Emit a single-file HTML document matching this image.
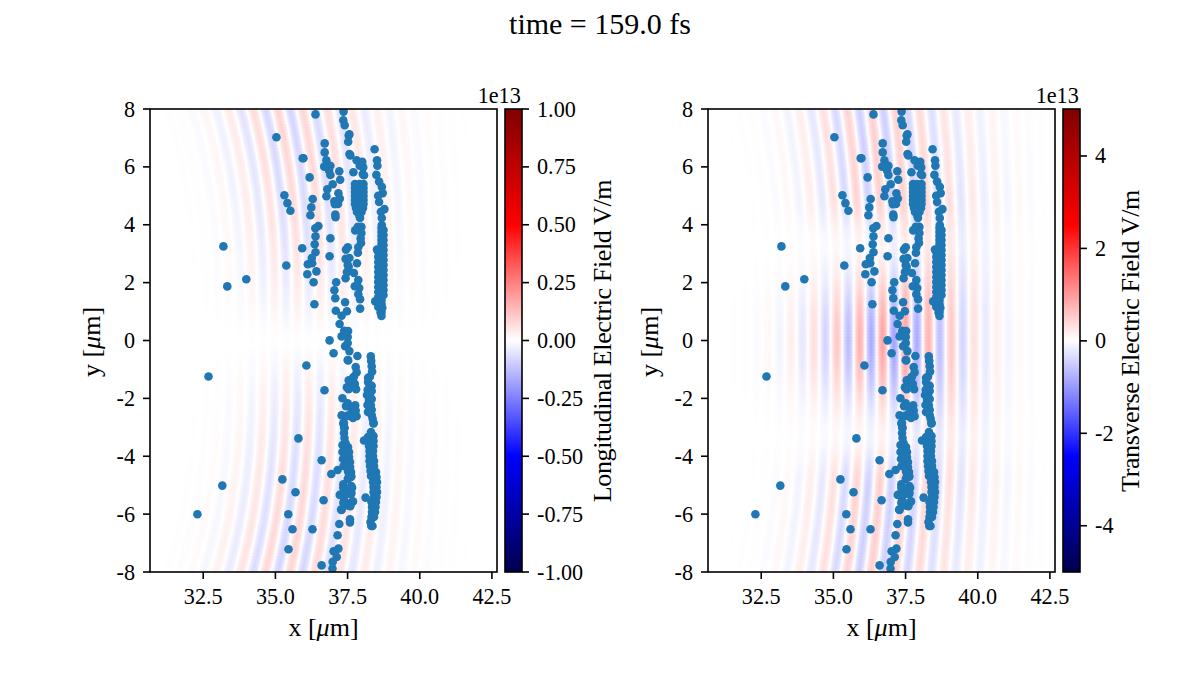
<!DOCTYPE html><html><head><meta charset="utf-8"><style>html,body{margin:0;padding:0;background:#fff;}svg{display:block;}.w stop{stop-color:#fff}</style></head><body>
<svg width="1200" height="675" viewBox="0 0 1200 675" font-family="'Liberation Serif', 'Times New Roman', serif">
<defs><linearGradient id="seis" x1="0" y1="1" x2="0" y2="0"><stop offset="0" stop-color="#00004d"/><stop offset="0.25" stop-color="#0000ff"/><stop offset="0.5" stop-color="#ffffff"/><stop offset="0.75" stop-color="#ff0000"/><stop offset="1" stop-color="#800000"/></linearGradient><filter id="fbm" x="-5%" y="-5%" width="110%" height="110%"><feGaussianBlur stdDeviation="0 3"/></filter></defs>
<text x="600" y="34" font-size="30" text-anchor="middle">time = 159.0 fs</text>
<clipPath id="clip0"><rect x="150.0" y="109.0" width="347.0" height="463.0"/></clipPath>
<defs><linearGradient id="p0" gradientUnits="userSpaceOnUse" x1="90.0" y1="0" x2="557.0" y2="0"><stop offset="0.00133" stop-color="#f00" stop-opacity="1.000"/><stop offset="0.00748" stop-color="#f00" stop-opacity="0.707"/><stop offset="0.01363" stop-color="#f00" stop-opacity="0"/><stop offset="0.01363" stop-color="#00f" stop-opacity="0"/><stop offset="0.01978" stop-color="#00f" stop-opacity="0.707"/><stop offset="0.02593" stop-color="#00f" stop-opacity="1.000"/><stop offset="0.03208" stop-color="#00f" stop-opacity="0.707"/><stop offset="0.03823" stop-color="#00f" stop-opacity="0"/><stop offset="0.03823" stop-color="#f00" stop-opacity="0"/><stop offset="0.04438" stop-color="#f00" stop-opacity="0.707"/><stop offset="0.05054" stop-color="#f00" stop-opacity="1.000"/><stop offset="0.05669" stop-color="#f00" stop-opacity="0.707"/><stop offset="0.06284" stop-color="#f00" stop-opacity="0"/><stop offset="0.06284" stop-color="#00f" stop-opacity="0"/><stop offset="0.06899" stop-color="#00f" stop-opacity="0.707"/><stop offset="0.07514" stop-color="#00f" stop-opacity="1.000"/><stop offset="0.08129" stop-color="#00f" stop-opacity="0.707"/><stop offset="0.08744" stop-color="#00f" stop-opacity="0"/><stop offset="0.08744" stop-color="#f00" stop-opacity="0"/><stop offset="0.09359" stop-color="#f00" stop-opacity="0.707"/><stop offset="0.09974" stop-color="#f00" stop-opacity="1.000"/><stop offset="0.10589" stop-color="#f00" stop-opacity="0.707"/><stop offset="0.11204" stop-color="#f00" stop-opacity="0"/><stop offset="0.11204" stop-color="#00f" stop-opacity="0"/><stop offset="0.11820" stop-color="#00f" stop-opacity="0.707"/><stop offset="0.12435" stop-color="#00f" stop-opacity="1.000"/><stop offset="0.13050" stop-color="#00f" stop-opacity="0.707"/><stop offset="0.13665" stop-color="#00f" stop-opacity="0"/><stop offset="0.13665" stop-color="#f00" stop-opacity="0"/><stop offset="0.14280" stop-color="#f00" stop-opacity="0.707"/><stop offset="0.14895" stop-color="#f00" stop-opacity="1.000"/><stop offset="0.15510" stop-color="#f00" stop-opacity="0.707"/><stop offset="0.16125" stop-color="#f00" stop-opacity="0"/><stop offset="0.16125" stop-color="#00f" stop-opacity="0"/><stop offset="0.16740" stop-color="#00f" stop-opacity="0.707"/><stop offset="0.17355" stop-color="#00f" stop-opacity="1.000"/><stop offset="0.17971" stop-color="#00f" stop-opacity="0.707"/><stop offset="0.18586" stop-color="#00f" stop-opacity="0"/><stop offset="0.18586" stop-color="#f00" stop-opacity="0"/><stop offset="0.19201" stop-color="#f00" stop-opacity="0.707"/><stop offset="0.19816" stop-color="#f00" stop-opacity="1.000"/><stop offset="0.20431" stop-color="#f00" stop-opacity="0.707"/><stop offset="0.21046" stop-color="#f00" stop-opacity="0"/><stop offset="0.21046" stop-color="#00f" stop-opacity="0"/><stop offset="0.21661" stop-color="#00f" stop-opacity="0.707"/><stop offset="0.22276" stop-color="#00f" stop-opacity="1.000"/><stop offset="0.22891" stop-color="#00f" stop-opacity="0.707"/><stop offset="0.23506" stop-color="#00f" stop-opacity="0"/><stop offset="0.23506" stop-color="#f00" stop-opacity="0"/><stop offset="0.24122" stop-color="#f00" stop-opacity="0.707"/><stop offset="0.24737" stop-color="#f00" stop-opacity="1.000"/><stop offset="0.25352" stop-color="#f00" stop-opacity="0.707"/><stop offset="0.25967" stop-color="#f00" stop-opacity="0"/><stop offset="0.25967" stop-color="#00f" stop-opacity="0"/><stop offset="0.26582" stop-color="#00f" stop-opacity="0.707"/><stop offset="0.27197" stop-color="#00f" stop-opacity="1.000"/><stop offset="0.27812" stop-color="#00f" stop-opacity="0.707"/><stop offset="0.28427" stop-color="#00f" stop-opacity="0"/><stop offset="0.28427" stop-color="#f00" stop-opacity="0"/><stop offset="0.29042" stop-color="#f00" stop-opacity="0.707"/><stop offset="0.29657" stop-color="#f00" stop-opacity="1.000"/><stop offset="0.30272" stop-color="#f00" stop-opacity="0.707"/><stop offset="0.30888" stop-color="#f00" stop-opacity="0"/><stop offset="0.30888" stop-color="#00f" stop-opacity="0"/><stop offset="0.31503" stop-color="#00f" stop-opacity="0.707"/><stop offset="0.32118" stop-color="#00f" stop-opacity="1.000"/><stop offset="0.32733" stop-color="#00f" stop-opacity="0.707"/><stop offset="0.33348" stop-color="#00f" stop-opacity="0"/><stop offset="0.33348" stop-color="#f00" stop-opacity="0"/><stop offset="0.33963" stop-color="#f00" stop-opacity="0.707"/><stop offset="0.34578" stop-color="#f00" stop-opacity="1.000"/><stop offset="0.35193" stop-color="#f00" stop-opacity="0.707"/><stop offset="0.35808" stop-color="#f00" stop-opacity="0"/><stop offset="0.35808" stop-color="#00f" stop-opacity="0"/><stop offset="0.36423" stop-color="#00f" stop-opacity="0.707"/><stop offset="0.37039" stop-color="#00f" stop-opacity="1.000"/><stop offset="0.37654" stop-color="#00f" stop-opacity="0.707"/><stop offset="0.38269" stop-color="#00f" stop-opacity="0"/><stop offset="0.38269" stop-color="#f00" stop-opacity="0"/><stop offset="0.38884" stop-color="#f00" stop-opacity="0.707"/><stop offset="0.39499" stop-color="#f00" stop-opacity="1.000"/><stop offset="0.40114" stop-color="#f00" stop-opacity="0.707"/><stop offset="0.40729" stop-color="#f00" stop-opacity="0"/><stop offset="0.40729" stop-color="#00f" stop-opacity="0"/><stop offset="0.41344" stop-color="#00f" stop-opacity="0.707"/><stop offset="0.41959" stop-color="#00f" stop-opacity="1.000"/><stop offset="0.42574" stop-color="#00f" stop-opacity="0.707"/><stop offset="0.43190" stop-color="#00f" stop-opacity="0"/><stop offset="0.43190" stop-color="#f00" stop-opacity="0"/><stop offset="0.43805" stop-color="#f00" stop-opacity="0.707"/><stop offset="0.44420" stop-color="#f00" stop-opacity="1.000"/><stop offset="0.45035" stop-color="#f00" stop-opacity="0.707"/><stop offset="0.45650" stop-color="#f00" stop-opacity="0"/><stop offset="0.45650" stop-color="#00f" stop-opacity="0"/><stop offset="0.46265" stop-color="#00f" stop-opacity="0.707"/><stop offset="0.46880" stop-color="#00f" stop-opacity="1.000"/><stop offset="0.47495" stop-color="#00f" stop-opacity="0.707"/><stop offset="0.48110" stop-color="#00f" stop-opacity="0"/><stop offset="0.48110" stop-color="#f00" stop-opacity="0"/><stop offset="0.48725" stop-color="#f00" stop-opacity="0.707"/><stop offset="0.49340" stop-color="#f00" stop-opacity="1.000"/><stop offset="0.49956" stop-color="#f00" stop-opacity="0.707"/><stop offset="0.50571" stop-color="#f00" stop-opacity="0"/><stop offset="0.50571" stop-color="#00f" stop-opacity="0"/><stop offset="0.51186" stop-color="#00f" stop-opacity="0.707"/><stop offset="0.51801" stop-color="#00f" stop-opacity="1.000"/><stop offset="0.52416" stop-color="#00f" stop-opacity="0.707"/><stop offset="0.53031" stop-color="#00f" stop-opacity="0"/><stop offset="0.53031" stop-color="#f00" stop-opacity="0"/><stop offset="0.53646" stop-color="#f00" stop-opacity="0.707"/><stop offset="0.54261" stop-color="#f00" stop-opacity="1.000"/><stop offset="0.54876" stop-color="#f00" stop-opacity="0.707"/><stop offset="0.55491" stop-color="#f00" stop-opacity="0"/><stop offset="0.55491" stop-color="#00f" stop-opacity="0"/><stop offset="0.56107" stop-color="#00f" stop-opacity="0.707"/><stop offset="0.56722" stop-color="#00f" stop-opacity="1.000"/><stop offset="0.57337" stop-color="#00f" stop-opacity="0.707"/><stop offset="0.57952" stop-color="#00f" stop-opacity="0"/><stop offset="0.57952" stop-color="#f00" stop-opacity="0"/><stop offset="0.58567" stop-color="#f00" stop-opacity="0.707"/><stop offset="0.59182" stop-color="#f00" stop-opacity="1.000"/><stop offset="0.59797" stop-color="#f00" stop-opacity="0.707"/><stop offset="0.60412" stop-color="#f00" stop-opacity="0"/><stop offset="0.60412" stop-color="#00f" stop-opacity="0"/><stop offset="0.61027" stop-color="#00f" stop-opacity="0.707"/><stop offset="0.61642" stop-color="#00f" stop-opacity="1.000"/><stop offset="0.62257" stop-color="#00f" stop-opacity="0.707"/><stop offset="0.62873" stop-color="#00f" stop-opacity="0"/><stop offset="0.62873" stop-color="#f00" stop-opacity="0"/><stop offset="0.63488" stop-color="#f00" stop-opacity="0.707"/><stop offset="0.64103" stop-color="#f00" stop-opacity="1.000"/><stop offset="0.64718" stop-color="#f00" stop-opacity="0.707"/><stop offset="0.65333" stop-color="#f00" stop-opacity="0"/><stop offset="0.65333" stop-color="#00f" stop-opacity="0"/><stop offset="0.65948" stop-color="#00f" stop-opacity="0.707"/><stop offset="0.66563" stop-color="#00f" stop-opacity="1.000"/><stop offset="0.67178" stop-color="#00f" stop-opacity="0.707"/><stop offset="0.67793" stop-color="#00f" stop-opacity="0"/><stop offset="0.67793" stop-color="#f00" stop-opacity="0"/><stop offset="0.68408" stop-color="#f00" stop-opacity="0.707"/><stop offset="0.69024" stop-color="#f00" stop-opacity="1.000"/><stop offset="0.69639" stop-color="#f00" stop-opacity="0.707"/><stop offset="0.70254" stop-color="#f00" stop-opacity="0"/><stop offset="0.70254" stop-color="#00f" stop-opacity="0"/><stop offset="0.70869" stop-color="#00f" stop-opacity="0.707"/><stop offset="0.71484" stop-color="#00f" stop-opacity="1.000"/><stop offset="0.72099" stop-color="#00f" stop-opacity="0.707"/><stop offset="0.72714" stop-color="#00f" stop-opacity="0"/><stop offset="0.72714" stop-color="#f00" stop-opacity="0"/><stop offset="0.73329" stop-color="#f00" stop-opacity="0.707"/><stop offset="0.73944" stop-color="#f00" stop-opacity="1.000"/><stop offset="0.74559" stop-color="#f00" stop-opacity="0.707"/><stop offset="0.75175" stop-color="#f00" stop-opacity="0"/><stop offset="0.75175" stop-color="#00f" stop-opacity="0"/><stop offset="0.75790" stop-color="#00f" stop-opacity="0.707"/><stop offset="0.76405" stop-color="#00f" stop-opacity="1.000"/><stop offset="0.77020" stop-color="#00f" stop-opacity="0.707"/><stop offset="0.77635" stop-color="#00f" stop-opacity="0"/><stop offset="0.77635" stop-color="#f00" stop-opacity="0"/><stop offset="0.78250" stop-color="#f00" stop-opacity="0.707"/><stop offset="0.78865" stop-color="#f00" stop-opacity="1.000"/><stop offset="0.79480" stop-color="#f00" stop-opacity="0.707"/><stop offset="0.80095" stop-color="#f00" stop-opacity="0"/><stop offset="0.80095" stop-color="#00f" stop-opacity="0"/><stop offset="0.80710" stop-color="#00f" stop-opacity="0.707"/><stop offset="0.81325" stop-color="#00f" stop-opacity="1.000"/><stop offset="0.81941" stop-color="#00f" stop-opacity="0.707"/><stop offset="0.82556" stop-color="#00f" stop-opacity="0"/><stop offset="0.82556" stop-color="#f00" stop-opacity="0"/><stop offset="0.83171" stop-color="#f00" stop-opacity="0.707"/><stop offset="0.83786" stop-color="#f00" stop-opacity="1.000"/><stop offset="0.84401" stop-color="#f00" stop-opacity="0.707"/><stop offset="0.85016" stop-color="#f00" stop-opacity="0"/><stop offset="0.85016" stop-color="#00f" stop-opacity="0"/><stop offset="0.85631" stop-color="#00f" stop-opacity="0.707"/><stop offset="0.86246" stop-color="#00f" stop-opacity="1.000"/><stop offset="0.86861" stop-color="#00f" stop-opacity="0.707"/><stop offset="0.87476" stop-color="#00f" stop-opacity="0"/><stop offset="0.87476" stop-color="#f00" stop-opacity="0"/><stop offset="0.88092" stop-color="#f00" stop-opacity="0.707"/><stop offset="0.88707" stop-color="#f00" stop-opacity="1.000"/><stop offset="0.89322" stop-color="#f00" stop-opacity="0.707"/><stop offset="0.89937" stop-color="#f00" stop-opacity="0"/><stop offset="0.89937" stop-color="#00f" stop-opacity="0"/><stop offset="0.90552" stop-color="#00f" stop-opacity="0.707"/><stop offset="0.91167" stop-color="#00f" stop-opacity="1.000"/><stop offset="0.91782" stop-color="#00f" stop-opacity="0.707"/><stop offset="0.92397" stop-color="#00f" stop-opacity="0"/><stop offset="0.92397" stop-color="#f00" stop-opacity="0"/><stop offset="0.93012" stop-color="#f00" stop-opacity="0.707"/><stop offset="0.93627" stop-color="#f00" stop-opacity="1.000"/><stop offset="0.94243" stop-color="#f00" stop-opacity="0.707"/><stop offset="0.94858" stop-color="#f00" stop-opacity="0"/><stop offset="0.94858" stop-color="#00f" stop-opacity="0"/><stop offset="0.95473" stop-color="#00f" stop-opacity="0.707"/><stop offset="0.96088" stop-color="#00f" stop-opacity="1.000"/><stop offset="0.96703" stop-color="#00f" stop-opacity="0.707"/><stop offset="0.97318" stop-color="#00f" stop-opacity="0"/><stop offset="0.97318" stop-color="#f00" stop-opacity="0"/><stop offset="0.97933" stop-color="#f00" stop-opacity="0.707"/><stop offset="0.98548" stop-color="#f00" stop-opacity="1.000"/><stop offset="0.99163" stop-color="#f00" stop-opacity="0.707"/><stop offset="0.99778" stop-color="#f00" stop-opacity="0"/><stop offset="0.99778" stop-color="#00f" stop-opacity="0"/></linearGradient><linearGradient class="w" id="m0_0" gradientUnits="userSpaceOnUse" x1="128.3" x2="518.7"><stop offset="0.000" stop-opacity="0.00"/><stop offset="0.056" stop-opacity="0.01"/><stop offset="0.111" stop-opacity="0.04"/><stop offset="0.167" stop-opacity="0.12"/><stop offset="0.222" stop-opacity="0.28"/><stop offset="0.278" stop-opacity="0.53"/><stop offset="0.333" stop-opacity="0.76"/><stop offset="0.389" stop-opacity="0.85"/><stop offset="0.444" stop-opacity="0.81"/><stop offset="0.500" stop-opacity="0.69"/><stop offset="0.556" stop-opacity="0.53"/><stop offset="0.611" stop-opacity="0.37"/><stop offset="0.667" stop-opacity="0.23"/><stop offset="0.722" stop-opacity="0.13"/><stop offset="0.778" stop-opacity="0.07"/><stop offset="0.833" stop-opacity="0.03"/><stop offset="0.889" stop-opacity="0.01"/><stop offset="0.944" stop-opacity="0.00"/></linearGradient><linearGradient class="w" id="m0_1" gradientUnits="userSpaceOnUse" x1="128.3" x2="518.7"><stop offset="0.000" stop-opacity="0.00"/><stop offset="0.056" stop-opacity="0.01"/><stop offset="0.111" stop-opacity="0.03"/><stop offset="0.167" stop-opacity="0.11"/><stop offset="0.222" stop-opacity="0.26"/><stop offset="0.278" stop-opacity="0.50"/><stop offset="0.333" stop-opacity="0.74"/><stop offset="0.389" stop-opacity="0.85"/><stop offset="0.444" stop-opacity="0.81"/><stop offset="0.500" stop-opacity="0.69"/><stop offset="0.556" stop-opacity="0.54"/><stop offset="0.611" stop-opacity="0.37"/><stop offset="0.667" stop-opacity="0.23"/><stop offset="0.722" stop-opacity="0.13"/><stop offset="0.778" stop-opacity="0.07"/><stop offset="0.833" stop-opacity="0.03"/><stop offset="0.889" stop-opacity="0.01"/><stop offset="0.944" stop-opacity="0.00"/></linearGradient><linearGradient class="w" id="m0_2" gradientUnits="userSpaceOnUse" x1="128.3" x2="518.7"><stop offset="0.000" stop-opacity="0.00"/><stop offset="0.056" stop-opacity="0.01"/><stop offset="0.111" stop-opacity="0.03"/><stop offset="0.167" stop-opacity="0.09"/><stop offset="0.222" stop-opacity="0.24"/><stop offset="0.278" stop-opacity="0.47"/><stop offset="0.333" stop-opacity="0.71"/><stop offset="0.389" stop-opacity="0.84"/><stop offset="0.444" stop-opacity="0.81"/><stop offset="0.500" stop-opacity="0.70"/><stop offset="0.556" stop-opacity="0.54"/><stop offset="0.611" stop-opacity="0.38"/><stop offset="0.667" stop-opacity="0.24"/><stop offset="0.722" stop-opacity="0.13"/><stop offset="0.778" stop-opacity="0.07"/><stop offset="0.833" stop-opacity="0.03"/><stop offset="0.889" stop-opacity="0.01"/><stop offset="0.944" stop-opacity="0.00"/></linearGradient><linearGradient class="w" id="m0_3" gradientUnits="userSpaceOnUse" x1="128.3" x2="518.7"><stop offset="0.056" stop-opacity="0.01"/><stop offset="0.111" stop-opacity="0.02"/><stop offset="0.167" stop-opacity="0.08"/><stop offset="0.222" stop-opacity="0.22"/><stop offset="0.278" stop-opacity="0.44"/><stop offset="0.333" stop-opacity="0.69"/><stop offset="0.389" stop-opacity="0.83"/><stop offset="0.444" stop-opacity="0.81"/><stop offset="0.500" stop-opacity="0.70"/><stop offset="0.556" stop-opacity="0.55"/><stop offset="0.611" stop-opacity="0.38"/><stop offset="0.667" stop-opacity="0.24"/><stop offset="0.722" stop-opacity="0.14"/><stop offset="0.778" stop-opacity="0.07"/><stop offset="0.833" stop-opacity="0.03"/><stop offset="0.889" stop-opacity="0.01"/><stop offset="0.944" stop-opacity="0.00"/></linearGradient><linearGradient class="w" id="m0_4" gradientUnits="userSpaceOnUse" x1="128.3" x2="518.7"><stop offset="0.056" stop-opacity="0.00"/><stop offset="0.111" stop-opacity="0.02"/><stop offset="0.167" stop-opacity="0.07"/><stop offset="0.222" stop-opacity="0.20"/><stop offset="0.278" stop-opacity="0.42"/><stop offset="0.333" stop-opacity="0.66"/><stop offset="0.389" stop-opacity="0.82"/><stop offset="0.444" stop-opacity="0.80"/><stop offset="0.500" stop-opacity="0.70"/><stop offset="0.556" stop-opacity="0.55"/><stop offset="0.611" stop-opacity="0.39"/><stop offset="0.667" stop-opacity="0.24"/><stop offset="0.722" stop-opacity="0.14"/><stop offset="0.778" stop-opacity="0.07"/><stop offset="0.833" stop-opacity="0.03"/><stop offset="0.889" stop-opacity="0.01"/><stop offset="0.944" stop-opacity="0.00"/></linearGradient><linearGradient class="w" id="m0_5" gradientUnits="userSpaceOnUse" x1="128.3" x2="518.7"><stop offset="0.056" stop-opacity="0.00"/><stop offset="0.111" stop-opacity="0.02"/><stop offset="0.167" stop-opacity="0.07"/><stop offset="0.222" stop-opacity="0.18"/><stop offset="0.278" stop-opacity="0.39"/><stop offset="0.333" stop-opacity="0.64"/><stop offset="0.389" stop-opacity="0.80"/><stop offset="0.444" stop-opacity="0.80"/><stop offset="0.500" stop-opacity="0.70"/><stop offset="0.556" stop-opacity="0.55"/><stop offset="0.611" stop-opacity="0.39"/><stop offset="0.667" stop-opacity="0.25"/><stop offset="0.722" stop-opacity="0.14"/><stop offset="0.778" stop-opacity="0.07"/><stop offset="0.833" stop-opacity="0.03"/><stop offset="0.889" stop-opacity="0.01"/><stop offset="0.944" stop-opacity="0.00"/></linearGradient><linearGradient class="w" id="m0_6" gradientUnits="userSpaceOnUse" x1="128.3" x2="518.7"><stop offset="0.056" stop-opacity="0.00"/><stop offset="0.111" stop-opacity="0.02"/><stop offset="0.167" stop-opacity="0.06"/><stop offset="0.222" stop-opacity="0.17"/><stop offset="0.278" stop-opacity="0.37"/><stop offset="0.333" stop-opacity="0.62"/><stop offset="0.389" stop-opacity="0.79"/><stop offset="0.444" stop-opacity="0.79"/><stop offset="0.500" stop-opacity="0.70"/><stop offset="0.556" stop-opacity="0.55"/><stop offset="0.611" stop-opacity="0.39"/><stop offset="0.667" stop-opacity="0.25"/><stop offset="0.722" stop-opacity="0.14"/><stop offset="0.778" stop-opacity="0.07"/><stop offset="0.833" stop-opacity="0.03"/><stop offset="0.889" stop-opacity="0.01"/><stop offset="0.944" stop-opacity="0.00"/></linearGradient><linearGradient class="w" id="m0_7" gradientUnits="userSpaceOnUse" x1="128.3" x2="518.7"><stop offset="0.056" stop-opacity="0.00"/><stop offset="0.111" stop-opacity="0.01"/><stop offset="0.167" stop-opacity="0.05"/><stop offset="0.222" stop-opacity="0.15"/><stop offset="0.278" stop-opacity="0.35"/><stop offset="0.333" stop-opacity="0.59"/><stop offset="0.389" stop-opacity="0.77"/><stop offset="0.444" stop-opacity="0.78"/><stop offset="0.500" stop-opacity="0.70"/><stop offset="0.556" stop-opacity="0.55"/><stop offset="0.611" stop-opacity="0.39"/><stop offset="0.667" stop-opacity="0.25"/><stop offset="0.722" stop-opacity="0.14"/><stop offset="0.778" stop-opacity="0.07"/><stop offset="0.833" stop-opacity="0.03"/><stop offset="0.889" stop-opacity="0.01"/><stop offset="0.944" stop-opacity="0.00"/></linearGradient><linearGradient class="w" id="m0_8" gradientUnits="userSpaceOnUse" x1="128.3" x2="518.7"><stop offset="0.056" stop-opacity="0.00"/><stop offset="0.111" stop-opacity="0.01"/><stop offset="0.167" stop-opacity="0.05"/><stop offset="0.222" stop-opacity="0.14"/><stop offset="0.278" stop-opacity="0.33"/><stop offset="0.333" stop-opacity="0.57"/><stop offset="0.389" stop-opacity="0.75"/><stop offset="0.444" stop-opacity="0.77"/><stop offset="0.500" stop-opacity="0.69"/><stop offset="0.556" stop-opacity="0.55"/><stop offset="0.611" stop-opacity="0.39"/><stop offset="0.667" stop-opacity="0.25"/><stop offset="0.722" stop-opacity="0.14"/><stop offset="0.778" stop-opacity="0.07"/><stop offset="0.833" stop-opacity="0.03"/><stop offset="0.889" stop-opacity="0.01"/><stop offset="0.944" stop-opacity="0.00"/></linearGradient><linearGradient class="w" id="m0_9" gradientUnits="userSpaceOnUse" x1="128.3" x2="518.7"><stop offset="0.056" stop-opacity="0.00"/><stop offset="0.111" stop-opacity="0.01"/><stop offset="0.167" stop-opacity="0.04"/><stop offset="0.222" stop-opacity="0.13"/><stop offset="0.278" stop-opacity="0.31"/><stop offset="0.333" stop-opacity="0.55"/><stop offset="0.389" stop-opacity="0.74"/><stop offset="0.444" stop-opacity="0.76"/><stop offset="0.500" stop-opacity="0.69"/><stop offset="0.556" stop-opacity="0.55"/><stop offset="0.611" stop-opacity="0.39"/><stop offset="0.667" stop-opacity="0.25"/><stop offset="0.722" stop-opacity="0.14"/><stop offset="0.778" stop-opacity="0.07"/><stop offset="0.833" stop-opacity="0.03"/><stop offset="0.889" stop-opacity="0.01"/><stop offset="0.944" stop-opacity="0.00"/></linearGradient><linearGradient class="w" id="m0_10" gradientUnits="userSpaceOnUse" x1="128.3" x2="518.7"><stop offset="0.056" stop-opacity="0.00"/><stop offset="0.111" stop-opacity="0.01"/><stop offset="0.167" stop-opacity="0.04"/><stop offset="0.222" stop-opacity="0.12"/><stop offset="0.278" stop-opacity="0.29"/><stop offset="0.333" stop-opacity="0.52"/><stop offset="0.389" stop-opacity="0.72"/><stop offset="0.444" stop-opacity="0.75"/><stop offset="0.500" stop-opacity="0.68"/><stop offset="0.556" stop-opacity="0.55"/><stop offset="0.611" stop-opacity="0.39"/><stop offset="0.667" stop-opacity="0.25"/><stop offset="0.722" stop-opacity="0.14"/><stop offset="0.778" stop-opacity="0.07"/><stop offset="0.833" stop-opacity="0.03"/><stop offset="0.889" stop-opacity="0.01"/><stop offset="0.944" stop-opacity="0.00"/></linearGradient><linearGradient class="w" id="m0_11" gradientUnits="userSpaceOnUse" x1="128.3" x2="518.7"><stop offset="0.056" stop-opacity="0.00"/><stop offset="0.111" stop-opacity="0.01"/><stop offset="0.167" stop-opacity="0.03"/><stop offset="0.222" stop-opacity="0.11"/><stop offset="0.278" stop-opacity="0.27"/><stop offset="0.333" stop-opacity="0.50"/><stop offset="0.389" stop-opacity="0.70"/><stop offset="0.444" stop-opacity="0.74"/><stop offset="0.500" stop-opacity="0.67"/><stop offset="0.556" stop-opacity="0.54"/><stop offset="0.611" stop-opacity="0.39"/><stop offset="0.667" stop-opacity="0.25"/><stop offset="0.722" stop-opacity="0.14"/><stop offset="0.778" stop-opacity="0.07"/><stop offset="0.833" stop-opacity="0.03"/><stop offset="0.889" stop-opacity="0.01"/><stop offset="0.944" stop-opacity="0.00"/></linearGradient><linearGradient class="w" id="m0_12" gradientUnits="userSpaceOnUse" x1="128.3" x2="518.7"><stop offset="0.056" stop-opacity="0.00"/><stop offset="0.111" stop-opacity="0.01"/><stop offset="0.167" stop-opacity="0.03"/><stop offset="0.222" stop-opacity="0.10"/><stop offset="0.278" stop-opacity="0.26"/><stop offset="0.333" stop-opacity="0.48"/><stop offset="0.389" stop-opacity="0.68"/><stop offset="0.444" stop-opacity="0.72"/><stop offset="0.500" stop-opacity="0.66"/><stop offset="0.556" stop-opacity="0.53"/><stop offset="0.611" stop-opacity="0.38"/><stop offset="0.667" stop-opacity="0.24"/><stop offset="0.722" stop-opacity="0.14"/><stop offset="0.778" stop-opacity="0.07"/><stop offset="0.833" stop-opacity="0.03"/><stop offset="0.889" stop-opacity="0.01"/><stop offset="0.944" stop-opacity="0.00"/></linearGradient><linearGradient class="w" id="m0_13" gradientUnits="userSpaceOnUse" x1="128.3" x2="518.7"><stop offset="0.056" stop-opacity="0.00"/><stop offset="0.111" stop-opacity="0.01"/><stop offset="0.167" stop-opacity="0.03"/><stop offset="0.222" stop-opacity="0.10"/><stop offset="0.278" stop-opacity="0.24"/><stop offset="0.333" stop-opacity="0.46"/><stop offset="0.389" stop-opacity="0.65"/><stop offset="0.444" stop-opacity="0.70"/><stop offset="0.500" stop-opacity="0.64"/><stop offset="0.556" stop-opacity="0.52"/><stop offset="0.611" stop-opacity="0.38"/><stop offset="0.667" stop-opacity="0.24"/><stop offset="0.722" stop-opacity="0.14"/><stop offset="0.778" stop-opacity="0.07"/><stop offset="0.833" stop-opacity="0.03"/><stop offset="0.889" stop-opacity="0.01"/><stop offset="0.944" stop-opacity="0.00"/></linearGradient><linearGradient class="w" id="m0_14" gradientUnits="userSpaceOnUse" x1="128.3" x2="518.7"><stop offset="0.111" stop-opacity="0.01"/><stop offset="0.167" stop-opacity="0.03"/><stop offset="0.222" stop-opacity="0.09"/><stop offset="0.278" stop-opacity="0.23"/><stop offset="0.333" stop-opacity="0.44"/><stop offset="0.389" stop-opacity="0.63"/><stop offset="0.444" stop-opacity="0.69"/><stop offset="0.500" stop-opacity="0.63"/><stop offset="0.556" stop-opacity="0.51"/><stop offset="0.611" stop-opacity="0.37"/><stop offset="0.667" stop-opacity="0.24"/><stop offset="0.722" stop-opacity="0.13"/><stop offset="0.778" stop-opacity="0.07"/><stop offset="0.833" stop-opacity="0.03"/><stop offset="0.889" stop-opacity="0.01"/><stop offset="0.944" stop-opacity="0.00"/></linearGradient><linearGradient class="w" id="m0_15" gradientUnits="userSpaceOnUse" x1="128.3" x2="518.7"><stop offset="0.111" stop-opacity="0.01"/><stop offset="0.167" stop-opacity="0.02"/><stop offset="0.222" stop-opacity="0.08"/><stop offset="0.278" stop-opacity="0.21"/><stop offset="0.333" stop-opacity="0.42"/><stop offset="0.389" stop-opacity="0.61"/><stop offset="0.444" stop-opacity="0.66"/><stop offset="0.500" stop-opacity="0.61"/><stop offset="0.556" stop-opacity="0.50"/><stop offset="0.611" stop-opacity="0.36"/><stop offset="0.667" stop-opacity="0.23"/><stop offset="0.722" stop-opacity="0.13"/><stop offset="0.778" stop-opacity="0.07"/><stop offset="0.833" stop-opacity="0.03"/><stop offset="0.889" stop-opacity="0.01"/><stop offset="0.944" stop-opacity="0.00"/></linearGradient><linearGradient class="w" id="m0_16" gradientUnits="userSpaceOnUse" x1="128.3" x2="518.7"><stop offset="0.111" stop-opacity="0.00"/><stop offset="0.167" stop-opacity="0.02"/><stop offset="0.222" stop-opacity="0.08"/><stop offset="0.278" stop-opacity="0.20"/><stop offset="0.333" stop-opacity="0.39"/><stop offset="0.389" stop-opacity="0.58"/><stop offset="0.444" stop-opacity="0.64"/><stop offset="0.500" stop-opacity="0.59"/><stop offset="0.556" stop-opacity="0.48"/><stop offset="0.611" stop-opacity="0.35"/><stop offset="0.667" stop-opacity="0.23"/><stop offset="0.722" stop-opacity="0.13"/><stop offset="0.778" stop-opacity="0.06"/><stop offset="0.833" stop-opacity="0.03"/><stop offset="0.889" stop-opacity="0.01"/><stop offset="0.944" stop-opacity="0.00"/></linearGradient><linearGradient class="w" id="m0_17" gradientUnits="userSpaceOnUse" x1="128.3" x2="518.7"><stop offset="0.111" stop-opacity="0.00"/><stop offset="0.167" stop-opacity="0.02"/><stop offset="0.222" stop-opacity="0.07"/><stop offset="0.278" stop-opacity="0.19"/><stop offset="0.333" stop-opacity="0.37"/><stop offset="0.389" stop-opacity="0.55"/><stop offset="0.444" stop-opacity="0.62"/><stop offset="0.500" stop-opacity="0.57"/><stop offset="0.556" stop-opacity="0.47"/><stop offset="0.611" stop-opacity="0.34"/><stop offset="0.667" stop-opacity="0.22"/><stop offset="0.722" stop-opacity="0.12"/><stop offset="0.778" stop-opacity="0.06"/><stop offset="0.833" stop-opacity="0.03"/><stop offset="0.889" stop-opacity="0.01"/><stop offset="0.944" stop-opacity="0.00"/></linearGradient><linearGradient class="w" id="m0_18" gradientUnits="userSpaceOnUse" x1="128.3" x2="518.7"><stop offset="0.111" stop-opacity="0.00"/><stop offset="0.167" stop-opacity="0.02"/><stop offset="0.222" stop-opacity="0.07"/><stop offset="0.278" stop-opacity="0.18"/><stop offset="0.333" stop-opacity="0.35"/><stop offset="0.389" stop-opacity="0.53"/><stop offset="0.444" stop-opacity="0.59"/><stop offset="0.500" stop-opacity="0.54"/><stop offset="0.556" stop-opacity="0.45"/><stop offset="0.611" stop-opacity="0.32"/><stop offset="0.667" stop-opacity="0.21"/><stop offset="0.722" stop-opacity="0.12"/><stop offset="0.778" stop-opacity="0.06"/><stop offset="0.833" stop-opacity="0.03"/><stop offset="0.889" stop-opacity="0.01"/><stop offset="0.944" stop-opacity="0.00"/></linearGradient><linearGradient class="w" id="m0_19" gradientUnits="userSpaceOnUse" x1="128.3" x2="518.7"><stop offset="0.111" stop-opacity="0.00"/><stop offset="0.167" stop-opacity="0.02"/><stop offset="0.222" stop-opacity="0.06"/><stop offset="0.278" stop-opacity="0.16"/><stop offset="0.333" stop-opacity="0.33"/><stop offset="0.389" stop-opacity="0.50"/><stop offset="0.444" stop-opacity="0.56"/><stop offset="0.500" stop-opacity="0.52"/><stop offset="0.556" stop-opacity="0.42"/><stop offset="0.611" stop-opacity="0.31"/><stop offset="0.667" stop-opacity="0.20"/><stop offset="0.722" stop-opacity="0.11"/><stop offset="0.778" stop-opacity="0.06"/><stop offset="0.833" stop-opacity="0.03"/><stop offset="0.889" stop-opacity="0.01"/><stop offset="0.944" stop-opacity="0.00"/></linearGradient><linearGradient class="w" id="m0_20" gradientUnits="userSpaceOnUse" x1="128.3" x2="518.7"><stop offset="0.111" stop-opacity="0.00"/><stop offset="0.167" stop-opacity="0.02"/><stop offset="0.222" stop-opacity="0.06"/><stop offset="0.278" stop-opacity="0.15"/><stop offset="0.333" stop-opacity="0.31"/><stop offset="0.389" stop-opacity="0.46"/><stop offset="0.444" stop-opacity="0.52"/><stop offset="0.500" stop-opacity="0.49"/><stop offset="0.556" stop-opacity="0.40"/><stop offset="0.611" stop-opacity="0.29"/><stop offset="0.667" stop-opacity="0.19"/><stop offset="0.722" stop-opacity="0.11"/><stop offset="0.778" stop-opacity="0.05"/><stop offset="0.833" stop-opacity="0.02"/><stop offset="0.889" stop-opacity="0.01"/><stop offset="0.944" stop-opacity="0.00"/></linearGradient><linearGradient class="w" id="m0_21" gradientUnits="userSpaceOnUse" x1="128.3" x2="518.7"><stop offset="0.111" stop-opacity="0.00"/><stop offset="0.167" stop-opacity="0.01"/><stop offset="0.222" stop-opacity="0.05"/><stop offset="0.278" stop-opacity="0.14"/><stop offset="0.333" stop-opacity="0.28"/><stop offset="0.389" stop-opacity="0.43"/><stop offset="0.444" stop-opacity="0.49"/><stop offset="0.500" stop-opacity="0.45"/><stop offset="0.556" stop-opacity="0.37"/><stop offset="0.611" stop-opacity="0.27"/><stop offset="0.667" stop-opacity="0.17"/><stop offset="0.722" stop-opacity="0.10"/><stop offset="0.778" stop-opacity="0.05"/><stop offset="0.833" stop-opacity="0.02"/><stop offset="0.889" stop-opacity="0.01"/><stop offset="0.944" stop-opacity="0.00"/></linearGradient><linearGradient class="w" id="m0_22" gradientUnits="userSpaceOnUse" x1="128.3" x2="518.7"><stop offset="0.111" stop-opacity="0.00"/><stop offset="0.167" stop-opacity="0.01"/><stop offset="0.222" stop-opacity="0.05"/><stop offset="0.278" stop-opacity="0.13"/><stop offset="0.333" stop-opacity="0.26"/><stop offset="0.389" stop-opacity="0.39"/><stop offset="0.444" stop-opacity="0.45"/><stop offset="0.500" stop-opacity="0.41"/><stop offset="0.556" stop-opacity="0.34"/><stop offset="0.611" stop-opacity="0.25"/><stop offset="0.667" stop-opacity="0.16"/><stop offset="0.722" stop-opacity="0.09"/><stop offset="0.778" stop-opacity="0.05"/><stop offset="0.833" stop-opacity="0.02"/><stop offset="0.889" stop-opacity="0.01"/><stop offset="0.944" stop-opacity="0.00"/></linearGradient><linearGradient class="w" id="m0_23" gradientUnits="userSpaceOnUse" x1="128.3" x2="518.7"><stop offset="0.111" stop-opacity="0.00"/><stop offset="0.167" stop-opacity="0.01"/><stop offset="0.222" stop-opacity="0.04"/><stop offset="0.278" stop-opacity="0.11"/><stop offset="0.333" stop-opacity="0.23"/><stop offset="0.389" stop-opacity="0.35"/><stop offset="0.444" stop-opacity="0.40"/><stop offset="0.500" stop-opacity="0.37"/><stop offset="0.556" stop-opacity="0.31"/><stop offset="0.611" stop-opacity="0.22"/><stop offset="0.667" stop-opacity="0.14"/><stop offset="0.722" stop-opacity="0.08"/><stop offset="0.778" stop-opacity="0.04"/><stop offset="0.833" stop-opacity="0.02"/><stop offset="0.889" stop-opacity="0.01"/><stop offset="0.944" stop-opacity="0.00"/></linearGradient><linearGradient class="w" id="m0_24" gradientUnits="userSpaceOnUse" x1="128.3" x2="518.7"><stop offset="0.111" stop-opacity="0.00"/><stop offset="0.167" stop-opacity="0.01"/><stop offset="0.222" stop-opacity="0.04"/><stop offset="0.278" stop-opacity="0.10"/><stop offset="0.333" stop-opacity="0.21"/><stop offset="0.389" stop-opacity="0.31"/><stop offset="0.444" stop-opacity="0.35"/><stop offset="0.500" stop-opacity="0.33"/><stop offset="0.556" stop-opacity="0.27"/><stop offset="0.611" stop-opacity="0.20"/><stop offset="0.667" stop-opacity="0.13"/><stop offset="0.722" stop-opacity="0.07"/><stop offset="0.778" stop-opacity="0.04"/><stop offset="0.833" stop-opacity="0.02"/><stop offset="0.889" stop-opacity="0.01"/><stop offset="0.944" stop-opacity="0.00"/></linearGradient><linearGradient class="w" id="m0_25" gradientUnits="userSpaceOnUse" x1="128.3" x2="518.7"><stop offset="0.111" stop-opacity="0.00"/><stop offset="0.167" stop-opacity="0.01"/><stop offset="0.222" stop-opacity="0.03"/><stop offset="0.278" stop-opacity="0.09"/><stop offset="0.333" stop-opacity="0.17"/><stop offset="0.389" stop-opacity="0.27"/><stop offset="0.444" stop-opacity="0.30"/><stop offset="0.500" stop-opacity="0.28"/><stop offset="0.556" stop-opacity="0.23"/><stop offset="0.611" stop-opacity="0.17"/><stop offset="0.667" stop-opacity="0.11"/><stop offset="0.722" stop-opacity="0.06"/><stop offset="0.778" stop-opacity="0.03"/><stop offset="0.833" stop-opacity="0.01"/><stop offset="0.889" stop-opacity="0.01"/></linearGradient><linearGradient class="w" id="m0_26" gradientUnits="userSpaceOnUse" x1="128.3" x2="518.7"><stop offset="0.111" stop-opacity="0.00"/><stop offset="0.167" stop-opacity="0.01"/><stop offset="0.222" stop-opacity="0.03"/><stop offset="0.278" stop-opacity="0.07"/><stop offset="0.333" stop-opacity="0.14"/><stop offset="0.389" stop-opacity="0.21"/><stop offset="0.444" stop-opacity="0.24"/><stop offset="0.500" stop-opacity="0.23"/><stop offset="0.556" stop-opacity="0.19"/><stop offset="0.611" stop-opacity="0.14"/><stop offset="0.667" stop-opacity="0.09"/><stop offset="0.722" stop-opacity="0.05"/><stop offset="0.778" stop-opacity="0.03"/><stop offset="0.833" stop-opacity="0.01"/><stop offset="0.889" stop-opacity="0.00"/></linearGradient><linearGradient class="w" id="m0_27" gradientUnits="userSpaceOnUse" x1="128.3" x2="518.7"><stop offset="0.167" stop-opacity="0.01"/><stop offset="0.222" stop-opacity="0.02"/><stop offset="0.278" stop-opacity="0.05"/><stop offset="0.333" stop-opacity="0.10"/><stop offset="0.389" stop-opacity="0.16"/><stop offset="0.444" stop-opacity="0.18"/><stop offset="0.500" stop-opacity="0.17"/><stop offset="0.556" stop-opacity="0.14"/><stop offset="0.611" stop-opacity="0.10"/><stop offset="0.667" stop-opacity="0.06"/><stop offset="0.722" stop-opacity="0.04"/><stop offset="0.778" stop-opacity="0.02"/><stop offset="0.833" stop-opacity="0.01"/><stop offset="0.889" stop-opacity="0.00"/></linearGradient><linearGradient class="w" id="m0_28" gradientUnits="userSpaceOnUse" x1="128.3" x2="518.7"><stop offset="0.167" stop-opacity="0.00"/><stop offset="0.222" stop-opacity="0.01"/><stop offset="0.278" stop-opacity="0.03"/><stop offset="0.333" stop-opacity="0.06"/><stop offset="0.389" stop-opacity="0.10"/><stop offset="0.444" stop-opacity="0.11"/><stop offset="0.500" stop-opacity="0.10"/><stop offset="0.556" stop-opacity="0.08"/><stop offset="0.611" stop-opacity="0.06"/><stop offset="0.667" stop-opacity="0.04"/><stop offset="0.722" stop-opacity="0.02"/><stop offset="0.778" stop-opacity="0.01"/><stop offset="0.833" stop-opacity="0.01"/></linearGradient><linearGradient class="w" id="m0_29" gradientUnits="userSpaceOnUse" x1="128.3" x2="518.7"><stop offset="0.222" stop-opacity="0.00"/><stop offset="0.278" stop-opacity="0.01"/><stop offset="0.333" stop-opacity="0.02"/><stop offset="0.389" stop-opacity="0.03"/><stop offset="0.444" stop-opacity="0.04"/><stop offset="0.500" stop-opacity="0.03"/><stop offset="0.556" stop-opacity="0.03"/><stop offset="0.611" stop-opacity="0.02"/><stop offset="0.667" stop-opacity="0.01"/><stop offset="0.722" stop-opacity="0.01"/><stop offset="0.778" stop-opacity="0.00"/></linearGradient><linearGradient class="w" id="m0_30" gradientUnits="userSpaceOnUse" x1="128.3" x2="518.7"><stop offset="0.222" stop-opacity="0.00"/><stop offset="0.278" stop-opacity="0.01"/><stop offset="0.333" stop-opacity="0.03"/><stop offset="0.389" stop-opacity="0.04"/><stop offset="0.444" stop-opacity="0.04"/><stop offset="0.500" stop-opacity="0.04"/><stop offset="0.556" stop-opacity="0.03"/><stop offset="0.611" stop-opacity="0.03"/><stop offset="0.667" stop-opacity="0.02"/><stop offset="0.722" stop-opacity="0.01"/><stop offset="0.778" stop-opacity="0.00"/></linearGradient><linearGradient class="w" id="m0_31" gradientUnits="userSpaceOnUse" x1="128.3" x2="518.7"><stop offset="0.167" stop-opacity="0.00"/><stop offset="0.222" stop-opacity="0.01"/><stop offset="0.278" stop-opacity="0.03"/><stop offset="0.333" stop-opacity="0.07"/><stop offset="0.389" stop-opacity="0.11"/><stop offset="0.444" stop-opacity="0.12"/><stop offset="0.500" stop-opacity="0.11"/><stop offset="0.556" stop-opacity="0.09"/><stop offset="0.611" stop-opacity="0.07"/><stop offset="0.667" stop-opacity="0.04"/><stop offset="0.722" stop-opacity="0.02"/><stop offset="0.778" stop-opacity="0.01"/><stop offset="0.833" stop-opacity="0.01"/></linearGradient><linearGradient class="w" id="m0_32" gradientUnits="userSpaceOnUse" x1="128.3" x2="518.7"><stop offset="0.167" stop-opacity="0.01"/><stop offset="0.222" stop-opacity="0.02"/><stop offset="0.278" stop-opacity="0.05"/><stop offset="0.333" stop-opacity="0.11"/><stop offset="0.389" stop-opacity="0.17"/><stop offset="0.444" stop-opacity="0.19"/><stop offset="0.500" stop-opacity="0.17"/><stop offset="0.556" stop-opacity="0.14"/><stop offset="0.611" stop-opacity="0.10"/><stop offset="0.667" stop-opacity="0.07"/><stop offset="0.722" stop-opacity="0.04"/><stop offset="0.778" stop-opacity="0.02"/><stop offset="0.833" stop-opacity="0.01"/><stop offset="0.889" stop-opacity="0.00"/></linearGradient><linearGradient class="w" id="m0_33" gradientUnits="userSpaceOnUse" x1="128.3" x2="518.7"><stop offset="0.111" stop-opacity="0.00"/><stop offset="0.167" stop-opacity="0.01"/><stop offset="0.222" stop-opacity="0.03"/><stop offset="0.278" stop-opacity="0.07"/><stop offset="0.333" stop-opacity="0.15"/><stop offset="0.389" stop-opacity="0.22"/><stop offset="0.444" stop-opacity="0.25"/><stop offset="0.500" stop-opacity="0.23"/><stop offset="0.556" stop-opacity="0.19"/><stop offset="0.611" stop-opacity="0.14"/><stop offset="0.667" stop-opacity="0.09"/><stop offset="0.722" stop-opacity="0.05"/><stop offset="0.778" stop-opacity="0.03"/><stop offset="0.833" stop-opacity="0.01"/><stop offset="0.889" stop-opacity="0.00"/></linearGradient><linearGradient class="w" id="m0_34" gradientUnits="userSpaceOnUse" x1="128.3" x2="518.7"><stop offset="0.111" stop-opacity="0.00"/><stop offset="0.167" stop-opacity="0.01"/><stop offset="0.222" stop-opacity="0.03"/><stop offset="0.278" stop-opacity="0.09"/><stop offset="0.333" stop-opacity="0.18"/><stop offset="0.389" stop-opacity="0.27"/><stop offset="0.444" stop-opacity="0.31"/><stop offset="0.500" stop-opacity="0.29"/><stop offset="0.556" stop-opacity="0.24"/><stop offset="0.611" stop-opacity="0.17"/><stop offset="0.667" stop-opacity="0.11"/><stop offset="0.722" stop-opacity="0.06"/><stop offset="0.778" stop-opacity="0.03"/><stop offset="0.833" stop-opacity="0.01"/><stop offset="0.889" stop-opacity="0.01"/></linearGradient><linearGradient class="w" id="m0_35" gradientUnits="userSpaceOnUse" x1="128.3" x2="518.7"><stop offset="0.111" stop-opacity="0.00"/><stop offset="0.167" stop-opacity="0.01"/><stop offset="0.222" stop-opacity="0.04"/><stop offset="0.278" stop-opacity="0.10"/><stop offset="0.333" stop-opacity="0.21"/><stop offset="0.389" stop-opacity="0.32"/><stop offset="0.444" stop-opacity="0.36"/><stop offset="0.500" stop-opacity="0.33"/><stop offset="0.556" stop-opacity="0.28"/><stop offset="0.611" stop-opacity="0.20"/><stop offset="0.667" stop-opacity="0.13"/><stop offset="0.722" stop-opacity="0.07"/><stop offset="0.778" stop-opacity="0.04"/><stop offset="0.833" stop-opacity="0.02"/><stop offset="0.889" stop-opacity="0.01"/><stop offset="0.944" stop-opacity="0.00"/></linearGradient><linearGradient class="w" id="m0_36" gradientUnits="userSpaceOnUse" x1="128.3" x2="518.7"><stop offset="0.111" stop-opacity="0.00"/><stop offset="0.167" stop-opacity="0.01"/><stop offset="0.222" stop-opacity="0.04"/><stop offset="0.278" stop-opacity="0.12"/><stop offset="0.333" stop-opacity="0.24"/><stop offset="0.389" stop-opacity="0.36"/><stop offset="0.444" stop-opacity="0.41"/><stop offset="0.500" stop-opacity="0.38"/><stop offset="0.556" stop-opacity="0.31"/><stop offset="0.611" stop-opacity="0.23"/><stop offset="0.667" stop-opacity="0.15"/><stop offset="0.722" stop-opacity="0.08"/><stop offset="0.778" stop-opacity="0.04"/><stop offset="0.833" stop-opacity="0.02"/><stop offset="0.889" stop-opacity="0.01"/><stop offset="0.944" stop-opacity="0.00"/></linearGradient><linearGradient class="w" id="m0_37" gradientUnits="userSpaceOnUse" x1="128.3" x2="518.7"><stop offset="0.111" stop-opacity="0.00"/><stop offset="0.167" stop-opacity="0.01"/><stop offset="0.222" stop-opacity="0.05"/><stop offset="0.278" stop-opacity="0.13"/><stop offset="0.333" stop-opacity="0.26"/><stop offset="0.389" stop-opacity="0.40"/><stop offset="0.444" stop-opacity="0.45"/><stop offset="0.500" stop-opacity="0.42"/><stop offset="0.556" stop-opacity="0.35"/><stop offset="0.611" stop-opacity="0.25"/><stop offset="0.667" stop-opacity="0.16"/><stop offset="0.722" stop-opacity="0.09"/><stop offset="0.778" stop-opacity="0.05"/><stop offset="0.833" stop-opacity="0.02"/><stop offset="0.889" stop-opacity="0.01"/><stop offset="0.944" stop-opacity="0.00"/></linearGradient><linearGradient class="w" id="m0_38" gradientUnits="userSpaceOnUse" x1="128.3" x2="518.7"><stop offset="0.111" stop-opacity="0.00"/><stop offset="0.167" stop-opacity="0.01"/><stop offset="0.222" stop-opacity="0.05"/><stop offset="0.278" stop-opacity="0.14"/><stop offset="0.333" stop-opacity="0.29"/><stop offset="0.389" stop-opacity="0.43"/><stop offset="0.444" stop-opacity="0.49"/><stop offset="0.500" stop-opacity="0.46"/><stop offset="0.556" stop-opacity="0.38"/><stop offset="0.611" stop-opacity="0.27"/><stop offset="0.667" stop-opacity="0.18"/><stop offset="0.722" stop-opacity="0.10"/><stop offset="0.778" stop-opacity="0.05"/><stop offset="0.833" stop-opacity="0.02"/><stop offset="0.889" stop-opacity="0.01"/><stop offset="0.944" stop-opacity="0.00"/></linearGradient><linearGradient class="w" id="m0_39" gradientUnits="userSpaceOnUse" x1="128.3" x2="518.7"><stop offset="0.111" stop-opacity="0.00"/><stop offset="0.167" stop-opacity="0.02"/><stop offset="0.222" stop-opacity="0.06"/><stop offset="0.278" stop-opacity="0.15"/><stop offset="0.333" stop-opacity="0.31"/><stop offset="0.389" stop-opacity="0.47"/><stop offset="0.444" stop-opacity="0.53"/><stop offset="0.500" stop-opacity="0.49"/><stop offset="0.556" stop-opacity="0.40"/><stop offset="0.611" stop-opacity="0.29"/><stop offset="0.667" stop-opacity="0.19"/><stop offset="0.722" stop-opacity="0.11"/><stop offset="0.778" stop-opacity="0.05"/><stop offset="0.833" stop-opacity="0.02"/><stop offset="0.889" stop-opacity="0.01"/><stop offset="0.944" stop-opacity="0.00"/></linearGradient><linearGradient class="w" id="m0_40" gradientUnits="userSpaceOnUse" x1="128.3" x2="518.7"><stop offset="0.111" stop-opacity="0.00"/><stop offset="0.167" stop-opacity="0.02"/><stop offset="0.222" stop-opacity="0.06"/><stop offset="0.278" stop-opacity="0.17"/><stop offset="0.333" stop-opacity="0.33"/><stop offset="0.389" stop-opacity="0.50"/><stop offset="0.444" stop-opacity="0.56"/><stop offset="0.500" stop-opacity="0.52"/><stop offset="0.556" stop-opacity="0.43"/><stop offset="0.611" stop-opacity="0.31"/><stop offset="0.667" stop-opacity="0.20"/><stop offset="0.722" stop-opacity="0.11"/><stop offset="0.778" stop-opacity="0.06"/><stop offset="0.833" stop-opacity="0.03"/><stop offset="0.889" stop-opacity="0.01"/><stop offset="0.944" stop-opacity="0.00"/></linearGradient><linearGradient class="w" id="m0_41" gradientUnits="userSpaceOnUse" x1="128.3" x2="518.7"><stop offset="0.111" stop-opacity="0.00"/><stop offset="0.167" stop-opacity="0.02"/><stop offset="0.222" stop-opacity="0.07"/><stop offset="0.278" stop-opacity="0.18"/><stop offset="0.333" stop-opacity="0.36"/><stop offset="0.389" stop-opacity="0.53"/><stop offset="0.444" stop-opacity="0.59"/><stop offset="0.500" stop-opacity="0.55"/><stop offset="0.556" stop-opacity="0.45"/><stop offset="0.611" stop-opacity="0.33"/><stop offset="0.667" stop-opacity="0.21"/><stop offset="0.722" stop-opacity="0.12"/><stop offset="0.778" stop-opacity="0.06"/><stop offset="0.833" stop-opacity="0.03"/><stop offset="0.889" stop-opacity="0.01"/><stop offset="0.944" stop-opacity="0.00"/></linearGradient><linearGradient class="w" id="m0_42" gradientUnits="userSpaceOnUse" x1="128.3" x2="518.7"><stop offset="0.111" stop-opacity="0.00"/><stop offset="0.167" stop-opacity="0.02"/><stop offset="0.222" stop-opacity="0.07"/><stop offset="0.278" stop-opacity="0.19"/><stop offset="0.333" stop-opacity="0.38"/><stop offset="0.389" stop-opacity="0.56"/><stop offset="0.444" stop-opacity="0.62"/><stop offset="0.500" stop-opacity="0.57"/><stop offset="0.556" stop-opacity="0.47"/><stop offset="0.611" stop-opacity="0.34"/><stop offset="0.667" stop-opacity="0.22"/><stop offset="0.722" stop-opacity="0.12"/><stop offset="0.778" stop-opacity="0.06"/><stop offset="0.833" stop-opacity="0.03"/><stop offset="0.889" stop-opacity="0.01"/><stop offset="0.944" stop-opacity="0.00"/></linearGradient><linearGradient class="w" id="m0_43" gradientUnits="userSpaceOnUse" x1="128.3" x2="518.7"><stop offset="0.111" stop-opacity="0.00"/><stop offset="0.167" stop-opacity="0.02"/><stop offset="0.222" stop-opacity="0.08"/><stop offset="0.278" stop-opacity="0.20"/><stop offset="0.333" stop-opacity="0.40"/><stop offset="0.389" stop-opacity="0.58"/><stop offset="0.444" stop-opacity="0.64"/><stop offset="0.500" stop-opacity="0.59"/><stop offset="0.556" stop-opacity="0.49"/><stop offset="0.611" stop-opacity="0.35"/><stop offset="0.667" stop-opacity="0.23"/><stop offset="0.722" stop-opacity="0.13"/><stop offset="0.778" stop-opacity="0.07"/><stop offset="0.833" stop-opacity="0.03"/><stop offset="0.889" stop-opacity="0.01"/><stop offset="0.944" stop-opacity="0.00"/></linearGradient><linearGradient class="w" id="m0_44" gradientUnits="userSpaceOnUse" x1="128.3" x2="518.7"><stop offset="0.111" stop-opacity="0.01"/><stop offset="0.167" stop-opacity="0.02"/><stop offset="0.222" stop-opacity="0.08"/><stop offset="0.278" stop-opacity="0.22"/><stop offset="0.333" stop-opacity="0.42"/><stop offset="0.389" stop-opacity="0.61"/><stop offset="0.444" stop-opacity="0.67"/><stop offset="0.500" stop-opacity="0.61"/><stop offset="0.556" stop-opacity="0.50"/><stop offset="0.611" stop-opacity="0.36"/><stop offset="0.667" stop-opacity="0.23"/><stop offset="0.722" stop-opacity="0.13"/><stop offset="0.778" stop-opacity="0.07"/><stop offset="0.833" stop-opacity="0.03"/><stop offset="0.889" stop-opacity="0.01"/><stop offset="0.944" stop-opacity="0.00"/></linearGradient><linearGradient class="w" id="m0_45" gradientUnits="userSpaceOnUse" x1="128.3" x2="518.7"><stop offset="0.111" stop-opacity="0.01"/><stop offset="0.167" stop-opacity="0.03"/><stop offset="0.222" stop-opacity="0.09"/><stop offset="0.278" stop-opacity="0.23"/><stop offset="0.333" stop-opacity="0.44"/><stop offset="0.389" stop-opacity="0.63"/><stop offset="0.444" stop-opacity="0.69"/><stop offset="0.500" stop-opacity="0.63"/><stop offset="0.556" stop-opacity="0.51"/><stop offset="0.611" stop-opacity="0.37"/><stop offset="0.667" stop-opacity="0.24"/><stop offset="0.722" stop-opacity="0.14"/><stop offset="0.778" stop-opacity="0.07"/><stop offset="0.833" stop-opacity="0.03"/><stop offset="0.889" stop-opacity="0.01"/><stop offset="0.944" stop-opacity="0.00"/></linearGradient><linearGradient class="w" id="m0_46" gradientUnits="userSpaceOnUse" x1="128.3" x2="518.7"><stop offset="0.056" stop-opacity="0.00"/><stop offset="0.111" stop-opacity="0.01"/><stop offset="0.167" stop-opacity="0.03"/><stop offset="0.222" stop-opacity="0.10"/><stop offset="0.278" stop-opacity="0.24"/><stop offset="0.333" stop-opacity="0.46"/><stop offset="0.389" stop-opacity="0.66"/><stop offset="0.444" stop-opacity="0.71"/><stop offset="0.500" stop-opacity="0.65"/><stop offset="0.556" stop-opacity="0.52"/><stop offset="0.611" stop-opacity="0.38"/><stop offset="0.667" stop-opacity="0.24"/><stop offset="0.722" stop-opacity="0.14"/><stop offset="0.778" stop-opacity="0.07"/><stop offset="0.833" stop-opacity="0.03"/><stop offset="0.889" stop-opacity="0.01"/><stop offset="0.944" stop-opacity="0.00"/></linearGradient><linearGradient class="w" id="m0_47" gradientUnits="userSpaceOnUse" x1="128.3" x2="518.7"><stop offset="0.056" stop-opacity="0.00"/><stop offset="0.111" stop-opacity="0.01"/><stop offset="0.167" stop-opacity="0.03"/><stop offset="0.222" stop-opacity="0.10"/><stop offset="0.278" stop-opacity="0.26"/><stop offset="0.333" stop-opacity="0.48"/><stop offset="0.389" stop-opacity="0.68"/><stop offset="0.444" stop-opacity="0.72"/><stop offset="0.500" stop-opacity="0.66"/><stop offset="0.556" stop-opacity="0.53"/><stop offset="0.611" stop-opacity="0.38"/><stop offset="0.667" stop-opacity="0.25"/><stop offset="0.722" stop-opacity="0.14"/><stop offset="0.778" stop-opacity="0.07"/><stop offset="0.833" stop-opacity="0.03"/><stop offset="0.889" stop-opacity="0.01"/><stop offset="0.944" stop-opacity="0.00"/></linearGradient><linearGradient class="w" id="m0_48" gradientUnits="userSpaceOnUse" x1="128.3" x2="518.7"><stop offset="0.056" stop-opacity="0.00"/><stop offset="0.111" stop-opacity="0.01"/><stop offset="0.167" stop-opacity="0.03"/><stop offset="0.222" stop-opacity="0.11"/><stop offset="0.278" stop-opacity="0.27"/><stop offset="0.333" stop-opacity="0.50"/><stop offset="0.389" stop-opacity="0.70"/><stop offset="0.444" stop-opacity="0.74"/><stop offset="0.500" stop-opacity="0.67"/><stop offset="0.556" stop-opacity="0.54"/><stop offset="0.611" stop-opacity="0.39"/><stop offset="0.667" stop-opacity="0.25"/><stop offset="0.722" stop-opacity="0.14"/><stop offset="0.778" stop-opacity="0.07"/><stop offset="0.833" stop-opacity="0.03"/><stop offset="0.889" stop-opacity="0.01"/><stop offset="0.944" stop-opacity="0.00"/></linearGradient><linearGradient class="w" id="m0_49" gradientUnits="userSpaceOnUse" x1="128.3" x2="518.7"><stop offset="0.056" stop-opacity="0.00"/><stop offset="0.111" stop-opacity="0.01"/><stop offset="0.167" stop-opacity="0.04"/><stop offset="0.222" stop-opacity="0.12"/><stop offset="0.278" stop-opacity="0.29"/><stop offset="0.333" stop-opacity="0.53"/><stop offset="0.389" stop-opacity="0.72"/><stop offset="0.444" stop-opacity="0.75"/><stop offset="0.500" stop-opacity="0.68"/><stop offset="0.556" stop-opacity="0.55"/><stop offset="0.611" stop-opacity="0.39"/><stop offset="0.667" stop-opacity="0.25"/><stop offset="0.722" stop-opacity="0.14"/><stop offset="0.778" stop-opacity="0.07"/><stop offset="0.833" stop-opacity="0.03"/><stop offset="0.889" stop-opacity="0.01"/><stop offset="0.944" stop-opacity="0.00"/></linearGradient><linearGradient class="w" id="m0_50" gradientUnits="userSpaceOnUse" x1="128.3" x2="518.7"><stop offset="0.056" stop-opacity="0.00"/><stop offset="0.111" stop-opacity="0.01"/><stop offset="0.167" stop-opacity="0.04"/><stop offset="0.222" stop-opacity="0.13"/><stop offset="0.278" stop-opacity="0.31"/><stop offset="0.333" stop-opacity="0.55"/><stop offset="0.389" stop-opacity="0.74"/><stop offset="0.444" stop-opacity="0.76"/><stop offset="0.500" stop-opacity="0.69"/><stop offset="0.556" stop-opacity="0.55"/><stop offset="0.611" stop-opacity="0.39"/><stop offset="0.667" stop-opacity="0.25"/><stop offset="0.722" stop-opacity="0.14"/><stop offset="0.778" stop-opacity="0.07"/><stop offset="0.833" stop-opacity="0.03"/><stop offset="0.889" stop-opacity="0.01"/><stop offset="0.944" stop-opacity="0.00"/></linearGradient><linearGradient class="w" id="m0_51" gradientUnits="userSpaceOnUse" x1="128.3" x2="518.7"><stop offset="0.056" stop-opacity="0.00"/><stop offset="0.111" stop-opacity="0.01"/><stop offset="0.167" stop-opacity="0.05"/><stop offset="0.222" stop-opacity="0.14"/><stop offset="0.278" stop-opacity="0.33"/><stop offset="0.333" stop-opacity="0.57"/><stop offset="0.389" stop-opacity="0.76"/><stop offset="0.444" stop-opacity="0.78"/><stop offset="0.500" stop-opacity="0.69"/><stop offset="0.556" stop-opacity="0.55"/><stop offset="0.611" stop-opacity="0.39"/><stop offset="0.667" stop-opacity="0.25"/><stop offset="0.722" stop-opacity="0.14"/><stop offset="0.778" stop-opacity="0.07"/><stop offset="0.833" stop-opacity="0.03"/><stop offset="0.889" stop-opacity="0.01"/><stop offset="0.944" stop-opacity="0.00"/></linearGradient><linearGradient class="w" id="m0_52" gradientUnits="userSpaceOnUse" x1="128.3" x2="518.7"><stop offset="0.056" stop-opacity="0.00"/><stop offset="0.111" stop-opacity="0.01"/><stop offset="0.167" stop-opacity="0.05"/><stop offset="0.222" stop-opacity="0.16"/><stop offset="0.278" stop-opacity="0.35"/><stop offset="0.333" stop-opacity="0.59"/><stop offset="0.389" stop-opacity="0.77"/><stop offset="0.444" stop-opacity="0.78"/><stop offset="0.500" stop-opacity="0.70"/><stop offset="0.556" stop-opacity="0.55"/><stop offset="0.611" stop-opacity="0.39"/><stop offset="0.667" stop-opacity="0.25"/><stop offset="0.722" stop-opacity="0.14"/><stop offset="0.778" stop-opacity="0.07"/><stop offset="0.833" stop-opacity="0.03"/><stop offset="0.889" stop-opacity="0.01"/><stop offset="0.944" stop-opacity="0.00"/></linearGradient><linearGradient class="w" id="m0_53" gradientUnits="userSpaceOnUse" x1="128.3" x2="518.7"><stop offset="0.056" stop-opacity="0.00"/><stop offset="0.111" stop-opacity="0.02"/><stop offset="0.167" stop-opacity="0.06"/><stop offset="0.222" stop-opacity="0.17"/><stop offset="0.278" stop-opacity="0.37"/><stop offset="0.333" stop-opacity="0.62"/><stop offset="0.389" stop-opacity="0.79"/><stop offset="0.444" stop-opacity="0.79"/><stop offset="0.500" stop-opacity="0.70"/><stop offset="0.556" stop-opacity="0.55"/><stop offset="0.611" stop-opacity="0.39"/><stop offset="0.667" stop-opacity="0.25"/><stop offset="0.722" stop-opacity="0.14"/><stop offset="0.778" stop-opacity="0.07"/><stop offset="0.833" stop-opacity="0.03"/><stop offset="0.889" stop-opacity="0.01"/><stop offset="0.944" stop-opacity="0.00"/></linearGradient><linearGradient class="w" id="m0_54" gradientUnits="userSpaceOnUse" x1="128.3" x2="518.7"><stop offset="0.056" stop-opacity="0.00"/><stop offset="0.111" stop-opacity="0.02"/><stop offset="0.167" stop-opacity="0.07"/><stop offset="0.222" stop-opacity="0.18"/><stop offset="0.278" stop-opacity="0.39"/><stop offset="0.333" stop-opacity="0.64"/><stop offset="0.389" stop-opacity="0.80"/><stop offset="0.444" stop-opacity="0.80"/><stop offset="0.500" stop-opacity="0.70"/><stop offset="0.556" stop-opacity="0.55"/><stop offset="0.611" stop-opacity="0.39"/><stop offset="0.667" stop-opacity="0.25"/><stop offset="0.722" stop-opacity="0.14"/><stop offset="0.778" stop-opacity="0.07"/><stop offset="0.833" stop-opacity="0.03"/><stop offset="0.889" stop-opacity="0.01"/><stop offset="0.944" stop-opacity="0.00"/></linearGradient><linearGradient class="w" id="m0_55" gradientUnits="userSpaceOnUse" x1="128.3" x2="518.7"><stop offset="0.056" stop-opacity="0.00"/><stop offset="0.111" stop-opacity="0.02"/><stop offset="0.167" stop-opacity="0.07"/><stop offset="0.222" stop-opacity="0.20"/><stop offset="0.278" stop-opacity="0.42"/><stop offset="0.333" stop-opacity="0.67"/><stop offset="0.389" stop-opacity="0.82"/><stop offset="0.444" stop-opacity="0.80"/><stop offset="0.500" stop-opacity="0.70"/><stop offset="0.556" stop-opacity="0.55"/><stop offset="0.611" stop-opacity="0.39"/><stop offset="0.667" stop-opacity="0.24"/><stop offset="0.722" stop-opacity="0.14"/><stop offset="0.778" stop-opacity="0.07"/><stop offset="0.833" stop-opacity="0.03"/><stop offset="0.889" stop-opacity="0.01"/><stop offset="0.944" stop-opacity="0.00"/></linearGradient><linearGradient class="w" id="m0_56" gradientUnits="userSpaceOnUse" x1="128.3" x2="518.7"><stop offset="0.056" stop-opacity="0.01"/><stop offset="0.111" stop-opacity="0.02"/><stop offset="0.167" stop-opacity="0.08"/><stop offset="0.222" stop-opacity="0.22"/><stop offset="0.278" stop-opacity="0.44"/><stop offset="0.333" stop-opacity="0.69"/><stop offset="0.389" stop-opacity="0.83"/><stop offset="0.444" stop-opacity="0.81"/><stop offset="0.500" stop-opacity="0.70"/><stop offset="0.556" stop-opacity="0.55"/><stop offset="0.611" stop-opacity="0.38"/><stop offset="0.667" stop-opacity="0.24"/><stop offset="0.722" stop-opacity="0.14"/><stop offset="0.778" stop-opacity="0.07"/><stop offset="0.833" stop-opacity="0.03"/><stop offset="0.889" stop-opacity="0.01"/><stop offset="0.944" stop-opacity="0.00"/></linearGradient><linearGradient class="w" id="m0_57" gradientUnits="userSpaceOnUse" x1="128.3" x2="518.7"><stop offset="0.000" stop-opacity="0.00"/><stop offset="0.056" stop-opacity="0.01"/><stop offset="0.111" stop-opacity="0.03"/><stop offset="0.167" stop-opacity="0.10"/><stop offset="0.222" stop-opacity="0.24"/><stop offset="0.278" stop-opacity="0.47"/><stop offset="0.333" stop-opacity="0.72"/><stop offset="0.389" stop-opacity="0.84"/><stop offset="0.444" stop-opacity="0.81"/><stop offset="0.500" stop-opacity="0.70"/><stop offset="0.556" stop-opacity="0.54"/><stop offset="0.611" stop-opacity="0.38"/><stop offset="0.667" stop-opacity="0.24"/><stop offset="0.722" stop-opacity="0.13"/><stop offset="0.778" stop-opacity="0.07"/><stop offset="0.833" stop-opacity="0.03"/><stop offset="0.889" stop-opacity="0.01"/><stop offset="0.944" stop-opacity="0.00"/></linearGradient><linearGradient class="w" id="m0_58" gradientUnits="userSpaceOnUse" x1="128.3" x2="518.7"><stop offset="0.000" stop-opacity="0.00"/><stop offset="0.056" stop-opacity="0.01"/><stop offset="0.111" stop-opacity="0.03"/><stop offset="0.167" stop-opacity="0.11"/><stop offset="0.222" stop-opacity="0.26"/><stop offset="0.278" stop-opacity="0.50"/><stop offset="0.333" stop-opacity="0.74"/><stop offset="0.389" stop-opacity="0.85"/><stop offset="0.444" stop-opacity="0.81"/><stop offset="0.500" stop-opacity="0.69"/><stop offset="0.556" stop-opacity="0.54"/><stop offset="0.611" stop-opacity="0.37"/><stop offset="0.667" stop-opacity="0.23"/><stop offset="0.722" stop-opacity="0.13"/><stop offset="0.778" stop-opacity="0.07"/><stop offset="0.833" stop-opacity="0.03"/><stop offset="0.889" stop-opacity="0.01"/><stop offset="0.944" stop-opacity="0.00"/></linearGradient><linearGradient class="w" id="m0_59" gradientUnits="userSpaceOnUse" x1="128.3" x2="518.7"><stop offset="0.000" stop-opacity="0.00"/><stop offset="0.056" stop-opacity="0.01"/><stop offset="0.111" stop-opacity="0.04"/><stop offset="0.167" stop-opacity="0.12"/><stop offset="0.222" stop-opacity="0.29"/><stop offset="0.278" stop-opacity="0.53"/><stop offset="0.333" stop-opacity="0.76"/><stop offset="0.389" stop-opacity="0.85"/><stop offset="0.444" stop-opacity="0.81"/><stop offset="0.500" stop-opacity="0.69"/><stop offset="0.556" stop-opacity="0.53"/><stop offset="0.611" stop-opacity="0.37"/><stop offset="0.667" stop-opacity="0.23"/><stop offset="0.722" stop-opacity="0.13"/><stop offset="0.778" stop-opacity="0.07"/><stop offset="0.833" stop-opacity="0.03"/><stop offset="0.889" stop-opacity="0.01"/><stop offset="0.944" stop-opacity="0.00"/></linearGradient><mask id="mk0" maskUnits="userSpaceOnUse" x="130.0" y="89.0" width="387.0" height="503.0"><g filter="url(#fbm)" style="color:#fff"><rect x="140.0" y="101.0" width="367.0" height="8.2" fill="url(#m0_0)"/><rect x="140.0" y="109.0" width="367.0" height="8.2" fill="url(#m0_1)"/><rect x="140.0" y="117.0" width="367.0" height="8.2" fill="url(#m0_2)"/><rect x="140.0" y="125.0" width="367.0" height="8.2" fill="url(#m0_3)"/><rect x="140.0" y="133.0" width="367.0" height="8.2" fill="url(#m0_4)"/><rect x="140.0" y="141.0" width="367.0" height="8.2" fill="url(#m0_5)"/><rect x="140.0" y="149.0" width="367.0" height="8.2" fill="url(#m0_6)"/><rect x="140.0" y="157.0" width="367.0" height="8.2" fill="url(#m0_7)"/><rect x="140.0" y="165.0" width="367.0" height="8.2" fill="url(#m0_8)"/><rect x="140.0" y="173.0" width="367.0" height="8.2" fill="url(#m0_9)"/><rect x="140.0" y="181.0" width="367.0" height="8.2" fill="url(#m0_10)"/><rect x="140.0" y="189.0" width="367.0" height="8.2" fill="url(#m0_11)"/><rect x="140.0" y="197.0" width="367.0" height="8.2" fill="url(#m0_12)"/><rect x="140.0" y="205.0" width="367.0" height="8.2" fill="url(#m0_13)"/><rect x="140.0" y="213.0" width="367.0" height="8.2" fill="url(#m0_14)"/><rect x="140.0" y="221.0" width="367.0" height="8.2" fill="url(#m0_15)"/><rect x="140.0" y="229.0" width="367.0" height="8.2" fill="url(#m0_16)"/><rect x="140.0" y="237.0" width="367.0" height="8.2" fill="url(#m0_17)"/><rect x="140.0" y="245.0" width="367.0" height="8.2" fill="url(#m0_18)"/><rect x="140.0" y="253.0" width="367.0" height="8.2" fill="url(#m0_19)"/><rect x="140.0" y="261.0" width="367.0" height="8.2" fill="url(#m0_20)"/><rect x="140.0" y="269.0" width="367.0" height="8.2" fill="url(#m0_21)"/><rect x="140.0" y="277.0" width="367.0" height="8.2" fill="url(#m0_22)"/><rect x="140.0" y="285.0" width="367.0" height="8.2" fill="url(#m0_23)"/><rect x="140.0" y="293.0" width="367.0" height="8.2" fill="url(#m0_24)"/><rect x="140.0" y="301.0" width="367.0" height="8.2" fill="url(#m0_25)"/><rect x="140.0" y="309.0" width="367.0" height="8.2" fill="url(#m0_26)"/><rect x="140.0" y="317.0" width="367.0" height="8.2" fill="url(#m0_27)"/><rect x="140.0" y="325.0" width="367.0" height="8.2" fill="url(#m0_28)"/><rect x="140.0" y="333.0" width="367.0" height="8.2" fill="url(#m0_29)"/><rect x="140.0" y="341.0" width="367.0" height="8.2" fill="url(#m0_30)"/><rect x="140.0" y="349.0" width="367.0" height="8.2" fill="url(#m0_31)"/><rect x="140.0" y="357.0" width="367.0" height="8.2" fill="url(#m0_32)"/><rect x="140.0" y="365.0" width="367.0" height="8.2" fill="url(#m0_33)"/><rect x="140.0" y="373.0" width="367.0" height="8.2" fill="url(#m0_34)"/><rect x="140.0" y="381.0" width="367.0" height="8.2" fill="url(#m0_35)"/><rect x="140.0" y="389.0" width="367.0" height="8.2" fill="url(#m0_36)"/><rect x="140.0" y="397.0" width="367.0" height="8.2" fill="url(#m0_37)"/><rect x="140.0" y="405.0" width="367.0" height="8.2" fill="url(#m0_38)"/><rect x="140.0" y="413.0" width="367.0" height="8.2" fill="url(#m0_39)"/><rect x="140.0" y="421.0" width="367.0" height="8.2" fill="url(#m0_40)"/><rect x="140.0" y="429.0" width="367.0" height="8.2" fill="url(#m0_41)"/><rect x="140.0" y="437.0" width="367.0" height="8.2" fill="url(#m0_42)"/><rect x="140.0" y="445.0" width="367.0" height="8.2" fill="url(#m0_43)"/><rect x="140.0" y="453.0" width="367.0" height="8.2" fill="url(#m0_44)"/><rect x="140.0" y="461.0" width="367.0" height="8.2" fill="url(#m0_45)"/><rect x="140.0" y="469.0" width="367.0" height="8.2" fill="url(#m0_46)"/><rect x="140.0" y="477.0" width="367.0" height="8.2" fill="url(#m0_47)"/><rect x="140.0" y="485.0" width="367.0" height="8.2" fill="url(#m0_48)"/><rect x="140.0" y="493.0" width="367.0" height="8.2" fill="url(#m0_49)"/><rect x="140.0" y="501.0" width="367.0" height="8.2" fill="url(#m0_50)"/><rect x="140.0" y="509.0" width="367.0" height="8.2" fill="url(#m0_51)"/><rect x="140.0" y="517.0" width="367.0" height="8.2" fill="url(#m0_52)"/><rect x="140.0" y="525.0" width="367.0" height="8.2" fill="url(#m0_53)"/><rect x="140.0" y="533.0" width="367.0" height="8.2" fill="url(#m0_54)"/><rect x="140.0" y="541.0" width="367.0" height="8.2" fill="url(#m0_55)"/><rect x="140.0" y="549.0" width="367.0" height="8.2" fill="url(#m0_56)"/><rect x="140.0" y="557.0" width="367.0" height="8.2" fill="url(#m0_57)"/><rect x="140.0" y="565.0" width="367.0" height="8.2" fill="url(#m0_58)"/><rect x="140.0" y="573.0" width="367.0" height="8.2" fill="url(#m0_59)"/></g></mask></defs>
<g clip-path="url(#clip0)"><g mask="url(#mk0)" opacity="0.2"><rect x="110.0" y="106.0" width="427.0" height="3.2" fill="url(#p0)" transform="translate(117.59,0) scale(1.0830,1) translate(-150.0,0)"/><rect x="110.0" y="109.0" width="427.0" height="3.2" fill="url(#p0)" transform="translate(118.73,0) scale(1.0801,1) translate(-150.0,0)"/><rect x="110.0" y="112.0" width="427.0" height="3.2" fill="url(#p0)" transform="translate(119.84,0) scale(1.0772,1) translate(-150.0,0)"/><rect x="110.0" y="115.0" width="427.0" height="3.2" fill="url(#p0)" transform="translate(120.93,0) scale(1.0745,1) translate(-150.0,0)"/><rect x="110.0" y="118.0" width="427.0" height="3.2" fill="url(#p0)" transform="translate(121.99,0) scale(1.0717,1) translate(-150.0,0)"/><rect x="110.0" y="121.0" width="427.0" height="3.2" fill="url(#p0)" transform="translate(123.04,0) scale(1.0691,1) translate(-150.0,0)"/><rect x="110.0" y="124.0" width="427.0" height="3.2" fill="url(#p0)" transform="translate(124.05,0) scale(1.0665,1) translate(-150.0,0)"/><rect x="110.0" y="127.0" width="427.0" height="3.2" fill="url(#p0)" transform="translate(125.05,0) scale(1.0639,1) translate(-150.0,0)"/><rect x="110.0" y="130.0" width="427.0" height="3.2" fill="url(#p0)" transform="translate(126.02,0) scale(1.0614,1) translate(-150.0,0)"/><rect x="110.0" y="133.0" width="427.0" height="3.2" fill="url(#p0)" transform="translate(126.97,0) scale(1.0590,1) translate(-150.0,0)"/><rect x="110.0" y="136.0" width="427.0" height="3.2" fill="url(#p0)" transform="translate(127.90,0) scale(1.0566,1) translate(-150.0,0)"/><rect x="110.0" y="139.0" width="427.0" height="3.2" fill="url(#p0)" transform="translate(128.80,0) scale(1.0543,1) translate(-150.0,0)"/><rect x="110.0" y="142.0" width="427.0" height="3.2" fill="url(#p0)" transform="translate(129.68,0) scale(1.0520,1) translate(-150.0,0)"/><rect x="110.0" y="145.0" width="427.0" height="3.2" fill="url(#p0)" transform="translate(130.55,0) scale(1.0498,1) translate(-150.0,0)"/><rect x="110.0" y="148.0" width="427.0" height="3.2" fill="url(#p0)" transform="translate(131.39,0) scale(1.0477,1) translate(-150.0,0)"/><rect x="110.0" y="151.0" width="427.0" height="3.2" fill="url(#p0)" transform="translate(132.21,0) scale(1.0456,1) translate(-150.0,0)"/><rect x="110.0" y="154.0" width="427.0" height="3.2" fill="url(#p0)" transform="translate(133.00,0) scale(1.0435,1) translate(-150.0,0)"/><rect x="110.0" y="157.0" width="427.0" height="3.2" fill="url(#p0)" transform="translate(133.78,0) scale(1.0415,1) translate(-150.0,0)"/><rect x="110.0" y="160.0" width="427.0" height="3.2" fill="url(#p0)" transform="translate(134.54,0) scale(1.0396,1) translate(-150.0,0)"/><rect x="110.0" y="163.0" width="427.0" height="3.2" fill="url(#p0)" transform="translate(135.28,0) scale(1.0377,1) translate(-150.0,0)"/><rect x="110.0" y="166.0" width="427.0" height="3.2" fill="url(#p0)" transform="translate(135.99,0) scale(1.0359,1) translate(-150.0,0)"/><rect x="110.0" y="169.0" width="427.0" height="3.2" fill="url(#p0)" transform="translate(136.69,0) scale(1.0341,1) translate(-150.0,0)"/><rect x="110.0" y="172.0" width="427.0" height="3.2" fill="url(#p0)" transform="translate(137.37,0) scale(1.0323,1) translate(-150.0,0)"/><rect x="110.0" y="175.0" width="427.0" height="3.2" fill="url(#p0)" transform="translate(138.03,0) scale(1.0307,1) translate(-150.0,0)"/><rect x="110.0" y="178.0" width="427.0" height="3.2" fill="url(#p0)" transform="translate(138.67,0) scale(1.0290,1) translate(-150.0,0)"/><rect x="110.0" y="181.0" width="427.0" height="3.2" fill="url(#p0)" transform="translate(139.29,0) scale(1.0274,1) translate(-150.0,0)"/><rect x="110.0" y="184.0" width="427.0" height="3.2" fill="url(#p0)" transform="translate(139.89,0) scale(1.0259,1) translate(-150.0,0)"/><rect x="110.0" y="187.0" width="427.0" height="3.2" fill="url(#p0)" transform="translate(140.48,0) scale(1.0244,1) translate(-150.0,0)"/><rect x="110.0" y="190.0" width="427.0" height="3.2" fill="url(#p0)" transform="translate(141.04,0) scale(1.0229,1) translate(-150.0,0)"/><rect x="110.0" y="193.0" width="427.0" height="3.2" fill="url(#p0)" transform="translate(141.59,0) scale(1.0215,1) translate(-150.0,0)"/><rect x="110.0" y="196.0" width="427.0" height="3.2" fill="url(#p0)" transform="translate(142.11,0) scale(1.0202,1) translate(-150.0,0)"/><rect x="110.0" y="199.0" width="427.0" height="3.2" fill="url(#p0)" transform="translate(142.62,0) scale(1.0189,1) translate(-150.0,0)"/><rect x="110.0" y="202.0" width="427.0" height="3.2" fill="url(#p0)" transform="translate(143.12,0) scale(1.0176,1) translate(-150.0,0)"/><rect x="110.0" y="205.0" width="427.0" height="3.2" fill="url(#p0)" transform="translate(143.59,0) scale(1.0164,1) translate(-150.0,0)"/><rect x="110.0" y="208.0" width="427.0" height="3.2" fill="url(#p0)" transform="translate(144.05,0) scale(1.0152,1) translate(-150.0,0)"/><rect x="110.0" y="211.0" width="427.0" height="3.2" fill="url(#p0)" transform="translate(144.49,0) scale(1.0141,1) translate(-150.0,0)"/><rect x="110.0" y="214.0" width="427.0" height="3.2" fill="url(#p0)" transform="translate(144.91,0) scale(1.0130,1) translate(-150.0,0)"/><rect x="110.0" y="217.0" width="427.0" height="3.2" fill="url(#p0)" transform="translate(145.31,0) scale(1.0120,1) translate(-150.0,0)"/><rect x="110.0" y="220.0" width="427.0" height="3.2" fill="url(#p0)" transform="translate(145.70,0) scale(1.0110,1) translate(-150.0,0)"/><rect x="110.0" y="223.0" width="427.0" height="3.2" fill="url(#p0)" transform="translate(146.07,0) scale(1.0101,1) translate(-150.0,0)"/><rect x="110.0" y="226.0" width="427.0" height="3.2" fill="url(#p0)" transform="translate(146.42,0) scale(1.0092,1) translate(-150.0,0)"/><rect x="110.0" y="229.0" width="427.0" height="3.2" fill="url(#p0)" transform="translate(146.76,0) scale(1.0083,1) translate(-150.0,0)"/><rect x="110.0" y="232.0" width="427.0" height="3.2" fill="url(#p0)" transform="translate(147.07,0) scale(1.0075,1) translate(-150.0,0)"/><rect x="110.0" y="235.0" width="427.0" height="3.2" fill="url(#p0)" transform="translate(147.38,0) scale(1.0067,1) translate(-150.0,0)"/><rect x="110.0" y="238.0" width="427.0" height="3.2" fill="url(#p0)" transform="translate(147.66,0) scale(1.0060,1) translate(-150.0,0)"/><rect x="110.0" y="241.0" width="427.0" height="3.2" fill="url(#p0)" transform="translate(147.93,0) scale(1.0053,1) translate(-150.0,0)"/><rect x="110.0" y="244.0" width="427.0" height="3.2" fill="url(#p0)" transform="translate(148.18,0) scale(1.0047,1) translate(-150.0,0)"/><rect x="110.0" y="247.0" width="427.0" height="3.2" fill="url(#p0)" transform="translate(148.42,0) scale(1.0041,1) translate(-150.0,0)"/><rect x="110.0" y="250.0" width="427.0" height="3.2" fill="url(#p0)" transform="translate(148.64,0) scale(1.0035,1) translate(-150.0,0)"/><rect x="110.0" y="253.0" width="427.0" height="3.2" fill="url(#p0)" transform="translate(148.84,0) scale(1.0030,1) translate(-150.0,0)"/><rect x="110.0" y="256.0" width="427.0" height="3.2" fill="url(#p0)" transform="translate(149.02,0) scale(1.0025,1) translate(-150.0,0)"/><rect x="110.0" y="259.0" width="427.0" height="3.2" fill="url(#p0)" transform="translate(149.19,0) scale(1.0021,1) translate(-150.0,0)"/><rect x="110.0" y="262.0" width="427.0" height="3.2" fill="url(#p0)" transform="translate(149.35,0) scale(1.0017,1) translate(-150.0,0)"/><rect x="110.0" y="265.0" width="427.0" height="3.2" fill="url(#p0)" transform="translate(149.48,0) scale(1.0013,1) translate(-150.0,0)"/><rect x="110.0" y="268.0" width="427.0" height="3.2" fill="url(#p0)" transform="translate(149.61,0) scale(1.0010,1) translate(-150.0,0)"/><rect x="110.0" y="271.0" width="427.0" height="3.2" fill="url(#p0)" transform="translate(149.71,0) scale(1.0007,1) translate(-150.0,0)"/><rect x="110.0" y="274.0" width="427.0" height="3.2" fill="url(#p0)" transform="translate(149.80,0) scale(1.0005,1) translate(-150.0,0)"/><rect x="110.0" y="277.0" width="427.0" height="3.2" fill="url(#p0)" transform="translate(149.87,0) scale(1.0003,1) translate(-150.0,0)"/><rect x="110.0" y="280.0" width="427.0" height="3.2" fill="url(#p0)" transform="translate(149.93,0) scale(1.0002,1) translate(-150.0,0)"/><rect x="110.0" y="283.0" width="427.0" height="3.2" fill="url(#p0)" transform="translate(149.97,0) scale(1.0001,1) translate(-150.0,0)"/><rect x="110.0" y="286.0" width="427.0" height="3.2" fill="url(#p0)" transform="translate(149.99,0) scale(1.0000,1) translate(-150.0,0)"/><rect x="120.0" y="289.0" width="407.0" height="3.2" fill="url(#p0)"/><rect x="120.0" y="292.0" width="407.0" height="3.2" fill="url(#p0)"/><rect x="120.0" y="295.0" width="407.0" height="3.2" fill="url(#p0)"/><rect x="120.0" y="298.0" width="407.0" height="3.2" fill="url(#p0)"/><rect x="120.0" y="301.0" width="407.0" height="3.2" fill="url(#p0)"/><rect x="120.0" y="304.0" width="407.0" height="3.2" fill="url(#p0)"/><rect x="120.0" y="307.0" width="407.0" height="3.2" fill="url(#p0)"/><rect x="120.0" y="310.0" width="407.0" height="3.2" fill="url(#p0)"/><rect x="120.0" y="313.0" width="407.0" height="3.2" fill="url(#p0)"/><rect x="120.0" y="316.0" width="407.0" height="3.2" fill="url(#p0)"/><rect x="120.0" y="319.0" width="407.0" height="3.2" fill="url(#p0)"/><rect x="120.0" y="322.0" width="407.0" height="3.2" fill="url(#p0)"/><rect x="120.0" y="325.0" width="407.0" height="3.2" fill="url(#p0)"/><rect x="120.0" y="328.0" width="407.0" height="3.2" fill="url(#p0)"/><rect x="120.0" y="331.0" width="407.0" height="3.2" fill="url(#p0)"/><rect x="120.0" y="334.0" width="407.0" height="3.2" fill="url(#p0)"/><rect x="120.0" y="337.0" width="407.0" height="3.2" fill="url(#p0)"/><rect x="110.0" y="340.0" width="427.0" height="3.2" fill="url(#p0)" transform="translate(161.49,0) scale(1.0000,1) translate(-150.0,0)"/><rect x="110.0" y="343.0" width="427.0" height="3.2" fill="url(#p0)" transform="translate(161.49,0) scale(1.0000,1) translate(-150.0,0)"/><rect x="110.0" y="346.0" width="427.0" height="3.2" fill="url(#p0)" transform="translate(161.49,0) scale(1.0000,1) translate(-150.0,0)"/><rect x="110.0" y="349.0" width="427.0" height="3.2" fill="url(#p0)" transform="translate(161.49,0) scale(1.0000,1) translate(-150.0,0)"/><rect x="110.0" y="352.0" width="427.0" height="3.2" fill="url(#p0)" transform="translate(161.49,0) scale(1.0000,1) translate(-150.0,0)"/><rect x="110.0" y="355.0" width="427.0" height="3.2" fill="url(#p0)" transform="translate(161.49,0) scale(1.0000,1) translate(-150.0,0)"/><rect x="110.0" y="358.0" width="427.0" height="3.2" fill="url(#p0)" transform="translate(161.49,0) scale(1.0000,1) translate(-150.0,0)"/><rect x="110.0" y="361.0" width="427.0" height="3.2" fill="url(#p0)" transform="translate(161.49,0) scale(1.0000,1) translate(-150.0,0)"/><rect x="110.0" y="364.0" width="427.0" height="3.2" fill="url(#p0)" transform="translate(161.49,0) scale(1.0000,1) translate(-150.0,0)"/><rect x="110.0" y="367.0" width="427.0" height="3.2" fill="url(#p0)" transform="translate(161.49,0) scale(1.0000,1) translate(-150.0,0)"/><rect x="110.0" y="370.0" width="427.0" height="3.2" fill="url(#p0)" transform="translate(161.49,0) scale(1.0000,1) translate(-150.0,0)"/><rect x="110.0" y="373.0" width="427.0" height="3.2" fill="url(#p0)" transform="translate(161.49,0) scale(1.0000,1) translate(-150.0,0)"/><rect x="110.0" y="376.0" width="427.0" height="3.2" fill="url(#p0)" transform="translate(161.49,0) scale(1.0000,1) translate(-150.0,0)"/><rect x="110.0" y="379.0" width="427.0" height="3.2" fill="url(#p0)" transform="translate(161.49,0) scale(1.0000,1) translate(-150.0,0)"/><rect x="110.0" y="382.0" width="427.0" height="3.2" fill="url(#p0)" transform="translate(161.49,0) scale(1.0000,1) translate(-150.0,0)"/><rect x="110.0" y="385.0" width="427.0" height="3.2" fill="url(#p0)" transform="translate(161.49,0) scale(1.0000,1) translate(-150.0,0)"/><rect x="110.0" y="388.0" width="427.0" height="3.2" fill="url(#p0)" transform="translate(161.49,0) scale(1.0000,1) translate(-150.0,0)"/><rect x="110.0" y="391.0" width="427.0" height="3.2" fill="url(#p0)" transform="translate(161.49,0) scale(1.0000,1) translate(-150.0,0)"/><rect x="110.0" y="394.0" width="427.0" height="3.2" fill="url(#p0)" transform="translate(161.47,0) scale(1.0001,1) translate(-150.0,0)"/><rect x="110.0" y="397.0" width="427.0" height="3.2" fill="url(#p0)" transform="translate(161.43,0) scale(1.0001,1) translate(-150.0,0)"/><rect x="110.0" y="400.0" width="427.0" height="3.2" fill="url(#p0)" transform="translate(161.39,0) scale(1.0003,1) translate(-150.0,0)"/><rect x="110.0" y="403.0" width="427.0" height="3.2" fill="url(#p0)" transform="translate(161.32,0) scale(1.0004,1) translate(-150.0,0)"/><rect x="110.0" y="406.0" width="427.0" height="3.2" fill="url(#p0)" transform="translate(161.24,0) scale(1.0007,1) translate(-150.0,0)"/><rect x="110.0" y="409.0" width="427.0" height="3.2" fill="url(#p0)" transform="translate(161.14,0) scale(1.0009,1) translate(-150.0,0)"/><rect x="110.0" y="412.0" width="427.0" height="3.2" fill="url(#p0)" transform="translate(161.03,0) scale(1.0012,1) translate(-150.0,0)"/><rect x="110.0" y="415.0" width="427.0" height="3.2" fill="url(#p0)" transform="translate(160.90,0) scale(1.0015,1) translate(-150.0,0)"/><rect x="110.0" y="418.0" width="427.0" height="3.2" fill="url(#p0)" transform="translate(160.76,0) scale(1.0019,1) translate(-150.0,0)"/><rect x="110.0" y="421.0" width="427.0" height="3.2" fill="url(#p0)" transform="translate(160.60,0) scale(1.0023,1) translate(-150.0,0)"/><rect x="110.0" y="424.0" width="427.0" height="3.2" fill="url(#p0)" transform="translate(160.42,0) scale(1.0028,1) translate(-150.0,0)"/><rect x="110.0" y="427.0" width="427.0" height="3.2" fill="url(#p0)" transform="translate(160.23,0) scale(1.0033,1) translate(-150.0,0)"/><rect x="110.0" y="430.0" width="427.0" height="3.2" fill="url(#p0)" transform="translate(160.03,0) scale(1.0039,1) translate(-150.0,0)"/><rect x="110.0" y="433.0" width="427.0" height="3.2" fill="url(#p0)" transform="translate(159.80,0) scale(1.0045,1) translate(-150.0,0)"/><rect x="110.0" y="436.0" width="427.0" height="3.2" fill="url(#p0)" transform="translate(159.56,0) scale(1.0051,1) translate(-150.0,0)"/><rect x="110.0" y="439.0" width="427.0" height="3.2" fill="url(#p0)" transform="translate(159.31,0) scale(1.0058,1) translate(-150.0,0)"/><rect x="110.0" y="442.0" width="427.0" height="3.2" fill="url(#p0)" transform="translate(159.04,0) scale(1.0065,1) translate(-150.0,0)"/><rect x="110.0" y="445.0" width="427.0" height="3.2" fill="url(#p0)" transform="translate(158.75,0) scale(1.0072,1) translate(-150.0,0)"/><rect x="110.0" y="448.0" width="427.0" height="3.2" fill="url(#p0)" transform="translate(158.45,0) scale(1.0080,1) translate(-150.0,0)"/><rect x="110.0" y="451.0" width="427.0" height="3.2" fill="url(#p0)" transform="translate(158.13,0) scale(1.0089,1) translate(-150.0,0)"/><rect x="110.0" y="454.0" width="427.0" height="3.2" fill="url(#p0)" transform="translate(157.79,0) scale(1.0098,1) translate(-150.0,0)"/><rect x="110.0" y="457.0" width="427.0" height="3.2" fill="url(#p0)" transform="translate(157.44,0) scale(1.0107,1) translate(-150.0,0)"/><rect x="110.0" y="460.0" width="427.0" height="3.2" fill="url(#p0)" transform="translate(157.07,0) scale(1.0117,1) translate(-150.0,0)"/><rect x="110.0" y="463.0" width="427.0" height="3.2" fill="url(#p0)" transform="translate(156.68,0) scale(1.0127,1) translate(-150.0,0)"/><rect x="110.0" y="466.0" width="427.0" height="3.2" fill="url(#p0)" transform="translate(156.28,0) scale(1.0138,1) translate(-150.0,0)"/><rect x="110.0" y="469.0" width="427.0" height="3.2" fill="url(#p0)" transform="translate(155.86,0) scale(1.0149,1) translate(-150.0,0)"/><rect x="110.0" y="472.0" width="427.0" height="3.2" fill="url(#p0)" transform="translate(155.42,0) scale(1.0160,1) translate(-150.0,0)"/><rect x="110.0" y="475.0" width="427.0" height="3.2" fill="url(#p0)" transform="translate(154.96,0) scale(1.0172,1) translate(-150.0,0)"/><rect x="110.0" y="478.0" width="427.0" height="3.2" fill="url(#p0)" transform="translate(154.49,0) scale(1.0185,1) translate(-150.0,0)"/><rect x="110.0" y="481.0" width="427.0" height="3.2" fill="url(#p0)" transform="translate(154.00,0) scale(1.0198,1) translate(-150.0,0)"/><rect x="110.0" y="484.0" width="427.0" height="3.2" fill="url(#p0)" transform="translate(153.50,0) scale(1.0211,1) translate(-150.0,0)"/><rect x="110.0" y="487.0" width="427.0" height="3.2" fill="url(#p0)" transform="translate(152.97,0) scale(1.0225,1) translate(-150.0,0)"/><rect x="110.0" y="490.0" width="427.0" height="3.2" fill="url(#p0)" transform="translate(152.43,0) scale(1.0239,1) translate(-150.0,0)"/><rect x="110.0" y="493.0" width="427.0" height="3.2" fill="url(#p0)" transform="translate(151.87,0) scale(1.0254,1) translate(-150.0,0)"/><rect x="110.0" y="496.0" width="427.0" height="3.2" fill="url(#p0)" transform="translate(151.29,0) scale(1.0269,1) translate(-150.0,0)"/><rect x="110.0" y="499.0" width="427.0" height="3.2" fill="url(#p0)" transform="translate(150.70,0) scale(1.0285,1) translate(-150.0,0)"/><rect x="110.0" y="502.0" width="427.0" height="3.2" fill="url(#p0)" transform="translate(150.08,0) scale(1.0301,1) translate(-150.0,0)"/><rect x="110.0" y="505.0" width="427.0" height="3.2" fill="url(#p0)" transform="translate(149.45,0) scale(1.0318,1) translate(-150.0,0)"/><rect x="110.0" y="508.0" width="427.0" height="3.2" fill="url(#p0)" transform="translate(148.80,0) scale(1.0335,1) translate(-150.0,0)"/><rect x="110.0" y="511.0" width="427.0" height="3.2" fill="url(#p0)" transform="translate(148.12,0) scale(1.0353,1) translate(-150.0,0)"/><rect x="110.0" y="514.0" width="427.0" height="3.2" fill="url(#p0)" transform="translate(147.43,0) scale(1.0371,1) translate(-150.0,0)"/><rect x="110.0" y="517.0" width="427.0" height="3.2" fill="url(#p0)" transform="translate(146.73,0) scale(1.0390,1) translate(-150.0,0)"/><rect x="110.0" y="520.0" width="427.0" height="3.2" fill="url(#p0)" transform="translate(146.00,0) scale(1.0409,1) translate(-150.0,0)"/><rect x="110.0" y="523.0" width="427.0" height="3.2" fill="url(#p0)" transform="translate(145.25,0) scale(1.0429,1) translate(-150.0,0)"/><rect x="110.0" y="526.0" width="427.0" height="3.2" fill="url(#p0)" transform="translate(144.48,0) scale(1.0449,1) translate(-150.0,0)"/><rect x="110.0" y="529.0" width="427.0" height="3.2" fill="url(#p0)" transform="translate(143.69,0) scale(1.0470,1) translate(-150.0,0)"/><rect x="110.0" y="532.0" width="427.0" height="3.2" fill="url(#p0)" transform="translate(142.88,0) scale(1.0491,1) translate(-150.0,0)"/><rect x="110.0" y="535.0" width="427.0" height="3.2" fill="url(#p0)" transform="translate(142.05,0) scale(1.0513,1) translate(-150.0,0)"/><rect x="110.0" y="538.0" width="427.0" height="3.2" fill="url(#p0)" transform="translate(141.20,0) scale(1.0535,1) translate(-150.0,0)"/><rect x="110.0" y="541.0" width="427.0" height="3.2" fill="url(#p0)" transform="translate(140.33,0) scale(1.0558,1) translate(-150.0,0)"/><rect x="110.0" y="544.0" width="427.0" height="3.2" fill="url(#p0)" transform="translate(139.44,0) scale(1.0582,1) translate(-150.0,0)"/><rect x="110.0" y="547.0" width="427.0" height="3.2" fill="url(#p0)" transform="translate(138.52,0) scale(1.0606,1) translate(-150.0,0)"/><rect x="110.0" y="550.0" width="427.0" height="3.2" fill="url(#p0)" transform="translate(137.59,0) scale(1.0631,1) translate(-150.0,0)"/><rect x="110.0" y="553.0" width="427.0" height="3.2" fill="url(#p0)" transform="translate(136.63,0) scale(1.0656,1) translate(-150.0,0)"/><rect x="110.0" y="556.0" width="427.0" height="3.2" fill="url(#p0)" transform="translate(135.65,0) scale(1.0682,1) translate(-150.0,0)"/><rect x="110.0" y="559.0" width="427.0" height="3.2" fill="url(#p0)" transform="translate(134.65,0) scale(1.0708,1) translate(-150.0,0)"/><rect x="110.0" y="562.0" width="427.0" height="3.2" fill="url(#p0)" transform="translate(133.62,0) scale(1.0735,1) translate(-150.0,0)"/><rect x="110.0" y="565.0" width="427.0" height="3.2" fill="url(#p0)" transform="translate(132.57,0) scale(1.0763,1) translate(-150.0,0)"/><rect x="110.0" y="568.0" width="427.0" height="3.2" fill="url(#p0)" transform="translate(131.50,0) scale(1.0791,1) translate(-150.0,0)"/><rect x="110.0" y="571.0" width="427.0" height="3.2" fill="url(#p0)" transform="translate(130.40,0) scale(1.0820,1) translate(-150.0,0)"/><rect x="110.0" y="574.0" width="427.0" height="3.2" fill="url(#p0)" transform="translate(129.28,0) scale(1.0850,1) translate(-150.0,0)"/></g></g>
<g clip-path="url(#clip0)" fill="#1f77b4">
<circle cx="276.4" cy="137.3" r="4.3"/>
<circle cx="302.7" cy="158.3" r="4.3"/>
<circle cx="284.4" cy="195.3" r="4.3"/>
<circle cx="287.4" cy="203.1" r="4.3"/>
<circle cx="290.4" cy="210.8" r="4.3"/>
<circle cx="223.4" cy="246.4" r="4.3"/>
<circle cx="246.3" cy="279.3" r="4.3"/>
<circle cx="227.3" cy="286.4" r="4.3"/>
<circle cx="286.3" cy="265.5" r="4.3"/>
<circle cx="302.2" cy="248.2" r="4.3"/>
<circle cx="208.5" cy="376.5" r="4.3"/>
<circle cx="298.4" cy="438.4" r="4.3"/>
<circle cx="222.3" cy="485.6" r="4.3"/>
<circle cx="197.4" cy="514.3" r="4.3"/>
<circle cx="282.4" cy="479.4" r="4.3"/>
<circle cx="295.5" cy="492.3" r="4.3"/>
<circle cx="288.3" cy="514.3" r="4.3"/>
<circle cx="292.5" cy="529.3" r="4.3"/>
<circle cx="288.5" cy="549.2" r="4.3"/>
<circle cx="315.5" cy="114.4" r="4.3"/>
<circle cx="343.6" cy="111.6" r="4.3"/>
<circle cx="343.3" cy="120.3" r="4.3"/>
<circle cx="344.7" cy="125.3" r="4.3"/>
<circle cx="348.7" cy="135.6" r="4.3"/>
<circle cx="348.2" cy="141.8" r="4.3"/>
<circle cx="349.4" cy="134.2" r="4.3"/>
<circle cx="349.5" cy="154.0" r="4.3"/>
<circle cx="324.7" cy="143.4" r="4.3"/>
<circle cx="324.7" cy="152.4" r="4.3"/>
<circle cx="326.4" cy="160.2" r="4.3"/>
<circle cx="303.4" cy="158.2" r="4.3"/>
<circle cx="374.6" cy="149.2" r="4.3"/>
<circle cx="324.2" cy="166.6" r="4.3"/>
<circle cx="330.4" cy="165.7" r="4.3"/>
<circle cx="329.1" cy="170.6" r="4.3"/>
<circle cx="330.4" cy="175.0" r="4.3"/>
<circle cx="339.3" cy="171.2" r="4.3"/>
<circle cx="340.2" cy="179.7" r="4.3"/>
<circle cx="332.7" cy="184.3" r="4.3"/>
<circle cx="327.3" cy="189.2" r="4.3"/>
<circle cx="326.4" cy="196.3" r="4.3"/>
<circle cx="338.4" cy="193.2" r="4.3"/>
<circle cx="339.8" cy="198.6" r="4.3"/>
<circle cx="334.4" cy="201.2" r="4.3"/>
<circle cx="338.0" cy="203.9" r="4.3"/>
<circle cx="334.9" cy="204.3" r="4.3"/>
<circle cx="309.6" cy="177.4" r="4.3"/>
<circle cx="312.7" cy="199.0" r="4.3"/>
<circle cx="311.3" cy="207.4" r="4.3"/>
<circle cx="335.3" cy="214.6" r="4.3"/>
<circle cx="350.3" cy="155.4" r="4.3"/>
<circle cx="356.6" cy="160.3" r="4.3"/>
<circle cx="362.3" cy="161.7" r="4.3"/>
<circle cx="363.2" cy="167.4" r="4.3"/>
<circle cx="362.8" cy="174.1" r="4.3"/>
<circle cx="353.4" cy="172.3" r="4.3"/>
<circle cx="359.7" cy="165.7" r="4.3"/>
<circle cx="364.0" cy="175.3" r="4.3"/>
<circle cx="377.0" cy="160.3" r="4.3"/>
<circle cx="377.4" cy="165.7" r="4.3"/>
<circle cx="376.4" cy="174.9" r="4.3"/>
<circle cx="379.1" cy="181.6" r="4.3"/>
<circle cx="381.8" cy="186.9" r="4.3"/>
<circle cx="382.7" cy="193.1" r="4.3"/>
<circle cx="378.2" cy="195.8" r="4.3"/>
<circle cx="379.1" cy="202.0" r="4.3"/>
<circle cx="384.4" cy="209.1" r="4.3"/>
<circle cx="380.9" cy="211.8" r="4.3"/>
<circle cx="381.8" cy="218.0" r="4.3"/>
<circle cx="381.8" cy="225.1" r="4.3"/>
<circle cx="310.4" cy="215.3" r="4.3"/>
<circle cx="335.5" cy="217.1" r="4.3"/>
<circle cx="318.4" cy="226.0" r="4.3"/>
<circle cx="315.3" cy="228.2" r="4.3"/>
<circle cx="315.5" cy="236.4" r="4.3"/>
<circle cx="314.7" cy="244.2" r="4.3"/>
<circle cx="315.5" cy="252.2" r="4.3"/>
<circle cx="311.8" cy="258.0" r="4.3"/>
<circle cx="312.2" cy="263.3" r="4.3"/>
<circle cx="307.8" cy="264.2" r="4.3"/>
<circle cx="330.4" cy="238.3" r="4.3"/>
<circle cx="329.6" cy="256.2" r="4.3"/>
<circle cx="346.0" cy="249.6" r="4.3"/>
<circle cx="347.8" cy="247.3" r="4.3"/>
<circle cx="345.6" cy="258.9" r="4.3"/>
<circle cx="347.8" cy="265.1" r="4.3"/>
<circle cx="355.2" cy="230.4" r="4.3"/>
<circle cx="361.4" cy="226.9" r="4.3"/>
<circle cx="361.4" cy="233.1" r="4.3"/>
<circle cx="360.6" cy="238.4" r="4.3"/>
<circle cx="361.0" cy="242.9" r="4.3"/>
<circle cx="358.3" cy="247.3" r="4.3"/>
<circle cx="357.9" cy="252.7" r="4.3"/>
<circle cx="357.0" cy="263.3" r="4.3"/>
<circle cx="349.4" cy="258.0" r="4.3"/>
<circle cx="357.8" cy="226.9" r="4.3"/>
<circle cx="377.0" cy="249.6" r="4.3"/>
<circle cx="316.4" cy="271.4" r="4.3"/>
<circle cx="307.3" cy="274.3" r="4.3"/>
<circle cx="313.6" cy="282.3" r="4.3"/>
<circle cx="314.4" cy="304.3" r="4.3"/>
<circle cx="336.2" cy="282.3" r="4.3"/>
<circle cx="334.4" cy="290.3" r="4.3"/>
<circle cx="335.3" cy="298.3" r="4.3"/>
<circle cx="345.1" cy="302.3" r="4.3"/>
<circle cx="335.8" cy="310.8" r="4.3"/>
<circle cx="341.6" cy="315.7" r="4.3"/>
<circle cx="346.9" cy="311.2" r="4.3"/>
<circle cx="345.6" cy="278.3" r="4.3"/>
<circle cx="346.9" cy="272.1" r="4.3"/>
<circle cx="348.7" cy="266.8" r="4.3"/>
<circle cx="353.9" cy="273.0" r="4.3"/>
<circle cx="358.3" cy="280.1" r="4.3"/>
<circle cx="354.8" cy="286.3" r="4.3"/>
<circle cx="359.2" cy="288.1" r="4.3"/>
<circle cx="358.3" cy="294.3" r="4.3"/>
<circle cx="360.1" cy="299.2" r="4.3"/>
<circle cx="360.1" cy="308.6" r="4.3"/>
<circle cx="378.8" cy="281.9" r="4.3"/>
<circle cx="375.2" cy="301.4" r="4.3"/>
<circle cx="380.6" cy="312.6" r="4.3"/>
<circle cx="382.3" cy="307.7" r="4.3"/>
<circle cx="339.6" cy="324.0" r="4.3"/>
<circle cx="329.6" cy="340.4" r="4.3"/>
<circle cx="333.6" cy="353.3" r="4.3"/>
<circle cx="306.4" cy="365.5" r="4.3"/>
<circle cx="341.6" cy="336.4" r="4.3"/>
<circle cx="344.2" cy="330.7" r="4.3"/>
<circle cx="345.1" cy="346.2" r="4.3"/>
<circle cx="348.2" cy="360.4" r="4.3"/>
<circle cx="348.1" cy="331.1" r="4.3"/>
<circle cx="347.7" cy="336.9" r="4.3"/>
<circle cx="347.7" cy="343.1" r="4.3"/>
<circle cx="349.4" cy="351.1" r="4.3"/>
<circle cx="347.7" cy="360.0" r="4.3"/>
<circle cx="357.4" cy="356.0" r="4.3"/>
<circle cx="355.7" cy="367.1" r="4.3"/>
<circle cx="356.6" cy="372.4" r="4.3"/>
<circle cx="353.0" cy="377.8" r="4.3"/>
<circle cx="370.8" cy="356.4" r="4.3"/>
<circle cx="371.2" cy="360.9" r="4.3"/>
<circle cx="371.7" cy="366.2" r="4.3"/>
<circle cx="372.1" cy="371.6" r="4.3"/>
<circle cx="368.1" cy="377.8" r="4.3"/>
<circle cx="324.5" cy="390.3" r="4.3"/>
<circle cx="346.9" cy="387.4" r="4.3"/>
<circle cx="348.7" cy="380.3" r="4.3"/>
<circle cx="342.4" cy="398.3" r="4.3"/>
<circle cx="346.0" cy="406.1" r="4.3"/>
<circle cx="341.6" cy="415.4" r="4.3"/>
<circle cx="346.9" cy="415.9" r="4.3"/>
<circle cx="343.3" cy="423.4" r="4.3"/>
<circle cx="344.2" cy="427.4" r="4.3"/>
<circle cx="353.9" cy="376.8" r="4.3"/>
<circle cx="350.3" cy="383.0" r="4.3"/>
<circle cx="348.6" cy="389.2" r="4.3"/>
<circle cx="356.1" cy="389.2" r="4.3"/>
<circle cx="354.8" cy="383.9" r="4.3"/>
<circle cx="347.7" cy="403.4" r="4.3"/>
<circle cx="355.2" cy="405.2" r="4.3"/>
<circle cx="355.7" cy="410.6" r="4.3"/>
<circle cx="348.6" cy="415.9" r="4.3"/>
<circle cx="356.6" cy="416.3" r="4.3"/>
<circle cx="369.9" cy="376.8" r="4.3"/>
<circle cx="368.1" cy="382.1" r="4.3"/>
<circle cx="371.7" cy="385.7" r="4.3"/>
<circle cx="367.7" cy="389.7" r="4.3"/>
<circle cx="371.7" cy="391.0" r="4.3"/>
<circle cx="369.9" cy="395.4" r="4.3"/>
<circle cx="369.0" cy="399.9" r="4.3"/>
<circle cx="371.7" cy="399.0" r="4.3"/>
<circle cx="370.8" cy="405.2" r="4.3"/>
<circle cx="371.7" cy="409.7" r="4.3"/>
<circle cx="371.7" cy="415.0" r="4.3"/>
<circle cx="372.6" cy="418.6" r="4.3"/>
<circle cx="373.4" cy="423.4" r="4.3"/>
<circle cx="344.0" cy="423.0" r="4.3"/>
<circle cx="344.5" cy="428.0" r="4.3"/>
<circle cx="344.0" cy="433.0" r="4.3"/>
<circle cx="344.5" cy="438.0" r="4.3"/>
<circle cx="345.5" cy="443.0" r="4.3"/>
<circle cx="348.0" cy="447.0" r="4.3"/>
<circle cx="346.0" cy="451.0" r="4.3"/>
<circle cx="349.0" cy="452.0" r="4.3"/>
<circle cx="345.0" cy="456.0" r="4.3"/>
<circle cx="349.0" cy="457.0" r="4.3"/>
<circle cx="346.0" cy="461.0" r="4.3"/>
<circle cx="350.0" cy="462.0" r="4.3"/>
<circle cx="347.0" cy="466.0" r="4.3"/>
<circle cx="350.0" cy="467.0" r="4.3"/>
<circle cx="348.0" cy="471.0" r="4.3"/>
<circle cx="351.0" cy="472.0" r="4.3"/>
<circle cx="349.0" cy="476.0" r="4.3"/>
<circle cx="351.0" cy="477.0" r="4.3"/>
<circle cx="321.6" cy="460.2" r="4.3"/>
<circle cx="331.3" cy="474.0" r="4.3"/>
<circle cx="337.6" cy="470.0" r="4.3"/>
<circle cx="373.6" cy="423.1" r="4.3"/>
<circle cx="371.0" cy="432.0" r="4.3"/>
<circle cx="373.5" cy="436.0" r="4.3"/>
<circle cx="368.0" cy="437.0" r="4.3"/>
<circle cx="364.0" cy="440.5" r="4.3"/>
<circle cx="368.5" cy="442.0" r="4.3"/>
<circle cx="373.5" cy="441.0" r="4.3"/>
<circle cx="369.0" cy="446.0" r="4.3"/>
<circle cx="373.5" cy="446.0" r="4.3"/>
<circle cx="369.5" cy="451.0" r="4.3"/>
<circle cx="373.0" cy="451.0" r="4.3"/>
<circle cx="369.5" cy="456.0" r="4.3"/>
<circle cx="373.0" cy="456.0" r="4.3"/>
<circle cx="369.5" cy="461.0" r="4.3"/>
<circle cx="374.0" cy="461.0" r="4.3"/>
<circle cx="370.0" cy="466.0" r="4.3"/>
<circle cx="374.0" cy="466.0" r="4.3"/>
<circle cx="370.5" cy="471.0" r="4.3"/>
<circle cx="374.5" cy="471.0" r="4.3"/>
<circle cx="371.0" cy="476.0" r="4.3"/>
<circle cx="375.0" cy="476.0" r="4.3"/>
<circle cx="348.7" cy="472.7" r="4.3"/>
<circle cx="351.3" cy="476.2" r="4.3"/>
<circle cx="347.8" cy="478.9" r="4.3"/>
<circle cx="343.3" cy="484.2" r="4.3"/>
<circle cx="351.3" cy="486.0" r="4.3"/>
<circle cx="339.8" cy="494.9" r="4.3"/>
<circle cx="346.0" cy="491.3" r="4.3"/>
<circle cx="351.3" cy="492.2" r="4.3"/>
<circle cx="344.2" cy="500.2" r="4.3"/>
<circle cx="352.2" cy="502.0" r="4.3"/>
<circle cx="349.6" cy="505.6" r="4.3"/>
<circle cx="341.1" cy="509.6" r="4.3"/>
<circle cx="339.3" cy="524.0" r="4.3"/>
<circle cx="350.0" cy="519.3" r="4.3"/>
<circle cx="350.0" cy="522.4" r="4.3"/>
<circle cx="340.7" cy="494.8" r="4.3"/>
<circle cx="343.3" cy="487.7" r="4.3"/>
<circle cx="341.6" cy="509.9" r="4.3"/>
<circle cx="343.3" cy="502.8" r="4.3"/>
<circle cx="346.9" cy="493.9" r="4.3"/>
<circle cx="347.8" cy="505.4" r="4.3"/>
<circle cx="352.1" cy="487.7" r="4.3"/>
<circle cx="351.2" cy="493.9" r="4.3"/>
<circle cx="353.0" cy="501.4" r="4.3"/>
<circle cx="350.3" cy="506.3" r="4.3"/>
<circle cx="345.9" cy="502.8" r="4.3"/>
<circle cx="373.0" cy="472.0" r="4.3"/>
<circle cx="376.0" cy="472.0" r="4.3"/>
<circle cx="373.0" cy="477.0" r="4.3"/>
<circle cx="376.5" cy="477.0" r="4.3"/>
<circle cx="373.0" cy="482.0" r="4.3"/>
<circle cx="377.0" cy="482.0" r="4.3"/>
<circle cx="373.5" cy="487.0" r="4.3"/>
<circle cx="376.5" cy="487.0" r="4.3"/>
<circle cx="373.5" cy="492.0" r="4.3"/>
<circle cx="377.0" cy="492.0" r="4.3"/>
<circle cx="374.0" cy="497.0" r="4.3"/>
<circle cx="376.5" cy="497.0" r="4.3"/>
<circle cx="371.5" cy="502.0" r="4.3"/>
<circle cx="376.0" cy="502.0" r="4.3"/>
<circle cx="372.0" cy="507.0" r="4.3"/>
<circle cx="375.5" cy="507.0" r="4.3"/>
<circle cx="372.0" cy="512.0" r="4.3"/>
<circle cx="375.0" cy="512.0" r="4.3"/>
<circle cx="371.5" cy="517.0" r="4.3"/>
<circle cx="374.0" cy="517.0" r="4.3"/>
<circle cx="370.5" cy="522.0" r="4.3"/>
<circle cx="372.5" cy="526.0" r="4.3"/>
<circle cx="365.6" cy="497.6" r="4.3"/>
<circle cx="371.3" cy="526.0" r="4.3"/>
<circle cx="323.6" cy="500.3" r="4.3"/>
<circle cx="312.5" cy="529.2" r="4.3"/>
<circle cx="337.6" cy="535.3" r="4.3"/>
<circle cx="338.4" cy="548.6" r="4.3"/>
<circle cx="333.6" cy="551.2" r="4.3"/>
<circle cx="336.7" cy="557.0" r="4.3"/>
<circle cx="332.7" cy="561.9" r="4.3"/>
<circle cx="332.5" cy="568.6" r="4.3"/>
<circle cx="321.6" cy="565.4" r="4.3"/>
<circle cx="355.0" cy="184.0" r="4.3"/>
<circle cx="359.5" cy="184.0" r="4.3"/>
<circle cx="363.5" cy="184.0" r="4.3"/>
<circle cx="355.0" cy="188.0" r="4.3"/>
<circle cx="359.5" cy="188.0" r="4.3"/>
<circle cx="363.5" cy="188.0" r="4.3"/>
<circle cx="355.0" cy="192.0" r="4.3"/>
<circle cx="359.5" cy="192.0" r="4.3"/>
<circle cx="363.5" cy="192.0" r="4.3"/>
<circle cx="355.0" cy="196.0" r="4.3"/>
<circle cx="359.5" cy="196.0" r="4.3"/>
<circle cx="363.5" cy="196.0" r="4.3"/>
<circle cx="355.0" cy="200.0" r="4.3"/>
<circle cx="359.5" cy="200.0" r="4.3"/>
<circle cx="363.5" cy="200.0" r="4.3"/>
<circle cx="355.0" cy="204.0" r="4.3"/>
<circle cx="359.5" cy="204.0" r="4.3"/>
<circle cx="363.5" cy="204.0" r="4.3"/>
<circle cx="356.0" cy="208.0" r="4.3"/>
<circle cx="360.0" cy="208.0" r="4.3"/>
<circle cx="363.0" cy="208.0" r="4.3"/>
<circle cx="357.0" cy="212.0" r="4.3"/>
<circle cx="361.5" cy="212.0" r="4.3"/>
<circle cx="359.5" cy="216.0" r="4.3"/>
<circle cx="360.0" cy="218.0" r="4.3"/>
<circle cx="381.5" cy="228.0" r="4.3"/>
<circle cx="381.5" cy="232.0" r="4.3"/>
<circle cx="381.5" cy="236.0" r="4.3"/>
<circle cx="381.5" cy="240.0" r="4.3"/>
<circle cx="381.5" cy="244.0" r="4.3"/>
<circle cx="381.5" cy="248.0" r="4.3"/>
<circle cx="381.5" cy="252.0" r="4.3"/>
<circle cx="381.5" cy="256.0" r="4.3"/>
<circle cx="381.5" cy="260.0" r="4.3"/>
<circle cx="381.5" cy="264.0" r="4.3"/>
<circle cx="381.5" cy="268.0" r="4.3"/>
<circle cx="381.5" cy="272.0" r="4.3"/>
<circle cx="381.5" cy="276.0" r="4.3"/>
<circle cx="381.5" cy="280.0" r="4.3"/>
<circle cx="381.5" cy="284.0" r="4.3"/>
<circle cx="381.5" cy="288.0" r="4.3"/>
<circle cx="381.5" cy="292.0" r="4.3"/>
<circle cx="381.5" cy="296.0" r="4.3"/>
<circle cx="381.5" cy="300.0" r="4.3"/>
<circle cx="381.5" cy="304.0" r="4.3"/>
<circle cx="381.5" cy="308.0" r="4.3"/>
<circle cx="381.5" cy="312.0" r="4.3"/>
<circle cx="381.5" cy="316.0" r="4.3"/>
<circle cx="383.5" cy="230.0" r="4.3"/>
<circle cx="383.5" cy="235.0" r="4.3"/>
<circle cx="383.5" cy="240.0" r="4.3"/>
<circle cx="383.5" cy="245.0" r="4.3"/>
<circle cx="383.5" cy="250.0" r="4.3"/>
<circle cx="383.5" cy="255.0" r="4.3"/>
<circle cx="383.5" cy="260.0" r="4.3"/>
<circle cx="383.5" cy="265.0" r="4.3"/>
<circle cx="383.5" cy="270.0" r="4.3"/>
<circle cx="383.5" cy="275.0" r="4.3"/>
<circle cx="383.5" cy="280.0" r="4.3"/>
<circle cx="383.5" cy="285.0" r="4.3"/>
<circle cx="383.5" cy="290.0" r="4.3"/>
<circle cx="383.5" cy="295.0" r="4.3"/>
<circle cx="378.3" cy="252.0" r="4.3"/>
<circle cx="378.3" cy="257.0" r="4.3"/>
<circle cx="378.3" cy="262.0" r="4.3"/>
<circle cx="378.3" cy="267.0" r="4.3"/>
<circle cx="378.3" cy="272.0" r="4.3"/>
<circle cx="378.3" cy="277.0" r="4.3"/>
<circle cx="378.3" cy="282.0" r="4.3"/>
<circle cx="378.3" cy="287.0" r="4.3"/>
<circle cx="378.3" cy="292.0" r="4.3"/>
<circle cx="378.3" cy="297.0" r="4.3"/>
<circle cx="378.3" cy="302.0" r="4.3"/>
<circle cx="378.3" cy="307.0" r="4.3"/>
<circle cx="352.0" cy="408.0" r="4.3"/>
<circle cx="351.0" cy="413.0" r="4.3"/>
<circle cx="353.0" cy="418.0" r="4.3"/>
<circle cx="367.0" cy="395.0" r="4.3"/>
<circle cx="367.5" cy="405.0" r="4.3"/>
<circle cx="368.0" cy="412.0" r="4.3"/>
<circle cx="342.5" cy="445.0" r="4.3"/>
<circle cx="342.5" cy="452.0" r="4.3"/>
<circle cx="343.0" cy="459.0" r="4.3"/>
<circle cx="343.5" cy="466.0" r="4.3"/>
</g>
<rect x="150.0" y="109.0" width="347.0" height="463.0" fill="none" stroke="#000" stroke-width="1.6"/>
<line x1="203.23" y1="572.0" x2="203.23" y2="579.0" stroke="#000" stroke-width="1.6"/>
<text x="203.23" y="603.5" font-size="22.2" text-anchor="middle">32.5</text>
<line x1="275.40" y1="572.0" x2="275.40" y2="579.0" stroke="#000" stroke-width="1.6"/>
<text x="275.40" y="603.5" font-size="22.2" text-anchor="middle">35.0</text>
<line x1="347.58" y1="572.0" x2="347.58" y2="579.0" stroke="#000" stroke-width="1.6"/>
<text x="347.58" y="603.5" font-size="22.2" text-anchor="middle">37.5</text>
<line x1="419.75" y1="572.0" x2="419.75" y2="579.0" stroke="#000" stroke-width="1.6"/>
<text x="419.75" y="603.5" font-size="22.2" text-anchor="middle">40.0</text>
<line x1="491.92" y1="572.0" x2="491.92" y2="579.0" stroke="#000" stroke-width="1.6"/>
<text x="491.92" y="603.5" font-size="22.2" text-anchor="middle">42.5</text>
<line x1="143.0" y1="109.00" x2="150.0" y2="109.00" stroke="#000" stroke-width="1.6"/>
<text x="135.00" y="116.50" font-size="22.2" text-anchor="end">8</text>
<line x1="143.0" y1="166.88" x2="150.0" y2="166.88" stroke="#000" stroke-width="1.6"/>
<text x="135.00" y="174.38" font-size="22.2" text-anchor="end">6</text>
<line x1="143.0" y1="224.75" x2="150.0" y2="224.75" stroke="#000" stroke-width="1.6"/>
<text x="135.00" y="232.25" font-size="22.2" text-anchor="end">4</text>
<line x1="143.0" y1="282.62" x2="150.0" y2="282.62" stroke="#000" stroke-width="1.6"/>
<text x="135.00" y="290.12" font-size="22.2" text-anchor="end">2</text>
<line x1="143.0" y1="340.50" x2="150.0" y2="340.50" stroke="#000" stroke-width="1.6"/>
<text x="135.00" y="348.00" font-size="22.2" text-anchor="end">0</text>
<line x1="143.0" y1="398.38" x2="150.0" y2="398.38" stroke="#000" stroke-width="1.6"/>
<text x="135.00" y="405.88" font-size="22.2" text-anchor="end">-2</text>
<line x1="143.0" y1="456.25" x2="150.0" y2="456.25" stroke="#000" stroke-width="1.6"/>
<text x="135.00" y="463.75" font-size="22.2" text-anchor="end">-4</text>
<line x1="143.0" y1="514.12" x2="150.0" y2="514.12" stroke="#000" stroke-width="1.6"/>
<text x="135.00" y="521.62" font-size="22.2" text-anchor="end">-6</text>
<line x1="143.0" y1="572.00" x2="150.0" y2="572.00" stroke="#000" stroke-width="1.6"/>
<text x="135.00" y="579.50" font-size="22.2" text-anchor="end">-8</text>
<text x="323.50" y="636" font-size="26" text-anchor="middle">x [<tspan font-style="italic">μ</tspan>m]</text>
<text transform="translate(100.00,342) rotate(-90)" font-size="26" text-anchor="middle">y [<tspan font-style="italic">μ</tspan>m]</text>
<rect x="505.0" y="109.0" width="17.0" height="463.0" fill="url(#seis)" stroke="#000" stroke-width="1.6"/>
<line x1="522.0" y1="109.00" x2="529.0" y2="109.00" stroke="#000" stroke-width="1.6"/>
<text x="537.00" y="116.50" font-size="22.2">1.00</text>
<line x1="522.0" y1="166.88" x2="529.0" y2="166.88" stroke="#000" stroke-width="1.6"/>
<text x="537.00" y="174.38" font-size="22.2">0.75</text>
<line x1="522.0" y1="224.75" x2="529.0" y2="224.75" stroke="#000" stroke-width="1.6"/>
<text x="537.00" y="232.25" font-size="22.2">0.50</text>
<line x1="522.0" y1="282.62" x2="529.0" y2="282.62" stroke="#000" stroke-width="1.6"/>
<text x="537.00" y="290.12" font-size="22.2">0.25</text>
<line x1="522.0" y1="340.50" x2="529.0" y2="340.50" stroke="#000" stroke-width="1.6"/>
<text x="537.00" y="348.00" font-size="22.2">0.00</text>
<line x1="522.0" y1="398.38" x2="529.0" y2="398.38" stroke="#000" stroke-width="1.6"/>
<text x="537.00" y="405.88" font-size="22.2">-0.25</text>
<line x1="522.0" y1="456.25" x2="529.0" y2="456.25" stroke="#000" stroke-width="1.6"/>
<text x="537.00" y="463.75" font-size="22.2">-0.50</text>
<line x1="522.0" y1="514.12" x2="529.0" y2="514.12" stroke="#000" stroke-width="1.6"/>
<text x="537.00" y="521.62" font-size="22.2">-0.75</text>
<line x1="522.0" y1="572.00" x2="529.0" y2="572.00" stroke="#000" stroke-width="1.6"/>
<text x="537.00" y="579.50" font-size="22.2">-1.00</text>
<text x="520.80" y="102.8" font-size="22.2" text-anchor="end">1e13</text>
<text transform="translate(610.50,341) rotate(-90)" font-size="26" letter-spacing="-0.37" text-anchor="middle">Longitudinal Electric Field V/m</text>
<clipPath id="clip1"><rect x="708.0" y="109.0" width="347.0" height="463.0"/></clipPath>
<defs><linearGradient id="p1" gradientUnits="userSpaceOnUse" x1="648.0" y1="0" x2="1115.0" y2="0"><stop offset="0.00396" stop-color="#f00" stop-opacity="0.707"/><stop offset="0.01011" stop-color="#f00" stop-opacity="1.000"/><stop offset="0.01626" stop-color="#f00" stop-opacity="0.707"/><stop offset="0.02241" stop-color="#f00" stop-opacity="0"/><stop offset="0.02241" stop-color="#00f" stop-opacity="0"/><stop offset="0.02856" stop-color="#00f" stop-opacity="0.707"/><stop offset="0.03471" stop-color="#00f" stop-opacity="1.000"/><stop offset="0.04086" stop-color="#00f" stop-opacity="0.707"/><stop offset="0.04701" stop-color="#00f" stop-opacity="0"/><stop offset="0.04701" stop-color="#f00" stop-opacity="0"/><stop offset="0.05316" stop-color="#f00" stop-opacity="0.707"/><stop offset="0.05931" stop-color="#f00" stop-opacity="1.000"/><stop offset="0.06547" stop-color="#f00" stop-opacity="0.707"/><stop offset="0.07162" stop-color="#f00" stop-opacity="0"/><stop offset="0.07162" stop-color="#00f" stop-opacity="0"/><stop offset="0.07777" stop-color="#00f" stop-opacity="0.707"/><stop offset="0.08392" stop-color="#00f" stop-opacity="1.000"/><stop offset="0.09007" stop-color="#00f" stop-opacity="0.707"/><stop offset="0.09622" stop-color="#00f" stop-opacity="0"/><stop offset="0.09622" stop-color="#f00" stop-opacity="0"/><stop offset="0.10237" stop-color="#f00" stop-opacity="0.707"/><stop offset="0.10852" stop-color="#f00" stop-opacity="1.000"/><stop offset="0.11467" stop-color="#f00" stop-opacity="0.707"/><stop offset="0.12082" stop-color="#f00" stop-opacity="0"/><stop offset="0.12082" stop-color="#00f" stop-opacity="0"/><stop offset="0.12698" stop-color="#00f" stop-opacity="0.707"/><stop offset="0.13313" stop-color="#00f" stop-opacity="1.000"/><stop offset="0.13928" stop-color="#00f" stop-opacity="0.707"/><stop offset="0.14543" stop-color="#00f" stop-opacity="0"/><stop offset="0.14543" stop-color="#f00" stop-opacity="0"/><stop offset="0.15158" stop-color="#f00" stop-opacity="0.707"/><stop offset="0.15773" stop-color="#f00" stop-opacity="1.000"/><stop offset="0.16388" stop-color="#f00" stop-opacity="0.707"/><stop offset="0.17003" stop-color="#f00" stop-opacity="0"/><stop offset="0.17003" stop-color="#00f" stop-opacity="0"/><stop offset="0.17618" stop-color="#00f" stop-opacity="0.707"/><stop offset="0.18233" stop-color="#00f" stop-opacity="1.000"/><stop offset="0.18849" stop-color="#00f" stop-opacity="0.707"/><stop offset="0.19464" stop-color="#00f" stop-opacity="0"/><stop offset="0.19464" stop-color="#f00" stop-opacity="0"/><stop offset="0.20079" stop-color="#f00" stop-opacity="0.707"/><stop offset="0.20694" stop-color="#f00" stop-opacity="1.000"/><stop offset="0.21309" stop-color="#f00" stop-opacity="0.707"/><stop offset="0.21924" stop-color="#f00" stop-opacity="0"/><stop offset="0.21924" stop-color="#00f" stop-opacity="0"/><stop offset="0.22539" stop-color="#00f" stop-opacity="0.707"/><stop offset="0.23154" stop-color="#00f" stop-opacity="1.000"/><stop offset="0.23769" stop-color="#00f" stop-opacity="0.707"/><stop offset="0.24384" stop-color="#00f" stop-opacity="0"/><stop offset="0.24384" stop-color="#f00" stop-opacity="0"/><stop offset="0.24999" stop-color="#f00" stop-opacity="0.707"/><stop offset="0.25615" stop-color="#f00" stop-opacity="1.000"/><stop offset="0.26230" stop-color="#f00" stop-opacity="0.707"/><stop offset="0.26845" stop-color="#f00" stop-opacity="0"/><stop offset="0.26845" stop-color="#00f" stop-opacity="0"/><stop offset="0.27460" stop-color="#00f" stop-opacity="0.707"/><stop offset="0.28075" stop-color="#00f" stop-opacity="1.000"/><stop offset="0.28690" stop-color="#00f" stop-opacity="0.707"/><stop offset="0.29305" stop-color="#00f" stop-opacity="0"/><stop offset="0.29305" stop-color="#f00" stop-opacity="0"/><stop offset="0.29920" stop-color="#f00" stop-opacity="0.707"/><stop offset="0.30535" stop-color="#f00" stop-opacity="1.000"/><stop offset="0.31150" stop-color="#f00" stop-opacity="0.707"/><stop offset="0.31766" stop-color="#f00" stop-opacity="0"/><stop offset="0.31766" stop-color="#00f" stop-opacity="0"/><stop offset="0.32381" stop-color="#00f" stop-opacity="0.707"/><stop offset="0.32996" stop-color="#00f" stop-opacity="1.000"/><stop offset="0.33611" stop-color="#00f" stop-opacity="0.707"/><stop offset="0.34226" stop-color="#00f" stop-opacity="0"/><stop offset="0.34226" stop-color="#f00" stop-opacity="0"/><stop offset="0.34841" stop-color="#f00" stop-opacity="0.707"/><stop offset="0.35456" stop-color="#f00" stop-opacity="1.000"/><stop offset="0.36071" stop-color="#f00" stop-opacity="0.707"/><stop offset="0.36686" stop-color="#f00" stop-opacity="0"/><stop offset="0.36686" stop-color="#00f" stop-opacity="0"/><stop offset="0.37301" stop-color="#00f" stop-opacity="0.707"/><stop offset="0.37916" stop-color="#00f" stop-opacity="1.000"/><stop offset="0.38532" stop-color="#00f" stop-opacity="0.707"/><stop offset="0.39147" stop-color="#00f" stop-opacity="0"/><stop offset="0.39147" stop-color="#f00" stop-opacity="0"/><stop offset="0.39762" stop-color="#f00" stop-opacity="0.707"/><stop offset="0.40377" stop-color="#f00" stop-opacity="1.000"/><stop offset="0.40992" stop-color="#f00" stop-opacity="0.707"/><stop offset="0.41607" stop-color="#f00" stop-opacity="0"/><stop offset="0.41607" stop-color="#00f" stop-opacity="0"/><stop offset="0.42222" stop-color="#00f" stop-opacity="0.707"/><stop offset="0.42837" stop-color="#00f" stop-opacity="1.000"/><stop offset="0.43452" stop-color="#00f" stop-opacity="0.707"/><stop offset="0.44067" stop-color="#00f" stop-opacity="0"/><stop offset="0.44067" stop-color="#f00" stop-opacity="0"/><stop offset="0.44683" stop-color="#f00" stop-opacity="0.707"/><stop offset="0.45298" stop-color="#f00" stop-opacity="1.000"/><stop offset="0.45913" stop-color="#f00" stop-opacity="0.707"/><stop offset="0.46528" stop-color="#f00" stop-opacity="0"/><stop offset="0.46528" stop-color="#00f" stop-opacity="0"/><stop offset="0.47143" stop-color="#00f" stop-opacity="0.707"/><stop offset="0.47758" stop-color="#00f" stop-opacity="1.000"/><stop offset="0.48373" stop-color="#00f" stop-opacity="0.707"/><stop offset="0.48988" stop-color="#00f" stop-opacity="0"/><stop offset="0.48988" stop-color="#f00" stop-opacity="0"/><stop offset="0.49603" stop-color="#f00" stop-opacity="0.707"/><stop offset="0.50218" stop-color="#f00" stop-opacity="1.000"/><stop offset="0.50834" stop-color="#f00" stop-opacity="0.707"/><stop offset="0.51449" stop-color="#f00" stop-opacity="0"/><stop offset="0.51449" stop-color="#00f" stop-opacity="0"/><stop offset="0.52064" stop-color="#00f" stop-opacity="0.707"/><stop offset="0.52679" stop-color="#00f" stop-opacity="1.000"/><stop offset="0.53294" stop-color="#00f" stop-opacity="0.707"/><stop offset="0.53909" stop-color="#00f" stop-opacity="0"/><stop offset="0.53909" stop-color="#f00" stop-opacity="0"/><stop offset="0.54524" stop-color="#f00" stop-opacity="0.707"/><stop offset="0.55139" stop-color="#f00" stop-opacity="1.000"/><stop offset="0.55754" stop-color="#f00" stop-opacity="0.707"/><stop offset="0.56369" stop-color="#f00" stop-opacity="0"/><stop offset="0.56369" stop-color="#00f" stop-opacity="0"/><stop offset="0.56984" stop-color="#00f" stop-opacity="0.707"/><stop offset="0.57600" stop-color="#00f" stop-opacity="1.000"/><stop offset="0.58215" stop-color="#00f" stop-opacity="0.707"/><stop offset="0.58830" stop-color="#00f" stop-opacity="0"/><stop offset="0.58830" stop-color="#f00" stop-opacity="0"/><stop offset="0.59445" stop-color="#f00" stop-opacity="0.707"/><stop offset="0.60060" stop-color="#f00" stop-opacity="1.000"/><stop offset="0.60675" stop-color="#f00" stop-opacity="0.707"/><stop offset="0.61290" stop-color="#f00" stop-opacity="0"/><stop offset="0.61290" stop-color="#00f" stop-opacity="0"/><stop offset="0.61905" stop-color="#00f" stop-opacity="0.707"/><stop offset="0.62520" stop-color="#00f" stop-opacity="1.000"/><stop offset="0.63135" stop-color="#00f" stop-opacity="0.707"/><stop offset="0.63751" stop-color="#00f" stop-opacity="0"/><stop offset="0.63751" stop-color="#f00" stop-opacity="0"/><stop offset="0.64366" stop-color="#f00" stop-opacity="0.707"/><stop offset="0.64981" stop-color="#f00" stop-opacity="1.000"/><stop offset="0.65596" stop-color="#f00" stop-opacity="0.707"/><stop offset="0.66211" stop-color="#f00" stop-opacity="0"/><stop offset="0.66211" stop-color="#00f" stop-opacity="0"/><stop offset="0.66826" stop-color="#00f" stop-opacity="0.707"/><stop offset="0.67441" stop-color="#00f" stop-opacity="1.000"/><stop offset="0.68056" stop-color="#00f" stop-opacity="0.707"/><stop offset="0.68671" stop-color="#00f" stop-opacity="0"/><stop offset="0.68671" stop-color="#f00" stop-opacity="0"/><stop offset="0.69286" stop-color="#f00" stop-opacity="0.707"/><stop offset="0.69901" stop-color="#f00" stop-opacity="1.000"/><stop offset="0.70517" stop-color="#f00" stop-opacity="0.707"/><stop offset="0.71132" stop-color="#f00" stop-opacity="0"/><stop offset="0.71132" stop-color="#00f" stop-opacity="0"/><stop offset="0.71747" stop-color="#00f" stop-opacity="0.707"/><stop offset="0.72362" stop-color="#00f" stop-opacity="1.000"/><stop offset="0.72977" stop-color="#00f" stop-opacity="0.707"/><stop offset="0.73592" stop-color="#00f" stop-opacity="0"/><stop offset="0.73592" stop-color="#f00" stop-opacity="0"/><stop offset="0.74207" stop-color="#f00" stop-opacity="0.707"/><stop offset="0.74822" stop-color="#f00" stop-opacity="1.000"/><stop offset="0.75437" stop-color="#f00" stop-opacity="0.707"/><stop offset="0.76052" stop-color="#f00" stop-opacity="0"/><stop offset="0.76052" stop-color="#00f" stop-opacity="0"/><stop offset="0.76668" stop-color="#00f" stop-opacity="0.707"/><stop offset="0.77283" stop-color="#00f" stop-opacity="1.000"/><stop offset="0.77898" stop-color="#00f" stop-opacity="0.707"/><stop offset="0.78513" stop-color="#00f" stop-opacity="0"/><stop offset="0.78513" stop-color="#f00" stop-opacity="0"/><stop offset="0.79128" stop-color="#f00" stop-opacity="0.707"/><stop offset="0.79743" stop-color="#f00" stop-opacity="1.000"/><stop offset="0.80358" stop-color="#f00" stop-opacity="0.707"/><stop offset="0.80973" stop-color="#f00" stop-opacity="0"/><stop offset="0.80973" stop-color="#00f" stop-opacity="0"/><stop offset="0.81588" stop-color="#00f" stop-opacity="0.707"/><stop offset="0.82203" stop-color="#00f" stop-opacity="1.000"/><stop offset="0.82819" stop-color="#00f" stop-opacity="0.707"/><stop offset="0.83434" stop-color="#00f" stop-opacity="0"/><stop offset="0.83434" stop-color="#f00" stop-opacity="0"/><stop offset="0.84049" stop-color="#f00" stop-opacity="0.707"/><stop offset="0.84664" stop-color="#f00" stop-opacity="1.000"/><stop offset="0.85279" stop-color="#f00" stop-opacity="0.707"/><stop offset="0.85894" stop-color="#f00" stop-opacity="0"/><stop offset="0.85894" stop-color="#00f" stop-opacity="0"/><stop offset="0.86509" stop-color="#00f" stop-opacity="0.707"/><stop offset="0.87124" stop-color="#00f" stop-opacity="1.000"/><stop offset="0.87739" stop-color="#00f" stop-opacity="0.707"/><stop offset="0.88354" stop-color="#00f" stop-opacity="0"/><stop offset="0.88354" stop-color="#f00" stop-opacity="0"/><stop offset="0.88969" stop-color="#f00" stop-opacity="0.707"/><stop offset="0.89585" stop-color="#f00" stop-opacity="1.000"/><stop offset="0.90200" stop-color="#f00" stop-opacity="0.707"/><stop offset="0.90815" stop-color="#f00" stop-opacity="0"/><stop offset="0.90815" stop-color="#00f" stop-opacity="0"/><stop offset="0.91430" stop-color="#00f" stop-opacity="0.707"/><stop offset="0.92045" stop-color="#00f" stop-opacity="1.000"/><stop offset="0.92660" stop-color="#00f" stop-opacity="0.707"/><stop offset="0.93275" stop-color="#00f" stop-opacity="0"/><stop offset="0.93275" stop-color="#f00" stop-opacity="0"/><stop offset="0.93890" stop-color="#f00" stop-opacity="0.707"/><stop offset="0.94505" stop-color="#f00" stop-opacity="1.000"/><stop offset="0.95120" stop-color="#f00" stop-opacity="0.707"/><stop offset="0.95736" stop-color="#f00" stop-opacity="0"/><stop offset="0.95736" stop-color="#00f" stop-opacity="0"/><stop offset="0.96351" stop-color="#00f" stop-opacity="0.707"/><stop offset="0.96966" stop-color="#00f" stop-opacity="1.000"/><stop offset="0.97581" stop-color="#00f" stop-opacity="0.707"/><stop offset="0.98196" stop-color="#00f" stop-opacity="0"/><stop offset="0.98196" stop-color="#f00" stop-opacity="0"/><stop offset="0.98811" stop-color="#f00" stop-opacity="0.707"/><stop offset="0.99426" stop-color="#f00" stop-opacity="1.000"/></linearGradient><linearGradient class="w" id="m1_0" gradientUnits="userSpaceOnUse" x1="686.3" x2="1076.7"><stop offset="0.056" stop-opacity="0.00"/><stop offset="0.111" stop-opacity="0.01"/><stop offset="0.167" stop-opacity="0.03"/><stop offset="0.222" stop-opacity="0.07"/><stop offset="0.278" stop-opacity="0.15"/><stop offset="0.333" stop-opacity="0.27"/><stop offset="0.389" stop-opacity="0.39"/><stop offset="0.444" stop-opacity="0.47"/><stop offset="0.500" stop-opacity="0.47"/><stop offset="0.556" stop-opacity="0.42"/><stop offset="0.611" stop-opacity="0.34"/><stop offset="0.667" stop-opacity="0.25"/><stop offset="0.722" stop-opacity="0.17"/><stop offset="0.778" stop-opacity="0.11"/><stop offset="0.833" stop-opacity="0.06"/><stop offset="0.889" stop-opacity="0.03"/><stop offset="0.944" stop-opacity="0.01"/><stop offset="1.000" stop-opacity="0.01"/></linearGradient><linearGradient class="w" id="m1_1" gradientUnits="userSpaceOnUse" x1="686.3" x2="1076.7"><stop offset="0.056" stop-opacity="0.00"/><stop offset="0.111" stop-opacity="0.01"/><stop offset="0.167" stop-opacity="0.02"/><stop offset="0.222" stop-opacity="0.07"/><stop offset="0.278" stop-opacity="0.15"/><stop offset="0.333" stop-opacity="0.26"/><stop offset="0.389" stop-opacity="0.39"/><stop offset="0.444" stop-opacity="0.47"/><stop offset="0.500" stop-opacity="0.47"/><stop offset="0.556" stop-opacity="0.42"/><stop offset="0.611" stop-opacity="0.34"/><stop offset="0.667" stop-opacity="0.26"/><stop offset="0.722" stop-opacity="0.17"/><stop offset="0.778" stop-opacity="0.11"/><stop offset="0.833" stop-opacity="0.06"/><stop offset="0.889" stop-opacity="0.03"/><stop offset="0.944" stop-opacity="0.01"/><stop offset="1.000" stop-opacity="0.01"/></linearGradient><linearGradient class="w" id="m1_2" gradientUnits="userSpaceOnUse" x1="686.3" x2="1076.7"><stop offset="0.056" stop-opacity="0.00"/><stop offset="0.111" stop-opacity="0.01"/><stop offset="0.167" stop-opacity="0.02"/><stop offset="0.222" stop-opacity="0.06"/><stop offset="0.278" stop-opacity="0.14"/><stop offset="0.333" stop-opacity="0.26"/><stop offset="0.389" stop-opacity="0.38"/><stop offset="0.444" stop-opacity="0.46"/><stop offset="0.500" stop-opacity="0.47"/><stop offset="0.556" stop-opacity="0.42"/><stop offset="0.611" stop-opacity="0.35"/><stop offset="0.667" stop-opacity="0.26"/><stop offset="0.722" stop-opacity="0.18"/><stop offset="0.778" stop-opacity="0.11"/><stop offset="0.833" stop-opacity="0.06"/><stop offset="0.889" stop-opacity="0.03"/><stop offset="0.944" stop-opacity="0.01"/><stop offset="1.000" stop-opacity="0.01"/></linearGradient><linearGradient class="w" id="m1_3" gradientUnits="userSpaceOnUse" x1="686.3" x2="1076.7"><stop offset="0.056" stop-opacity="0.00"/><stop offset="0.111" stop-opacity="0.01"/><stop offset="0.167" stop-opacity="0.02"/><stop offset="0.222" stop-opacity="0.06"/><stop offset="0.278" stop-opacity="0.13"/><stop offset="0.333" stop-opacity="0.25"/><stop offset="0.389" stop-opacity="0.38"/><stop offset="0.444" stop-opacity="0.46"/><stop offset="0.500" stop-opacity="0.47"/><stop offset="0.556" stop-opacity="0.43"/><stop offset="0.611" stop-opacity="0.35"/><stop offset="0.667" stop-opacity="0.26"/><stop offset="0.722" stop-opacity="0.18"/><stop offset="0.778" stop-opacity="0.11"/><stop offset="0.833" stop-opacity="0.06"/><stop offset="0.889" stop-opacity="0.03"/><stop offset="0.944" stop-opacity="0.01"/><stop offset="1.000" stop-opacity="0.01"/></linearGradient><linearGradient class="w" id="m1_4" gradientUnits="userSpaceOnUse" x1="686.3" x2="1076.7"><stop offset="0.111" stop-opacity="0.01"/><stop offset="0.167" stop-opacity="0.02"/><stop offset="0.222" stop-opacity="0.06"/><stop offset="0.278" stop-opacity="0.13"/><stop offset="0.333" stop-opacity="0.24"/><stop offset="0.389" stop-opacity="0.37"/><stop offset="0.444" stop-opacity="0.46"/><stop offset="0.500" stop-opacity="0.47"/><stop offset="0.556" stop-opacity="0.43"/><stop offset="0.611" stop-opacity="0.35"/><stop offset="0.667" stop-opacity="0.27"/><stop offset="0.722" stop-opacity="0.19"/><stop offset="0.778" stop-opacity="0.12"/><stop offset="0.833" stop-opacity="0.07"/><stop offset="0.889" stop-opacity="0.03"/><stop offset="0.944" stop-opacity="0.02"/><stop offset="1.000" stop-opacity="0.01"/></linearGradient><linearGradient class="w" id="m1_5" gradientUnits="userSpaceOnUse" x1="686.3" x2="1076.7"><stop offset="0.111" stop-opacity="0.01"/><stop offset="0.167" stop-opacity="0.02"/><stop offset="0.222" stop-opacity="0.05"/><stop offset="0.278" stop-opacity="0.12"/><stop offset="0.333" stop-opacity="0.24"/><stop offset="0.389" stop-opacity="0.36"/><stop offset="0.444" stop-opacity="0.46"/><stop offset="0.500" stop-opacity="0.47"/><stop offset="0.556" stop-opacity="0.43"/><stop offset="0.611" stop-opacity="0.36"/><stop offset="0.667" stop-opacity="0.27"/><stop offset="0.722" stop-opacity="0.19"/><stop offset="0.778" stop-opacity="0.12"/><stop offset="0.833" stop-opacity="0.07"/><stop offset="0.889" stop-opacity="0.03"/><stop offset="0.944" stop-opacity="0.02"/><stop offset="1.000" stop-opacity="0.01"/></linearGradient><linearGradient class="w" id="m1_6" gradientUnits="userSpaceOnUse" x1="686.3" x2="1076.7"><stop offset="0.111" stop-opacity="0.00"/><stop offset="0.167" stop-opacity="0.02"/><stop offset="0.222" stop-opacity="0.05"/><stop offset="0.278" stop-opacity="0.12"/><stop offset="0.333" stop-opacity="0.23"/><stop offset="0.389" stop-opacity="0.36"/><stop offset="0.444" stop-opacity="0.46"/><stop offset="0.500" stop-opacity="0.47"/><stop offset="0.556" stop-opacity="0.43"/><stop offset="0.611" stop-opacity="0.36"/><stop offset="0.667" stop-opacity="0.28"/><stop offset="0.722" stop-opacity="0.20"/><stop offset="0.778" stop-opacity="0.12"/><stop offset="0.833" stop-opacity="0.07"/><stop offset="0.889" stop-opacity="0.04"/><stop offset="0.944" stop-opacity="0.02"/><stop offset="1.000" stop-opacity="0.01"/></linearGradient><linearGradient class="w" id="m1_7" gradientUnits="userSpaceOnUse" x1="686.3" x2="1076.7"><stop offset="0.111" stop-opacity="0.00"/><stop offset="0.167" stop-opacity="0.02"/><stop offset="0.222" stop-opacity="0.05"/><stop offset="0.278" stop-opacity="0.12"/><stop offset="0.333" stop-opacity="0.22"/><stop offset="0.389" stop-opacity="0.35"/><stop offset="0.444" stop-opacity="0.45"/><stop offset="0.500" stop-opacity="0.47"/><stop offset="0.556" stop-opacity="0.44"/><stop offset="0.611" stop-opacity="0.37"/><stop offset="0.667" stop-opacity="0.29"/><stop offset="0.722" stop-opacity="0.20"/><stop offset="0.778" stop-opacity="0.13"/><stop offset="0.833" stop-opacity="0.07"/><stop offset="0.889" stop-opacity="0.04"/><stop offset="0.944" stop-opacity="0.02"/><stop offset="1.000" stop-opacity="0.01"/></linearGradient><linearGradient class="w" id="m1_8" gradientUnits="userSpaceOnUse" x1="686.3" x2="1076.7"><stop offset="0.111" stop-opacity="0.00"/><stop offset="0.167" stop-opacity="0.02"/><stop offset="0.222" stop-opacity="0.05"/><stop offset="0.278" stop-opacity="0.11"/><stop offset="0.333" stop-opacity="0.22"/><stop offset="0.389" stop-opacity="0.35"/><stop offset="0.444" stop-opacity="0.45"/><stop offset="0.500" stop-opacity="0.47"/><stop offset="0.556" stop-opacity="0.44"/><stop offset="0.611" stop-opacity="0.38"/><stop offset="0.667" stop-opacity="0.30"/><stop offset="0.722" stop-opacity="0.21"/><stop offset="0.778" stop-opacity="0.13"/><stop offset="0.833" stop-opacity="0.08"/><stop offset="0.889" stop-opacity="0.04"/><stop offset="0.944" stop-opacity="0.02"/><stop offset="1.000" stop-opacity="0.01"/></linearGradient><linearGradient class="w" id="m1_9" gradientUnits="userSpaceOnUse" x1="686.3" x2="1076.7"><stop offset="0.111" stop-opacity="0.00"/><stop offset="0.167" stop-opacity="0.01"/><stop offset="0.222" stop-opacity="0.04"/><stop offset="0.278" stop-opacity="0.11"/><stop offset="0.333" stop-opacity="0.22"/><stop offset="0.389" stop-opacity="0.35"/><stop offset="0.444" stop-opacity="0.45"/><stop offset="0.500" stop-opacity="0.47"/><stop offset="0.556" stop-opacity="0.44"/><stop offset="0.611" stop-opacity="0.38"/><stop offset="0.667" stop-opacity="0.30"/><stop offset="0.722" stop-opacity="0.22"/><stop offset="0.778" stop-opacity="0.14"/><stop offset="0.833" stop-opacity="0.08"/><stop offset="0.889" stop-opacity="0.04"/><stop offset="0.944" stop-opacity="0.02"/><stop offset="1.000" stop-opacity="0.01"/></linearGradient><linearGradient class="w" id="m1_10" gradientUnits="userSpaceOnUse" x1="686.3" x2="1076.7"><stop offset="0.111" stop-opacity="0.00"/><stop offset="0.167" stop-opacity="0.01"/><stop offset="0.222" stop-opacity="0.04"/><stop offset="0.278" stop-opacity="0.10"/><stop offset="0.333" stop-opacity="0.21"/><stop offset="0.389" stop-opacity="0.34"/><stop offset="0.444" stop-opacity="0.45"/><stop offset="0.500" stop-opacity="0.48"/><stop offset="0.556" stop-opacity="0.45"/><stop offset="0.611" stop-opacity="0.39"/><stop offset="0.667" stop-opacity="0.32"/><stop offset="0.722" stop-opacity="0.23"/><stop offset="0.778" stop-opacity="0.15"/><stop offset="0.833" stop-opacity="0.08"/><stop offset="0.889" stop-opacity="0.04"/><stop offset="0.944" stop-opacity="0.02"/><stop offset="1.000" stop-opacity="0.01"/></linearGradient><linearGradient class="w" id="m1_11" gradientUnits="userSpaceOnUse" x1="686.3" x2="1076.7"><stop offset="0.111" stop-opacity="0.00"/><stop offset="0.167" stop-opacity="0.01"/><stop offset="0.222" stop-opacity="0.04"/><stop offset="0.278" stop-opacity="0.10"/><stop offset="0.333" stop-opacity="0.21"/><stop offset="0.389" stop-opacity="0.34"/><stop offset="0.444" stop-opacity="0.45"/><stop offset="0.500" stop-opacity="0.48"/><stop offset="0.556" stop-opacity="0.46"/><stop offset="0.611" stop-opacity="0.41"/><stop offset="0.667" stop-opacity="0.33"/><stop offset="0.722" stop-opacity="0.24"/><stop offset="0.778" stop-opacity="0.15"/><stop offset="0.833" stop-opacity="0.09"/><stop offset="0.889" stop-opacity="0.04"/><stop offset="0.944" stop-opacity="0.02"/><stop offset="1.000" stop-opacity="0.01"/></linearGradient><linearGradient class="w" id="m1_12" gradientUnits="userSpaceOnUse" x1="686.3" x2="1076.7"><stop offset="0.111" stop-opacity="0.00"/><stop offset="0.167" stop-opacity="0.01"/><stop offset="0.222" stop-opacity="0.04"/><stop offset="0.278" stop-opacity="0.10"/><stop offset="0.333" stop-opacity="0.20"/><stop offset="0.389" stop-opacity="0.33"/><stop offset="0.444" stop-opacity="0.44"/><stop offset="0.500" stop-opacity="0.47"/><stop offset="0.556" stop-opacity="0.46"/><stop offset="0.611" stop-opacity="0.41"/><stop offset="0.667" stop-opacity="0.34"/><stop offset="0.722" stop-opacity="0.25"/><stop offset="0.778" stop-opacity="0.16"/><stop offset="0.833" stop-opacity="0.09"/><stop offset="0.889" stop-opacity="0.04"/><stop offset="0.944" stop-opacity="0.02"/><stop offset="1.000" stop-opacity="0.01"/></linearGradient><linearGradient class="w" id="m1_13" gradientUnits="userSpaceOnUse" x1="686.3" x2="1076.7"><stop offset="0.111" stop-opacity="0.00"/><stop offset="0.167" stop-opacity="0.01"/><stop offset="0.222" stop-opacity="0.03"/><stop offset="0.278" stop-opacity="0.09"/><stop offset="0.333" stop-opacity="0.18"/><stop offset="0.389" stop-opacity="0.29"/><stop offset="0.444" stop-opacity="0.39"/><stop offset="0.500" stop-opacity="0.42"/><stop offset="0.556" stop-opacity="0.42"/><stop offset="0.611" stop-opacity="0.39"/><stop offset="0.667" stop-opacity="0.33"/><stop offset="0.722" stop-opacity="0.24"/><stop offset="0.778" stop-opacity="0.15"/><stop offset="0.833" stop-opacity="0.09"/><stop offset="0.889" stop-opacity="0.04"/><stop offset="0.944" stop-opacity="0.02"/><stop offset="1.000" stop-opacity="0.01"/></linearGradient><linearGradient class="w" id="m1_14" gradientUnits="userSpaceOnUse" x1="686.3" x2="1076.7"><stop offset="0.111" stop-opacity="0.00"/><stop offset="0.167" stop-opacity="0.01"/><stop offset="0.222" stop-opacity="0.03"/><stop offset="0.278" stop-opacity="0.07"/><stop offset="0.333" stop-opacity="0.14"/><stop offset="0.389" stop-opacity="0.24"/><stop offset="0.444" stop-opacity="0.32"/><stop offset="0.500" stop-opacity="0.35"/><stop offset="0.556" stop-opacity="0.36"/><stop offset="0.611" stop-opacity="0.35"/><stop offset="0.667" stop-opacity="0.30"/><stop offset="0.722" stop-opacity="0.22"/><stop offset="0.778" stop-opacity="0.14"/><stop offset="0.833" stop-opacity="0.08"/><stop offset="0.889" stop-opacity="0.04"/><stop offset="0.944" stop-opacity="0.02"/><stop offset="1.000" stop-opacity="0.01"/></linearGradient><linearGradient class="w" id="m1_15" gradientUnits="userSpaceOnUse" x1="686.3" x2="1076.7"><stop offset="0.111" stop-opacity="0.00"/><stop offset="0.167" stop-opacity="0.01"/><stop offset="0.222" stop-opacity="0.02"/><stop offset="0.278" stop-opacity="0.05"/><stop offset="0.333" stop-opacity="0.11"/><stop offset="0.389" stop-opacity="0.18"/><stop offset="0.444" stop-opacity="0.24"/><stop offset="0.500" stop-opacity="0.26"/><stop offset="0.556" stop-opacity="0.30"/><stop offset="0.611" stop-opacity="0.30"/><stop offset="0.667" stop-opacity="0.27"/><stop offset="0.722" stop-opacity="0.20"/><stop offset="0.778" stop-opacity="0.13"/><stop offset="0.833" stop-opacity="0.07"/><stop offset="0.889" stop-opacity="0.03"/><stop offset="0.944" stop-opacity="0.01"/><stop offset="1.000" stop-opacity="0.00"/></linearGradient><linearGradient class="w" id="m1_16" gradientUnits="userSpaceOnUse" x1="686.3" x2="1076.7"><stop offset="0.167" stop-opacity="0.01"/><stop offset="0.222" stop-opacity="0.02"/><stop offset="0.278" stop-opacity="0.04"/><stop offset="0.333" stop-opacity="0.07"/><stop offset="0.389" stop-opacity="0.12"/><stop offset="0.444" stop-opacity="0.17"/><stop offset="0.500" stop-opacity="0.19"/><stop offset="0.556" stop-opacity="0.24"/><stop offset="0.611" stop-opacity="0.26"/><stop offset="0.667" stop-opacity="0.24"/><stop offset="0.722" stop-opacity="0.18"/><stop offset="0.778" stop-opacity="0.12"/><stop offset="0.833" stop-opacity="0.06"/><stop offset="0.889" stop-opacity="0.03"/><stop offset="0.944" stop-opacity="0.01"/><stop offset="1.000" stop-opacity="0.00"/></linearGradient><linearGradient class="w" id="m1_17" gradientUnits="userSpaceOnUse" x1="686.3" x2="1076.7"><stop offset="0.167" stop-opacity="0.00"/><stop offset="0.222" stop-opacity="0.01"/><stop offset="0.278" stop-opacity="0.03"/><stop offset="0.333" stop-opacity="0.05"/><stop offset="0.389" stop-opacity="0.09"/><stop offset="0.444" stop-opacity="0.12"/><stop offset="0.500" stop-opacity="0.14"/><stop offset="0.556" stop-opacity="0.20"/><stop offset="0.611" stop-opacity="0.24"/><stop offset="0.667" stop-opacity="0.23"/><stop offset="0.722" stop-opacity="0.17"/><stop offset="0.778" stop-opacity="0.11"/><stop offset="0.833" stop-opacity="0.06"/><stop offset="0.889" stop-opacity="0.02"/><stop offset="0.944" stop-opacity="0.01"/><stop offset="1.000" stop-opacity="0.00"/></linearGradient><linearGradient class="w" id="m1_18" gradientUnits="userSpaceOnUse" x1="686.3" x2="1076.7"><stop offset="0.167" stop-opacity="0.00"/><stop offset="0.222" stop-opacity="0.01"/><stop offset="0.278" stop-opacity="0.03"/><stop offset="0.333" stop-opacity="0.05"/><stop offset="0.389" stop-opacity="0.08"/><stop offset="0.444" stop-opacity="0.11"/><stop offset="0.500" stop-opacity="0.13"/><stop offset="0.556" stop-opacity="0.21"/><stop offset="0.611" stop-opacity="0.25"/><stop offset="0.667" stop-opacity="0.24"/><stop offset="0.722" stop-opacity="0.18"/><stop offset="0.778" stop-opacity="0.11"/><stop offset="0.833" stop-opacity="0.05"/><stop offset="0.889" stop-opacity="0.02"/><stop offset="0.944" stop-opacity="0.01"/><stop offset="1.000" stop-opacity="0.00"/></linearGradient><linearGradient class="w" id="m1_19" gradientUnits="userSpaceOnUse" x1="686.3" x2="1076.7"><stop offset="0.111" stop-opacity="0.00"/><stop offset="0.167" stop-opacity="0.01"/><stop offset="0.222" stop-opacity="0.02"/><stop offset="0.278" stop-opacity="0.04"/><stop offset="0.333" stop-opacity="0.07"/><stop offset="0.389" stop-opacity="0.11"/><stop offset="0.444" stop-opacity="0.15"/><stop offset="0.500" stop-opacity="0.17"/><stop offset="0.556" stop-opacity="0.26"/><stop offset="0.611" stop-opacity="0.30"/><stop offset="0.667" stop-opacity="0.27"/><stop offset="0.722" stop-opacity="0.20"/><stop offset="0.778" stop-opacity="0.12"/><stop offset="0.833" stop-opacity="0.06"/><stop offset="0.889" stop-opacity="0.02"/><stop offset="0.944" stop-opacity="0.01"/><stop offset="1.000" stop-opacity="0.00"/></linearGradient><linearGradient class="w" id="m1_20" gradientUnits="userSpaceOnUse" x1="686.3" x2="1076.7"><stop offset="0.111" stop-opacity="0.00"/><stop offset="0.167" stop-opacity="0.01"/><stop offset="0.222" stop-opacity="0.02"/><stop offset="0.278" stop-opacity="0.05"/><stop offset="0.333" stop-opacity="0.09"/><stop offset="0.389" stop-opacity="0.15"/><stop offset="0.444" stop-opacity="0.20"/><stop offset="0.500" stop-opacity="0.24"/><stop offset="0.556" stop-opacity="0.33"/><stop offset="0.611" stop-opacity="0.36"/><stop offset="0.667" stop-opacity="0.31"/><stop offset="0.722" stop-opacity="0.22"/><stop offset="0.778" stop-opacity="0.13"/><stop offset="0.833" stop-opacity="0.06"/><stop offset="0.889" stop-opacity="0.03"/><stop offset="0.944" stop-opacity="0.01"/><stop offset="1.000" stop-opacity="0.00"/></linearGradient><linearGradient class="w" id="m1_21" gradientUnits="userSpaceOnUse" x1="686.3" x2="1076.7"><stop offset="0.111" stop-opacity="0.00"/><stop offset="0.167" stop-opacity="0.01"/><stop offset="0.222" stop-opacity="0.03"/><stop offset="0.278" stop-opacity="0.06"/><stop offset="0.333" stop-opacity="0.12"/><stop offset="0.389" stop-opacity="0.19"/><stop offset="0.444" stop-opacity="0.26"/><stop offset="0.500" stop-opacity="0.31"/><stop offset="0.556" stop-opacity="0.40"/><stop offset="0.611" stop-opacity="0.42"/><stop offset="0.667" stop-opacity="0.35"/><stop offset="0.722" stop-opacity="0.24"/><stop offset="0.778" stop-opacity="0.14"/><stop offset="0.833" stop-opacity="0.07"/><stop offset="0.889" stop-opacity="0.03"/><stop offset="0.944" stop-opacity="0.01"/><stop offset="1.000" stop-opacity="0.00"/></linearGradient><linearGradient class="w" id="m1_22" gradientUnits="userSpaceOnUse" x1="686.3" x2="1076.7"><stop offset="0.111" stop-opacity="0.01"/><stop offset="0.167" stop-opacity="0.01"/><stop offset="0.222" stop-opacity="0.04"/><stop offset="0.278" stop-opacity="0.08"/><stop offset="0.333" stop-opacity="0.15"/><stop offset="0.389" stop-opacity="0.25"/><stop offset="0.444" stop-opacity="0.34"/><stop offset="0.500" stop-opacity="0.39"/><stop offset="0.556" stop-opacity="0.48"/><stop offset="0.611" stop-opacity="0.48"/><stop offset="0.667" stop-opacity="0.39"/><stop offset="0.722" stop-opacity="0.26"/><stop offset="0.778" stop-opacity="0.15"/><stop offset="0.833" stop-opacity="0.07"/><stop offset="0.889" stop-opacity="0.03"/><stop offset="0.944" stop-opacity="0.01"/><stop offset="1.000" stop-opacity="0.00"/></linearGradient><linearGradient class="w" id="m1_23" gradientUnits="userSpaceOnUse" x1="686.3" x2="1076.7"><stop offset="0.056" stop-opacity="0.00"/><stop offset="0.111" stop-opacity="0.01"/><stop offset="0.167" stop-opacity="0.02"/><stop offset="0.222" stop-opacity="0.05"/><stop offset="0.278" stop-opacity="0.10"/><stop offset="0.333" stop-opacity="0.19"/><stop offset="0.389" stop-opacity="0.30"/><stop offset="0.444" stop-opacity="0.41"/><stop offset="0.500" stop-opacity="0.48"/><stop offset="0.556" stop-opacity="0.57"/><stop offset="0.611" stop-opacity="0.54"/><stop offset="0.667" stop-opacity="0.43"/><stop offset="0.722" stop-opacity="0.28"/><stop offset="0.778" stop-opacity="0.16"/><stop offset="0.833" stop-opacity="0.08"/><stop offset="0.889" stop-opacity="0.03"/><stop offset="0.944" stop-opacity="0.01"/><stop offset="1.000" stop-opacity="0.00"/></linearGradient><linearGradient class="w" id="m1_24" gradientUnits="userSpaceOnUse" x1="686.3" x2="1076.7"><stop offset="0.056" stop-opacity="0.00"/><stop offset="0.111" stop-opacity="0.01"/><stop offset="0.167" stop-opacity="0.02"/><stop offset="0.222" stop-opacity="0.06"/><stop offset="0.278" stop-opacity="0.12"/><stop offset="0.333" stop-opacity="0.23"/><stop offset="0.389" stop-opacity="0.36"/><stop offset="0.444" stop-opacity="0.50"/><stop offset="0.500" stop-opacity="0.58"/><stop offset="0.556" stop-opacity="0.65"/><stop offset="0.611" stop-opacity="0.60"/><stop offset="0.667" stop-opacity="0.47"/><stop offset="0.722" stop-opacity="0.30"/><stop offset="0.778" stop-opacity="0.17"/><stop offset="0.833" stop-opacity="0.08"/><stop offset="0.889" stop-opacity="0.03"/><stop offset="0.944" stop-opacity="0.01"/><stop offset="1.000" stop-opacity="0.00"/></linearGradient><linearGradient class="w" id="m1_25" gradientUnits="userSpaceOnUse" x1="686.3" x2="1076.7"><stop offset="0.056" stop-opacity="0.00"/><stop offset="0.111" stop-opacity="0.01"/><stop offset="0.167" stop-opacity="0.03"/><stop offset="0.222" stop-opacity="0.06"/><stop offset="0.278" stop-opacity="0.14"/><stop offset="0.333" stop-opacity="0.26"/><stop offset="0.389" stop-opacity="0.42"/><stop offset="0.444" stop-opacity="0.58"/><stop offset="0.500" stop-opacity="0.67"/><stop offset="0.556" stop-opacity="0.73"/><stop offset="0.611" stop-opacity="0.66"/><stop offset="0.667" stop-opacity="0.50"/><stop offset="0.722" stop-opacity="0.32"/><stop offset="0.778" stop-opacity="0.18"/><stop offset="0.833" stop-opacity="0.08"/><stop offset="0.889" stop-opacity="0.03"/><stop offset="0.944" stop-opacity="0.01"/><stop offset="1.000" stop-opacity="0.00"/></linearGradient><linearGradient class="w" id="m1_26" gradientUnits="userSpaceOnUse" x1="686.3" x2="1076.7"><stop offset="0.056" stop-opacity="0.00"/><stop offset="0.111" stop-opacity="0.01"/><stop offset="0.167" stop-opacity="0.03"/><stop offset="0.222" stop-opacity="0.07"/><stop offset="0.278" stop-opacity="0.16"/><stop offset="0.333" stop-opacity="0.30"/><stop offset="0.389" stop-opacity="0.47"/><stop offset="0.444" stop-opacity="0.65"/><stop offset="0.500" stop-opacity="0.76"/><stop offset="0.556" stop-opacity="0.79"/><stop offset="0.611" stop-opacity="0.70"/><stop offset="0.667" stop-opacity="0.53"/><stop offset="0.722" stop-opacity="0.34"/><stop offset="0.778" stop-opacity="0.18"/><stop offset="0.833" stop-opacity="0.08"/><stop offset="0.889" stop-opacity="0.03"/><stop offset="0.944" stop-opacity="0.01"/><stop offset="1.000" stop-opacity="0.00"/></linearGradient><linearGradient class="w" id="m1_27" gradientUnits="userSpaceOnUse" x1="686.3" x2="1076.7"><stop offset="0.056" stop-opacity="0.00"/><stop offset="0.111" stop-opacity="0.01"/><stop offset="0.167" stop-opacity="0.03"/><stop offset="0.222" stop-opacity="0.08"/><stop offset="0.278" stop-opacity="0.17"/><stop offset="0.333" stop-opacity="0.32"/><stop offset="0.389" stop-opacity="0.52"/><stop offset="0.444" stop-opacity="0.71"/><stop offset="0.500" stop-opacity="0.83"/><stop offset="0.556" stop-opacity="0.85"/><stop offset="0.611" stop-opacity="0.74"/><stop offset="0.667" stop-opacity="0.55"/><stop offset="0.722" stop-opacity="0.35"/><stop offset="0.778" stop-opacity="0.19"/><stop offset="0.833" stop-opacity="0.09"/><stop offset="0.889" stop-opacity="0.03"/><stop offset="0.944" stop-opacity="0.01"/><stop offset="1.000" stop-opacity="0.00"/></linearGradient><linearGradient class="w" id="m1_28" gradientUnits="userSpaceOnUse" x1="686.3" x2="1076.7"><stop offset="0.056" stop-opacity="0.00"/><stop offset="0.111" stop-opacity="0.01"/><stop offset="0.167" stop-opacity="0.03"/><stop offset="0.222" stop-opacity="0.08"/><stop offset="0.278" stop-opacity="0.18"/><stop offset="0.333" stop-opacity="0.34"/><stop offset="0.389" stop-opacity="0.55"/><stop offset="0.444" stop-opacity="0.75"/><stop offset="0.500" stop-opacity="0.88"/><stop offset="0.556" stop-opacity="0.89"/><stop offset="0.611" stop-opacity="0.76"/><stop offset="0.667" stop-opacity="0.56"/><stop offset="0.722" stop-opacity="0.35"/><stop offset="0.778" stop-opacity="0.19"/><stop offset="0.833" stop-opacity="0.09"/><stop offset="0.889" stop-opacity="0.03"/><stop offset="0.944" stop-opacity="0.01"/><stop offset="1.000" stop-opacity="0.00"/></linearGradient><linearGradient class="w" id="m1_29" gradientUnits="userSpaceOnUse" x1="686.3" x2="1076.7"><stop offset="0.056" stop-opacity="0.00"/><stop offset="0.111" stop-opacity="0.01"/><stop offset="0.167" stop-opacity="0.03"/><stop offset="0.222" stop-opacity="0.09"/><stop offset="0.278" stop-opacity="0.19"/><stop offset="0.333" stop-opacity="0.35"/><stop offset="0.389" stop-opacity="0.57"/><stop offset="0.444" stop-opacity="0.77"/><stop offset="0.500" stop-opacity="0.90"/><stop offset="0.556" stop-opacity="0.91"/><stop offset="0.611" stop-opacity="0.78"/><stop offset="0.667" stop-opacity="0.57"/><stop offset="0.722" stop-opacity="0.36"/><stop offset="0.778" stop-opacity="0.19"/><stop offset="0.833" stop-opacity="0.09"/><stop offset="0.889" stop-opacity="0.03"/><stop offset="0.944" stop-opacity="0.01"/><stop offset="1.000" stop-opacity="0.00"/></linearGradient><linearGradient class="w" id="m1_30" gradientUnits="userSpaceOnUse" x1="686.3" x2="1076.7"><stop offset="0.056" stop-opacity="0.00"/><stop offset="0.111" stop-opacity="0.01"/><stop offset="0.167" stop-opacity="0.03"/><stop offset="0.222" stop-opacity="0.09"/><stop offset="0.278" stop-opacity="0.19"/><stop offset="0.333" stop-opacity="0.35"/><stop offset="0.389" stop-opacity="0.56"/><stop offset="0.444" stop-opacity="0.77"/><stop offset="0.500" stop-opacity="0.90"/><stop offset="0.556" stop-opacity="0.90"/><stop offset="0.611" stop-opacity="0.78"/><stop offset="0.667" stop-opacity="0.57"/><stop offset="0.722" stop-opacity="0.36"/><stop offset="0.778" stop-opacity="0.19"/><stop offset="0.833" stop-opacity="0.09"/><stop offset="0.889" stop-opacity="0.03"/><stop offset="0.944" stop-opacity="0.01"/><stop offset="1.000" stop-opacity="0.00"/></linearGradient><linearGradient class="w" id="m1_31" gradientUnits="userSpaceOnUse" x1="686.3" x2="1076.7"><stop offset="0.056" stop-opacity="0.00"/><stop offset="0.111" stop-opacity="0.01"/><stop offset="0.167" stop-opacity="0.03"/><stop offset="0.222" stop-opacity="0.08"/><stop offset="0.278" stop-opacity="0.18"/><stop offset="0.333" stop-opacity="0.34"/><stop offset="0.389" stop-opacity="0.55"/><stop offset="0.444" stop-opacity="0.75"/><stop offset="0.500" stop-opacity="0.87"/><stop offset="0.556" stop-opacity="0.88"/><stop offset="0.611" stop-opacity="0.76"/><stop offset="0.667" stop-opacity="0.56"/><stop offset="0.722" stop-opacity="0.35"/><stop offset="0.778" stop-opacity="0.19"/><stop offset="0.833" stop-opacity="0.09"/><stop offset="0.889" stop-opacity="0.03"/><stop offset="0.944" stop-opacity="0.01"/><stop offset="1.000" stop-opacity="0.00"/></linearGradient><linearGradient class="w" id="m1_32" gradientUnits="userSpaceOnUse" x1="686.3" x2="1076.7"><stop offset="0.056" stop-opacity="0.00"/><stop offset="0.111" stop-opacity="0.01"/><stop offset="0.167" stop-opacity="0.03"/><stop offset="0.222" stop-opacity="0.08"/><stop offset="0.278" stop-opacity="0.17"/><stop offset="0.333" stop-opacity="0.32"/><stop offset="0.389" stop-opacity="0.51"/><stop offset="0.444" stop-opacity="0.70"/><stop offset="0.500" stop-opacity="0.82"/><stop offset="0.556" stop-opacity="0.84"/><stop offset="0.611" stop-opacity="0.73"/><stop offset="0.667" stop-opacity="0.55"/><stop offset="0.722" stop-opacity="0.35"/><stop offset="0.778" stop-opacity="0.19"/><stop offset="0.833" stop-opacity="0.09"/><stop offset="0.889" stop-opacity="0.03"/><stop offset="0.944" stop-opacity="0.01"/><stop offset="1.000" stop-opacity="0.00"/></linearGradient><linearGradient class="w" id="m1_33" gradientUnits="userSpaceOnUse" x1="686.3" x2="1076.7"><stop offset="0.056" stop-opacity="0.00"/><stop offset="0.111" stop-opacity="0.01"/><stop offset="0.167" stop-opacity="0.03"/><stop offset="0.222" stop-opacity="0.07"/><stop offset="0.278" stop-opacity="0.16"/><stop offset="0.333" stop-opacity="0.29"/><stop offset="0.389" stop-opacity="0.47"/><stop offset="0.444" stop-opacity="0.64"/><stop offset="0.500" stop-opacity="0.75"/><stop offset="0.556" stop-opacity="0.79"/><stop offset="0.611" stop-opacity="0.70"/><stop offset="0.667" stop-opacity="0.52"/><stop offset="0.722" stop-opacity="0.33"/><stop offset="0.778" stop-opacity="0.18"/><stop offset="0.833" stop-opacity="0.08"/><stop offset="0.889" stop-opacity="0.03"/><stop offset="0.944" stop-opacity="0.01"/><stop offset="1.000" stop-opacity="0.00"/></linearGradient><linearGradient class="w" id="m1_34" gradientUnits="userSpaceOnUse" x1="686.3" x2="1076.7"><stop offset="0.056" stop-opacity="0.00"/><stop offset="0.111" stop-opacity="0.01"/><stop offset="0.167" stop-opacity="0.03"/><stop offset="0.222" stop-opacity="0.06"/><stop offset="0.278" stop-opacity="0.14"/><stop offset="0.333" stop-opacity="0.26"/><stop offset="0.389" stop-opacity="0.41"/><stop offset="0.444" stop-opacity="0.57"/><stop offset="0.500" stop-opacity="0.66"/><stop offset="0.556" stop-opacity="0.72"/><stop offset="0.611" stop-opacity="0.65"/><stop offset="0.667" stop-opacity="0.49"/><stop offset="0.722" stop-opacity="0.32"/><stop offset="0.778" stop-opacity="0.18"/><stop offset="0.833" stop-opacity="0.08"/><stop offset="0.889" stop-opacity="0.03"/><stop offset="0.944" stop-opacity="0.01"/><stop offset="1.000" stop-opacity="0.00"/></linearGradient><linearGradient class="w" id="m1_35" gradientUnits="userSpaceOnUse" x1="686.3" x2="1076.7"><stop offset="0.056" stop-opacity="0.00"/><stop offset="0.111" stop-opacity="0.01"/><stop offset="0.167" stop-opacity="0.02"/><stop offset="0.222" stop-opacity="0.05"/><stop offset="0.278" stop-opacity="0.12"/><stop offset="0.333" stop-opacity="0.22"/><stop offset="0.389" stop-opacity="0.36"/><stop offset="0.444" stop-opacity="0.49"/><stop offset="0.500" stop-opacity="0.57"/><stop offset="0.556" stop-opacity="0.64"/><stop offset="0.611" stop-opacity="0.59"/><stop offset="0.667" stop-opacity="0.46"/><stop offset="0.722" stop-opacity="0.30"/><stop offset="0.778" stop-opacity="0.17"/><stop offset="0.833" stop-opacity="0.08"/><stop offset="0.889" stop-opacity="0.03"/><stop offset="0.944" stop-opacity="0.01"/><stop offset="1.000" stop-opacity="0.00"/></linearGradient><linearGradient class="w" id="m1_36" gradientUnits="userSpaceOnUse" x1="686.3" x2="1076.7"><stop offset="0.056" stop-opacity="0.00"/><stop offset="0.111" stop-opacity="0.01"/><stop offset="0.167" stop-opacity="0.02"/><stop offset="0.222" stop-opacity="0.05"/><stop offset="0.278" stop-opacity="0.10"/><stop offset="0.333" stop-opacity="0.19"/><stop offset="0.389" stop-opacity="0.30"/><stop offset="0.444" stop-opacity="0.40"/><stop offset="0.500" stop-opacity="0.47"/><stop offset="0.556" stop-opacity="0.56"/><stop offset="0.611" stop-opacity="0.53"/><stop offset="0.667" stop-opacity="0.42"/><stop offset="0.722" stop-opacity="0.28"/><stop offset="0.778" stop-opacity="0.16"/><stop offset="0.833" stop-opacity="0.08"/><stop offset="0.889" stop-opacity="0.03"/><stop offset="0.944" stop-opacity="0.01"/><stop offset="1.000" stop-opacity="0.00"/></linearGradient><linearGradient class="w" id="m1_37" gradientUnits="userSpaceOnUse" x1="686.3" x2="1076.7"><stop offset="0.111" stop-opacity="0.00"/><stop offset="0.167" stop-opacity="0.01"/><stop offset="0.222" stop-opacity="0.04"/><stop offset="0.278" stop-opacity="0.08"/><stop offset="0.333" stop-opacity="0.15"/><stop offset="0.389" stop-opacity="0.24"/><stop offset="0.444" stop-opacity="0.33"/><stop offset="0.500" stop-opacity="0.38"/><stop offset="0.556" stop-opacity="0.47"/><stop offset="0.611" stop-opacity="0.47"/><stop offset="0.667" stop-opacity="0.39"/><stop offset="0.722" stop-opacity="0.26"/><stop offset="0.778" stop-opacity="0.15"/><stop offset="0.833" stop-opacity="0.07"/><stop offset="0.889" stop-opacity="0.03"/><stop offset="0.944" stop-opacity="0.01"/><stop offset="1.000" stop-opacity="0.00"/></linearGradient><linearGradient class="w" id="m1_38" gradientUnits="userSpaceOnUse" x1="686.3" x2="1076.7"><stop offset="0.111" stop-opacity="0.00"/><stop offset="0.167" stop-opacity="0.01"/><stop offset="0.222" stop-opacity="0.03"/><stop offset="0.278" stop-opacity="0.06"/><stop offset="0.333" stop-opacity="0.12"/><stop offset="0.389" stop-opacity="0.19"/><stop offset="0.444" stop-opacity="0.26"/><stop offset="0.500" stop-opacity="0.30"/><stop offset="0.556" stop-opacity="0.39"/><stop offset="0.611" stop-opacity="0.41"/><stop offset="0.667" stop-opacity="0.34"/><stop offset="0.722" stop-opacity="0.24"/><stop offset="0.778" stop-opacity="0.14"/><stop offset="0.833" stop-opacity="0.07"/><stop offset="0.889" stop-opacity="0.03"/><stop offset="0.944" stop-opacity="0.01"/><stop offset="1.000" stop-opacity="0.00"/></linearGradient><linearGradient class="w" id="m1_39" gradientUnits="userSpaceOnUse" x1="686.3" x2="1076.7"><stop offset="0.111" stop-opacity="0.00"/><stop offset="0.167" stop-opacity="0.01"/><stop offset="0.222" stop-opacity="0.02"/><stop offset="0.278" stop-opacity="0.05"/><stop offset="0.333" stop-opacity="0.09"/><stop offset="0.389" stop-opacity="0.14"/><stop offset="0.444" stop-opacity="0.19"/><stop offset="0.500" stop-opacity="0.23"/><stop offset="0.556" stop-opacity="0.32"/><stop offset="0.611" stop-opacity="0.35"/><stop offset="0.667" stop-opacity="0.30"/><stop offset="0.722" stop-opacity="0.22"/><stop offset="0.778" stop-opacity="0.13"/><stop offset="0.833" stop-opacity="0.06"/><stop offset="0.889" stop-opacity="0.03"/><stop offset="0.944" stop-opacity="0.01"/><stop offset="1.000" stop-opacity="0.00"/></linearGradient><linearGradient class="w" id="m1_40" gradientUnits="userSpaceOnUse" x1="686.3" x2="1076.7"><stop offset="0.111" stop-opacity="0.00"/><stop offset="0.167" stop-opacity="0.01"/><stop offset="0.222" stop-opacity="0.02"/><stop offset="0.278" stop-opacity="0.04"/><stop offset="0.333" stop-opacity="0.07"/><stop offset="0.389" stop-opacity="0.10"/><stop offset="0.444" stop-opacity="0.14"/><stop offset="0.500" stop-opacity="0.17"/><stop offset="0.556" stop-opacity="0.26"/><stop offset="0.611" stop-opacity="0.29"/><stop offset="0.667" stop-opacity="0.27"/><stop offset="0.722" stop-opacity="0.19"/><stop offset="0.778" stop-opacity="0.12"/><stop offset="0.833" stop-opacity="0.06"/><stop offset="0.889" stop-opacity="0.02"/><stop offset="0.944" stop-opacity="0.01"/><stop offset="1.000" stop-opacity="0.00"/></linearGradient><linearGradient class="w" id="m1_41" gradientUnits="userSpaceOnUse" x1="686.3" x2="1076.7"><stop offset="0.167" stop-opacity="0.00"/><stop offset="0.222" stop-opacity="0.01"/><stop offset="0.278" stop-opacity="0.03"/><stop offset="0.333" stop-opacity="0.05"/><stop offset="0.389" stop-opacity="0.08"/><stop offset="0.444" stop-opacity="0.11"/><stop offset="0.500" stop-opacity="0.13"/><stop offset="0.556" stop-opacity="0.21"/><stop offset="0.611" stop-opacity="0.25"/><stop offset="0.667" stop-opacity="0.23"/><stop offset="0.722" stop-opacity="0.17"/><stop offset="0.778" stop-opacity="0.11"/><stop offset="0.833" stop-opacity="0.05"/><stop offset="0.889" stop-opacity="0.02"/><stop offset="0.944" stop-opacity="0.01"/><stop offset="1.000" stop-opacity="0.00"/></linearGradient><linearGradient class="w" id="m1_42" gradientUnits="userSpaceOnUse" x1="686.3" x2="1076.7"><stop offset="0.167" stop-opacity="0.00"/><stop offset="0.222" stop-opacity="0.01"/><stop offset="0.278" stop-opacity="0.03"/><stop offset="0.333" stop-opacity="0.06"/><stop offset="0.389" stop-opacity="0.09"/><stop offset="0.444" stop-opacity="0.12"/><stop offset="0.500" stop-opacity="0.14"/><stop offset="0.556" stop-opacity="0.21"/><stop offset="0.611" stop-opacity="0.24"/><stop offset="0.667" stop-opacity="0.23"/><stop offset="0.722" stop-opacity="0.17"/><stop offset="0.778" stop-opacity="0.11"/><stop offset="0.833" stop-opacity="0.06"/><stop offset="0.889" stop-opacity="0.02"/><stop offset="0.944" stop-opacity="0.01"/><stop offset="1.000" stop-opacity="0.00"/></linearGradient><linearGradient class="w" id="m1_43" gradientUnits="userSpaceOnUse" x1="686.3" x2="1076.7"><stop offset="0.167" stop-opacity="0.01"/><stop offset="0.222" stop-opacity="0.02"/><stop offset="0.278" stop-opacity="0.04"/><stop offset="0.333" stop-opacity="0.08"/><stop offset="0.389" stop-opacity="0.13"/><stop offset="0.444" stop-opacity="0.18"/><stop offset="0.500" stop-opacity="0.20"/><stop offset="0.556" stop-opacity="0.24"/><stop offset="0.611" stop-opacity="0.27"/><stop offset="0.667" stop-opacity="0.24"/><stop offset="0.722" stop-opacity="0.19"/><stop offset="0.778" stop-opacity="0.12"/><stop offset="0.833" stop-opacity="0.06"/><stop offset="0.889" stop-opacity="0.03"/><stop offset="0.944" stop-opacity="0.01"/><stop offset="1.000" stop-opacity="0.00"/></linearGradient><linearGradient class="w" id="m1_44" gradientUnits="userSpaceOnUse" x1="686.3" x2="1076.7"><stop offset="0.111" stop-opacity="0.00"/><stop offset="0.167" stop-opacity="0.01"/><stop offset="0.222" stop-opacity="0.02"/><stop offset="0.278" stop-opacity="0.05"/><stop offset="0.333" stop-opacity="0.11"/><stop offset="0.389" stop-opacity="0.19"/><stop offset="0.444" stop-opacity="0.25"/><stop offset="0.500" stop-opacity="0.27"/><stop offset="0.556" stop-opacity="0.30"/><stop offset="0.611" stop-opacity="0.31"/><stop offset="0.667" stop-opacity="0.27"/><stop offset="0.722" stop-opacity="0.21"/><stop offset="0.778" stop-opacity="0.13"/><stop offset="0.833" stop-opacity="0.07"/><stop offset="0.889" stop-opacity="0.03"/><stop offset="0.944" stop-opacity="0.01"/><stop offset="1.000" stop-opacity="0.00"/></linearGradient><linearGradient class="w" id="m1_45" gradientUnits="userSpaceOnUse" x1="686.3" x2="1076.7"><stop offset="0.111" stop-opacity="0.00"/><stop offset="0.167" stop-opacity="0.01"/><stop offset="0.222" stop-opacity="0.03"/><stop offset="0.278" stop-opacity="0.07"/><stop offset="0.333" stop-opacity="0.15"/><stop offset="0.389" stop-opacity="0.25"/><stop offset="0.444" stop-opacity="0.33"/><stop offset="0.500" stop-opacity="0.36"/><stop offset="0.556" stop-opacity="0.37"/><stop offset="0.611" stop-opacity="0.36"/><stop offset="0.667" stop-opacity="0.31"/><stop offset="0.722" stop-opacity="0.23"/><stop offset="0.778" stop-opacity="0.14"/><stop offset="0.833" stop-opacity="0.08"/><stop offset="0.889" stop-opacity="0.04"/><stop offset="0.944" stop-opacity="0.02"/><stop offset="1.000" stop-opacity="0.01"/></linearGradient><linearGradient class="w" id="m1_46" gradientUnits="userSpaceOnUse" x1="686.3" x2="1076.7"><stop offset="0.111" stop-opacity="0.00"/><stop offset="0.167" stop-opacity="0.01"/><stop offset="0.222" stop-opacity="0.03"/><stop offset="0.278" stop-opacity="0.09"/><stop offset="0.333" stop-opacity="0.18"/><stop offset="0.389" stop-opacity="0.30"/><stop offset="0.444" stop-opacity="0.40"/><stop offset="0.500" stop-opacity="0.43"/><stop offset="0.556" stop-opacity="0.43"/><stop offset="0.611" stop-opacity="0.40"/><stop offset="0.667" stop-opacity="0.33"/><stop offset="0.722" stop-opacity="0.24"/><stop offset="0.778" stop-opacity="0.16"/><stop offset="0.833" stop-opacity="0.09"/><stop offset="0.889" stop-opacity="0.04"/><stop offset="0.944" stop-opacity="0.02"/><stop offset="1.000" stop-opacity="0.01"/></linearGradient><linearGradient class="w" id="m1_47" gradientUnits="userSpaceOnUse" x1="686.3" x2="1076.7"><stop offset="0.111" stop-opacity="0.00"/><stop offset="0.167" stop-opacity="0.01"/><stop offset="0.222" stop-opacity="0.04"/><stop offset="0.278" stop-opacity="0.10"/><stop offset="0.333" stop-opacity="0.20"/><stop offset="0.389" stop-opacity="0.33"/><stop offset="0.444" stop-opacity="0.44"/><stop offset="0.500" stop-opacity="0.47"/><stop offset="0.556" stop-opacity="0.46"/><stop offset="0.611" stop-opacity="0.42"/><stop offset="0.667" stop-opacity="0.34"/><stop offset="0.722" stop-opacity="0.25"/><stop offset="0.778" stop-opacity="0.16"/><stop offset="0.833" stop-opacity="0.09"/><stop offset="0.889" stop-opacity="0.04"/><stop offset="0.944" stop-opacity="0.02"/><stop offset="1.000" stop-opacity="0.01"/></linearGradient><linearGradient class="w" id="m1_48" gradientUnits="userSpaceOnUse" x1="686.3" x2="1076.7"><stop offset="0.111" stop-opacity="0.00"/><stop offset="0.167" stop-opacity="0.01"/><stop offset="0.222" stop-opacity="0.04"/><stop offset="0.278" stop-opacity="0.10"/><stop offset="0.333" stop-opacity="0.21"/><stop offset="0.389" stop-opacity="0.34"/><stop offset="0.444" stop-opacity="0.45"/><stop offset="0.500" stop-opacity="0.48"/><stop offset="0.556" stop-opacity="0.46"/><stop offset="0.611" stop-opacity="0.41"/><stop offset="0.667" stop-opacity="0.33"/><stop offset="0.722" stop-opacity="0.24"/><stop offset="0.778" stop-opacity="0.15"/><stop offset="0.833" stop-opacity="0.09"/><stop offset="0.889" stop-opacity="0.04"/><stop offset="0.944" stop-opacity="0.02"/><stop offset="1.000" stop-opacity="0.01"/></linearGradient><linearGradient class="w" id="m1_49" gradientUnits="userSpaceOnUse" x1="686.3" x2="1076.7"><stop offset="0.111" stop-opacity="0.00"/><stop offset="0.167" stop-opacity="0.01"/><stop offset="0.222" stop-opacity="0.04"/><stop offset="0.278" stop-opacity="0.11"/><stop offset="0.333" stop-opacity="0.21"/><stop offset="0.389" stop-opacity="0.34"/><stop offset="0.444" stop-opacity="0.45"/><stop offset="0.500" stop-opacity="0.48"/><stop offset="0.556" stop-opacity="0.45"/><stop offset="0.611" stop-opacity="0.39"/><stop offset="0.667" stop-opacity="0.32"/><stop offset="0.722" stop-opacity="0.23"/><stop offset="0.778" stop-opacity="0.15"/><stop offset="0.833" stop-opacity="0.08"/><stop offset="0.889" stop-opacity="0.04"/><stop offset="0.944" stop-opacity="0.02"/><stop offset="1.000" stop-opacity="0.01"/></linearGradient><linearGradient class="w" id="m1_50" gradientUnits="userSpaceOnUse" x1="686.3" x2="1076.7"><stop offset="0.111" stop-opacity="0.00"/><stop offset="0.167" stop-opacity="0.01"/><stop offset="0.222" stop-opacity="0.04"/><stop offset="0.278" stop-opacity="0.11"/><stop offset="0.333" stop-opacity="0.22"/><stop offset="0.389" stop-opacity="0.35"/><stop offset="0.444" stop-opacity="0.45"/><stop offset="0.500" stop-opacity="0.47"/><stop offset="0.556" stop-opacity="0.44"/><stop offset="0.611" stop-opacity="0.38"/><stop offset="0.667" stop-opacity="0.30"/><stop offset="0.722" stop-opacity="0.22"/><stop offset="0.778" stop-opacity="0.14"/><stop offset="0.833" stop-opacity="0.08"/><stop offset="0.889" stop-opacity="0.04"/><stop offset="0.944" stop-opacity="0.02"/><stop offset="1.000" stop-opacity="0.01"/></linearGradient><linearGradient class="w" id="m1_51" gradientUnits="userSpaceOnUse" x1="686.3" x2="1076.7"><stop offset="0.111" stop-opacity="0.00"/><stop offset="0.167" stop-opacity="0.02"/><stop offset="0.222" stop-opacity="0.05"/><stop offset="0.278" stop-opacity="0.11"/><stop offset="0.333" stop-opacity="0.22"/><stop offset="0.389" stop-opacity="0.35"/><stop offset="0.444" stop-opacity="0.45"/><stop offset="0.500" stop-opacity="0.47"/><stop offset="0.556" stop-opacity="0.44"/><stop offset="0.611" stop-opacity="0.37"/><stop offset="0.667" stop-opacity="0.29"/><stop offset="0.722" stop-opacity="0.21"/><stop offset="0.778" stop-opacity="0.13"/><stop offset="0.833" stop-opacity="0.08"/><stop offset="0.889" stop-opacity="0.04"/><stop offset="0.944" stop-opacity="0.02"/><stop offset="1.000" stop-opacity="0.01"/></linearGradient><linearGradient class="w" id="m1_52" gradientUnits="userSpaceOnUse" x1="686.3" x2="1076.7"><stop offset="0.111" stop-opacity="0.00"/><stop offset="0.167" stop-opacity="0.02"/><stop offset="0.222" stop-opacity="0.05"/><stop offset="0.278" stop-opacity="0.12"/><stop offset="0.333" stop-opacity="0.23"/><stop offset="0.389" stop-opacity="0.36"/><stop offset="0.444" stop-opacity="0.45"/><stop offset="0.500" stop-opacity="0.47"/><stop offset="0.556" stop-opacity="0.44"/><stop offset="0.611" stop-opacity="0.37"/><stop offset="0.667" stop-opacity="0.29"/><stop offset="0.722" stop-opacity="0.20"/><stop offset="0.778" stop-opacity="0.13"/><stop offset="0.833" stop-opacity="0.07"/><stop offset="0.889" stop-opacity="0.04"/><stop offset="0.944" stop-opacity="0.02"/><stop offset="1.000" stop-opacity="0.01"/></linearGradient><linearGradient class="w" id="m1_53" gradientUnits="userSpaceOnUse" x1="686.3" x2="1076.7"><stop offset="0.111" stop-opacity="0.00"/><stop offset="0.167" stop-opacity="0.02"/><stop offset="0.222" stop-opacity="0.05"/><stop offset="0.278" stop-opacity="0.12"/><stop offset="0.333" stop-opacity="0.23"/><stop offset="0.389" stop-opacity="0.36"/><stop offset="0.444" stop-opacity="0.46"/><stop offset="0.500" stop-opacity="0.47"/><stop offset="0.556" stop-opacity="0.43"/><stop offset="0.611" stop-opacity="0.36"/><stop offset="0.667" stop-opacity="0.28"/><stop offset="0.722" stop-opacity="0.20"/><stop offset="0.778" stop-opacity="0.12"/><stop offset="0.833" stop-opacity="0.07"/><stop offset="0.889" stop-opacity="0.04"/><stop offset="0.944" stop-opacity="0.02"/><stop offset="1.000" stop-opacity="0.01"/></linearGradient><linearGradient class="w" id="m1_54" gradientUnits="userSpaceOnUse" x1="686.3" x2="1076.7"><stop offset="0.111" stop-opacity="0.01"/><stop offset="0.167" stop-opacity="0.02"/><stop offset="0.222" stop-opacity="0.05"/><stop offset="0.278" stop-opacity="0.12"/><stop offset="0.333" stop-opacity="0.24"/><stop offset="0.389" stop-opacity="0.37"/><stop offset="0.444" stop-opacity="0.46"/><stop offset="0.500" stop-opacity="0.47"/><stop offset="0.556" stop-opacity="0.43"/><stop offset="0.611" stop-opacity="0.36"/><stop offset="0.667" stop-opacity="0.27"/><stop offset="0.722" stop-opacity="0.19"/><stop offset="0.778" stop-opacity="0.12"/><stop offset="0.833" stop-opacity="0.07"/><stop offset="0.889" stop-opacity="0.03"/><stop offset="0.944" stop-opacity="0.02"/><stop offset="1.000" stop-opacity="0.01"/></linearGradient><linearGradient class="w" id="m1_55" gradientUnits="userSpaceOnUse" x1="686.3" x2="1076.7"><stop offset="0.111" stop-opacity="0.01"/><stop offset="0.167" stop-opacity="0.02"/><stop offset="0.222" stop-opacity="0.06"/><stop offset="0.278" stop-opacity="0.13"/><stop offset="0.333" stop-opacity="0.24"/><stop offset="0.389" stop-opacity="0.37"/><stop offset="0.444" stop-opacity="0.46"/><stop offset="0.500" stop-opacity="0.47"/><stop offset="0.556" stop-opacity="0.43"/><stop offset="0.611" stop-opacity="0.35"/><stop offset="0.667" stop-opacity="0.27"/><stop offset="0.722" stop-opacity="0.19"/><stop offset="0.778" stop-opacity="0.12"/><stop offset="0.833" stop-opacity="0.07"/><stop offset="0.889" stop-opacity="0.03"/><stop offset="0.944" stop-opacity="0.02"/><stop offset="1.000" stop-opacity="0.01"/></linearGradient><linearGradient class="w" id="m1_56" gradientUnits="userSpaceOnUse" x1="686.3" x2="1076.7"><stop offset="0.056" stop-opacity="0.00"/><stop offset="0.111" stop-opacity="0.01"/><stop offset="0.167" stop-opacity="0.02"/><stop offset="0.222" stop-opacity="0.06"/><stop offset="0.278" stop-opacity="0.13"/><stop offset="0.333" stop-opacity="0.25"/><stop offset="0.389" stop-opacity="0.38"/><stop offset="0.444" stop-opacity="0.46"/><stop offset="0.500" stop-opacity="0.47"/><stop offset="0.556" stop-opacity="0.43"/><stop offset="0.611" stop-opacity="0.35"/><stop offset="0.667" stop-opacity="0.26"/><stop offset="0.722" stop-opacity="0.18"/><stop offset="0.778" stop-opacity="0.11"/><stop offset="0.833" stop-opacity="0.06"/><stop offset="0.889" stop-opacity="0.03"/><stop offset="0.944" stop-opacity="0.01"/><stop offset="1.000" stop-opacity="0.01"/></linearGradient><linearGradient class="w" id="m1_57" gradientUnits="userSpaceOnUse" x1="686.3" x2="1076.7"><stop offset="0.056" stop-opacity="0.00"/><stop offset="0.111" stop-opacity="0.01"/><stop offset="0.167" stop-opacity="0.02"/><stop offset="0.222" stop-opacity="0.06"/><stop offset="0.278" stop-opacity="0.14"/><stop offset="0.333" stop-opacity="0.26"/><stop offset="0.389" stop-opacity="0.38"/><stop offset="0.444" stop-opacity="0.46"/><stop offset="0.500" stop-opacity="0.47"/><stop offset="0.556" stop-opacity="0.42"/><stop offset="0.611" stop-opacity="0.35"/><stop offset="0.667" stop-opacity="0.26"/><stop offset="0.722" stop-opacity="0.18"/><stop offset="0.778" stop-opacity="0.11"/><stop offset="0.833" stop-opacity="0.06"/><stop offset="0.889" stop-opacity="0.03"/><stop offset="0.944" stop-opacity="0.01"/><stop offset="1.000" stop-opacity="0.01"/></linearGradient><linearGradient class="w" id="m1_58" gradientUnits="userSpaceOnUse" x1="686.3" x2="1076.7"><stop offset="0.056" stop-opacity="0.00"/><stop offset="0.111" stop-opacity="0.01"/><stop offset="0.167" stop-opacity="0.02"/><stop offset="0.222" stop-opacity="0.07"/><stop offset="0.278" stop-opacity="0.15"/><stop offset="0.333" stop-opacity="0.26"/><stop offset="0.389" stop-opacity="0.39"/><stop offset="0.444" stop-opacity="0.47"/><stop offset="0.500" stop-opacity="0.47"/><stop offset="0.556" stop-opacity="0.42"/><stop offset="0.611" stop-opacity="0.34"/><stop offset="0.667" stop-opacity="0.26"/><stop offset="0.722" stop-opacity="0.17"/><stop offset="0.778" stop-opacity="0.11"/><stop offset="0.833" stop-opacity="0.06"/><stop offset="0.889" stop-opacity="0.03"/><stop offset="0.944" stop-opacity="0.01"/><stop offset="1.000" stop-opacity="0.01"/></linearGradient><linearGradient class="w" id="m1_59" gradientUnits="userSpaceOnUse" x1="686.3" x2="1076.7"><stop offset="0.056" stop-opacity="0.00"/><stop offset="0.111" stop-opacity="0.01"/><stop offset="0.167" stop-opacity="0.03"/><stop offset="0.222" stop-opacity="0.07"/><stop offset="0.278" stop-opacity="0.15"/><stop offset="0.333" stop-opacity="0.27"/><stop offset="0.389" stop-opacity="0.39"/><stop offset="0.444" stop-opacity="0.47"/><stop offset="0.500" stop-opacity="0.47"/><stop offset="0.556" stop-opacity="0.42"/><stop offset="0.611" stop-opacity="0.34"/><stop offset="0.667" stop-opacity="0.25"/><stop offset="0.722" stop-opacity="0.17"/><stop offset="0.778" stop-opacity="0.11"/><stop offset="0.833" stop-opacity="0.06"/><stop offset="0.889" stop-opacity="0.03"/><stop offset="0.944" stop-opacity="0.01"/><stop offset="1.000" stop-opacity="0.01"/></linearGradient><mask id="mk1" maskUnits="userSpaceOnUse" x="688.0" y="89.0" width="387.0" height="503.0"><g filter="url(#fbm)" style="color:#fff"><rect x="698.0" y="101.0" width="367.0" height="8.2" fill="url(#m1_0)"/><rect x="698.0" y="109.0" width="367.0" height="8.2" fill="url(#m1_1)"/><rect x="698.0" y="117.0" width="367.0" height="8.2" fill="url(#m1_2)"/><rect x="698.0" y="125.0" width="367.0" height="8.2" fill="url(#m1_3)"/><rect x="698.0" y="133.0" width="367.0" height="8.2" fill="url(#m1_4)"/><rect x="698.0" y="141.0" width="367.0" height="8.2" fill="url(#m1_5)"/><rect x="698.0" y="149.0" width="367.0" height="8.2" fill="url(#m1_6)"/><rect x="698.0" y="157.0" width="367.0" height="8.2" fill="url(#m1_7)"/><rect x="698.0" y="165.0" width="367.0" height="8.2" fill="url(#m1_8)"/><rect x="698.0" y="173.0" width="367.0" height="8.2" fill="url(#m1_9)"/><rect x="698.0" y="181.0" width="367.0" height="8.2" fill="url(#m1_10)"/><rect x="698.0" y="189.0" width="367.0" height="8.2" fill="url(#m1_11)"/><rect x="698.0" y="197.0" width="367.0" height="8.2" fill="url(#m1_12)"/><rect x="698.0" y="205.0" width="367.0" height="8.2" fill="url(#m1_13)"/><rect x="698.0" y="213.0" width="367.0" height="8.2" fill="url(#m1_14)"/><rect x="698.0" y="221.0" width="367.0" height="8.2" fill="url(#m1_15)"/><rect x="698.0" y="229.0" width="367.0" height="8.2" fill="url(#m1_16)"/><rect x="698.0" y="237.0" width="367.0" height="8.2" fill="url(#m1_17)"/><rect x="698.0" y="245.0" width="367.0" height="8.2" fill="url(#m1_18)"/><rect x="698.0" y="253.0" width="367.0" height="8.2" fill="url(#m1_19)"/><rect x="698.0" y="261.0" width="367.0" height="8.2" fill="url(#m1_20)"/><rect x="698.0" y="269.0" width="367.0" height="8.2" fill="url(#m1_21)"/><rect x="698.0" y="277.0" width="367.0" height="8.2" fill="url(#m1_22)"/><rect x="698.0" y="285.0" width="367.0" height="8.2" fill="url(#m1_23)"/><rect x="698.0" y="293.0" width="367.0" height="8.2" fill="url(#m1_24)"/><rect x="698.0" y="301.0" width="367.0" height="8.2" fill="url(#m1_25)"/><rect x="698.0" y="309.0" width="367.0" height="8.2" fill="url(#m1_26)"/><rect x="698.0" y="317.0" width="367.0" height="8.2" fill="url(#m1_27)"/><rect x="698.0" y="325.0" width="367.0" height="8.2" fill="url(#m1_28)"/><rect x="698.0" y="333.0" width="367.0" height="8.2" fill="url(#m1_29)"/><rect x="698.0" y="341.0" width="367.0" height="8.2" fill="url(#m1_30)"/><rect x="698.0" y="349.0" width="367.0" height="8.2" fill="url(#m1_31)"/><rect x="698.0" y="357.0" width="367.0" height="8.2" fill="url(#m1_32)"/><rect x="698.0" y="365.0" width="367.0" height="8.2" fill="url(#m1_33)"/><rect x="698.0" y="373.0" width="367.0" height="8.2" fill="url(#m1_34)"/><rect x="698.0" y="381.0" width="367.0" height="8.2" fill="url(#m1_35)"/><rect x="698.0" y="389.0" width="367.0" height="8.2" fill="url(#m1_36)"/><rect x="698.0" y="397.0" width="367.0" height="8.2" fill="url(#m1_37)"/><rect x="698.0" y="405.0" width="367.0" height="8.2" fill="url(#m1_38)"/><rect x="698.0" y="413.0" width="367.0" height="8.2" fill="url(#m1_39)"/><rect x="698.0" y="421.0" width="367.0" height="8.2" fill="url(#m1_40)"/><rect x="698.0" y="429.0" width="367.0" height="8.2" fill="url(#m1_41)"/><rect x="698.0" y="437.0" width="367.0" height="8.2" fill="url(#m1_42)"/><rect x="698.0" y="445.0" width="367.0" height="8.2" fill="url(#m1_43)"/><rect x="698.0" y="453.0" width="367.0" height="8.2" fill="url(#m1_44)"/><rect x="698.0" y="461.0" width="367.0" height="8.2" fill="url(#m1_45)"/><rect x="698.0" y="469.0" width="367.0" height="8.2" fill="url(#m1_46)"/><rect x="698.0" y="477.0" width="367.0" height="8.2" fill="url(#m1_47)"/><rect x="698.0" y="485.0" width="367.0" height="8.2" fill="url(#m1_48)"/><rect x="698.0" y="493.0" width="367.0" height="8.2" fill="url(#m1_49)"/><rect x="698.0" y="501.0" width="367.0" height="8.2" fill="url(#m1_50)"/><rect x="698.0" y="509.0" width="367.0" height="8.2" fill="url(#m1_51)"/><rect x="698.0" y="517.0" width="367.0" height="8.2" fill="url(#m1_52)"/><rect x="698.0" y="525.0" width="367.0" height="8.2" fill="url(#m1_53)"/><rect x="698.0" y="533.0" width="367.0" height="8.2" fill="url(#m1_54)"/><rect x="698.0" y="541.0" width="367.0" height="8.2" fill="url(#m1_55)"/><rect x="698.0" y="549.0" width="367.0" height="8.2" fill="url(#m1_56)"/><rect x="698.0" y="557.0" width="367.0" height="8.2" fill="url(#m1_57)"/><rect x="698.0" y="565.0" width="367.0" height="8.2" fill="url(#m1_58)"/><rect x="698.0" y="573.0" width="367.0" height="8.2" fill="url(#m1_59)"/></g></mask></defs>
<g clip-path="url(#clip1)"><g mask="url(#mk1)" opacity="0.4"><rect x="668.0" y="106.0" width="427.0" height="3.2" fill="url(#p1)" transform="translate(686.97,0) scale(1.0539,1) translate(-708.0,0)"/><rect x="668.0" y="109.0" width="427.0" height="3.2" fill="url(#p1)" transform="translate(687.69,0) scale(1.0520,1) translate(-708.0,0)"/><rect x="668.0" y="112.0" width="427.0" height="3.2" fill="url(#p1)" transform="translate(688.40,0) scale(1.0502,1) translate(-708.0,0)"/><rect x="668.0" y="115.0" width="427.0" height="3.2" fill="url(#p1)" transform="translate(689.09,0) scale(1.0484,1) translate(-708.0,0)"/><rect x="668.0" y="118.0" width="427.0" height="3.2" fill="url(#p1)" transform="translate(689.77,0) scale(1.0467,1) translate(-708.0,0)"/><rect x="668.0" y="121.0" width="427.0" height="3.2" fill="url(#p1)" transform="translate(690.43,0) scale(1.0450,1) translate(-708.0,0)"/><rect x="668.0" y="124.0" width="427.0" height="3.2" fill="url(#p1)" transform="translate(691.08,0) scale(1.0433,1) translate(-708.0,0)"/><rect x="668.0" y="127.0" width="427.0" height="3.2" fill="url(#p1)" transform="translate(691.71,0) scale(1.0417,1) translate(-708.0,0)"/><rect x="668.0" y="130.0" width="427.0" height="3.2" fill="url(#p1)" transform="translate(692.33,0) scale(1.0401,1) translate(-708.0,0)"/><rect x="668.0" y="133.0" width="427.0" height="3.2" fill="url(#p1)" transform="translate(692.94,0) scale(1.0386,1) translate(-708.0,0)"/><rect x="668.0" y="136.0" width="427.0" height="3.2" fill="url(#p1)" transform="translate(693.54,0) scale(1.0370,1) translate(-708.0,0)"/><rect x="668.0" y="139.0" width="427.0" height="3.2" fill="url(#p1)" transform="translate(694.12,0) scale(1.0356,1) translate(-708.0,0)"/><rect x="668.0" y="142.0" width="427.0" height="3.2" fill="url(#p1)" transform="translate(694.69,0) scale(1.0341,1) translate(-708.0,0)"/><rect x="668.0" y="145.0" width="427.0" height="3.2" fill="url(#p1)" transform="translate(695.24,0) scale(1.0327,1) translate(-708.0,0)"/><rect x="668.0" y="148.0" width="427.0" height="3.2" fill="url(#p1)" transform="translate(695.78,0) scale(1.0313,1) translate(-708.0,0)"/><rect x="668.0" y="151.0" width="427.0" height="3.2" fill="url(#p1)" transform="translate(696.31,0) scale(1.0299,1) translate(-708.0,0)"/><rect x="668.0" y="154.0" width="427.0" height="3.2" fill="url(#p1)" transform="translate(696.83,0) scale(1.0286,1) translate(-708.0,0)"/><rect x="668.0" y="157.0" width="427.0" height="3.2" fill="url(#p1)" transform="translate(697.34,0) scale(1.0273,1) translate(-708.0,0)"/><rect x="668.0" y="160.0" width="427.0" height="3.2" fill="url(#p1)" transform="translate(697.83,0) scale(1.0261,1) translate(-708.0,0)"/><rect x="668.0" y="163.0" width="427.0" height="3.2" fill="url(#p1)" transform="translate(698.31,0) scale(1.0248,1) translate(-708.0,0)"/><rect x="668.0" y="166.0" width="427.0" height="3.2" fill="url(#p1)" transform="translate(698.77,0) scale(1.0236,1) translate(-708.0,0)"/><rect x="668.0" y="169.0" width="427.0" height="3.2" fill="url(#p1)" transform="translate(699.23,0) scale(1.0225,1) translate(-708.0,0)"/><rect x="668.0" y="172.0" width="427.0" height="3.2" fill="url(#p1)" transform="translate(699.67,0) scale(1.0213,1) translate(-708.0,0)"/><rect x="668.0" y="175.0" width="427.0" height="3.2" fill="url(#p1)" transform="translate(700.10,0) scale(1.0202,1) translate(-708.0,0)"/><rect x="668.0" y="178.0" width="427.0" height="3.2" fill="url(#p1)" transform="translate(700.52,0) scale(1.0192,1) translate(-708.0,0)"/><rect x="668.0" y="181.0" width="427.0" height="3.2" fill="url(#p1)" transform="translate(700.92,0) scale(1.0181,1) translate(-708.0,0)"/><rect x="668.0" y="184.0" width="427.0" height="3.2" fill="url(#p1)" transform="translate(701.32,0) scale(1.0171,1) translate(-708.0,0)"/><rect x="668.0" y="187.0" width="427.0" height="3.2" fill="url(#p1)" transform="translate(701.70,0) scale(1.0161,1) translate(-708.0,0)"/><rect x="668.0" y="190.0" width="427.0" height="3.2" fill="url(#p1)" transform="translate(702.07,0) scale(1.0152,1) translate(-708.0,0)"/><rect x="668.0" y="193.0" width="427.0" height="3.2" fill="url(#p1)" transform="translate(702.43,0) scale(1.0143,1) translate(-708.0,0)"/><rect x="668.0" y="196.0" width="427.0" height="3.2" fill="url(#p1)" transform="translate(702.78,0) scale(1.0134,1) translate(-708.0,0)"/><rect x="668.0" y="199.0" width="427.0" height="3.2" fill="url(#p1)" transform="translate(703.11,0) scale(1.0125,1) translate(-708.0,0)"/><rect x="668.0" y="202.0" width="427.0" height="3.2" fill="url(#p1)" transform="translate(703.44,0) scale(1.0117,1) translate(-708.0,0)"/><rect x="668.0" y="205.0" width="427.0" height="3.2" fill="url(#p1)" transform="translate(703.75,0) scale(1.0109,1) translate(-708.0,0)"/><rect x="668.0" y="208.0" width="427.0" height="3.2" fill="url(#p1)" transform="translate(704.05,0) scale(1.0101,1) translate(-708.0,0)"/><rect x="668.0" y="211.0" width="427.0" height="3.2" fill="url(#p1)" transform="translate(704.34,0) scale(1.0094,1) translate(-708.0,0)"/><rect x="668.0" y="214.0" width="427.0" height="3.2" fill="url(#p1)" transform="translate(704.62,0) scale(1.0087,1) translate(-708.0,0)"/><rect x="668.0" y="217.0" width="427.0" height="3.2" fill="url(#p1)" transform="translate(704.89,0) scale(1.0080,1) translate(-708.0,0)"/><rect x="668.0" y="220.0" width="427.0" height="3.2" fill="url(#p1)" transform="translate(705.14,0) scale(1.0073,1) translate(-708.0,0)"/><rect x="668.0" y="223.0" width="427.0" height="3.2" fill="url(#p1)" transform="translate(705.39,0) scale(1.0067,1) translate(-708.0,0)"/><rect x="668.0" y="226.0" width="427.0" height="3.2" fill="url(#p1)" transform="translate(705.62,0) scale(1.0061,1) translate(-708.0,0)"/><rect x="668.0" y="229.0" width="427.0" height="3.2" fill="url(#p1)" transform="translate(705.84,0) scale(1.0055,1) translate(-708.0,0)"/><rect x="668.0" y="232.0" width="427.0" height="3.2" fill="url(#p1)" transform="translate(706.05,0) scale(1.0050,1) translate(-708.0,0)"/><rect x="668.0" y="235.0" width="427.0" height="3.2" fill="url(#p1)" transform="translate(706.25,0) scale(1.0045,1) translate(-708.0,0)"/><rect x="668.0" y="238.0" width="427.0" height="3.2" fill="url(#p1)" transform="translate(706.44,0) scale(1.0040,1) translate(-708.0,0)"/><rect x="668.0" y="241.0" width="427.0" height="3.2" fill="url(#p1)" transform="translate(706.62,0) scale(1.0035,1) translate(-708.0,0)"/><rect x="668.0" y="244.0" width="427.0" height="3.2" fill="url(#p1)" transform="translate(706.79,0) scale(1.0031,1) translate(-708.0,0)"/><rect x="668.0" y="247.0" width="427.0" height="3.2" fill="url(#p1)" transform="translate(706.95,0) scale(1.0027,1) translate(-708.0,0)"/><rect x="668.0" y="250.0" width="427.0" height="3.2" fill="url(#p1)" transform="translate(707.09,0) scale(1.0023,1) translate(-708.0,0)"/><rect x="668.0" y="253.0" width="427.0" height="3.2" fill="url(#p1)" transform="translate(707.23,0) scale(1.0020,1) translate(-708.0,0)"/><rect x="668.0" y="256.0" width="427.0" height="3.2" fill="url(#p1)" transform="translate(707.35,0) scale(1.0017,1) translate(-708.0,0)"/><rect x="668.0" y="259.0" width="427.0" height="3.2" fill="url(#p1)" transform="translate(707.46,0) scale(1.0014,1) translate(-708.0,0)"/><rect x="668.0" y="262.0" width="427.0" height="3.2" fill="url(#p1)" transform="translate(707.57,0) scale(1.0011,1) translate(-708.0,0)"/><rect x="668.0" y="265.0" width="427.0" height="3.2" fill="url(#p1)" transform="translate(707.66,0) scale(1.0009,1) translate(-708.0,0)"/><rect x="668.0" y="268.0" width="427.0" height="3.2" fill="url(#p1)" transform="translate(707.74,0) scale(1.0007,1) translate(-708.0,0)"/><rect x="668.0" y="271.0" width="427.0" height="3.2" fill="url(#p1)" transform="translate(707.81,0) scale(1.0005,1) translate(-708.0,0)"/><rect x="668.0" y="274.0" width="427.0" height="3.2" fill="url(#p1)" transform="translate(707.87,0) scale(1.0003,1) translate(-708.0,0)"/><rect x="668.0" y="277.0" width="427.0" height="3.2" fill="url(#p1)" transform="translate(707.91,0) scale(1.0002,1) translate(-708.0,0)"/><rect x="668.0" y="280.0" width="427.0" height="3.2" fill="url(#p1)" transform="translate(707.95,0) scale(1.0001,1) translate(-708.0,0)"/><rect x="668.0" y="283.0" width="427.0" height="3.2" fill="url(#p1)" transform="translate(707.98,0) scale(1.0001,1) translate(-708.0,0)"/><rect x="668.0" y="286.0" width="427.0" height="3.2" fill="url(#p1)" transform="translate(707.99,0) scale(1.0000,1) translate(-708.0,0)"/><rect x="678.0" y="289.0" width="407.0" height="3.2" fill="url(#p1)"/><rect x="678.0" y="292.0" width="407.0" height="3.2" fill="url(#p1)"/><rect x="678.0" y="295.0" width="407.0" height="3.2" fill="url(#p1)"/><rect x="678.0" y="298.0" width="407.0" height="3.2" fill="url(#p1)"/><rect x="678.0" y="301.0" width="407.0" height="3.2" fill="url(#p1)"/><rect x="678.0" y="304.0" width="407.0" height="3.2" fill="url(#p1)"/><rect x="678.0" y="307.0" width="407.0" height="3.2" fill="url(#p1)"/><rect x="678.0" y="310.0" width="407.0" height="3.2" fill="url(#p1)"/><rect x="678.0" y="313.0" width="407.0" height="3.2" fill="url(#p1)"/><rect x="678.0" y="316.0" width="407.0" height="3.2" fill="url(#p1)"/><rect x="678.0" y="319.0" width="407.0" height="3.2" fill="url(#p1)"/><rect x="678.0" y="322.0" width="407.0" height="3.2" fill="url(#p1)"/><rect x="678.0" y="325.0" width="407.0" height="3.2" fill="url(#p1)"/><rect x="678.0" y="328.0" width="407.0" height="3.2" fill="url(#p1)"/><rect x="678.0" y="331.0" width="407.0" height="3.2" fill="url(#p1)"/><rect x="678.0" y="334.0" width="407.0" height="3.2" fill="url(#p1)"/><rect x="678.0" y="337.0" width="407.0" height="3.2" fill="url(#p1)"/><rect x="678.0" y="340.0" width="407.0" height="3.2" fill="url(#p1)"/><rect x="678.0" y="343.0" width="407.0" height="3.2" fill="url(#p1)"/><rect x="678.0" y="346.0" width="407.0" height="3.2" fill="url(#p1)"/><rect x="678.0" y="349.0" width="407.0" height="3.2" fill="url(#p1)"/><rect x="678.0" y="352.0" width="407.0" height="3.2" fill="url(#p1)"/><rect x="678.0" y="355.0" width="407.0" height="3.2" fill="url(#p1)"/><rect x="678.0" y="358.0" width="407.0" height="3.2" fill="url(#p1)"/><rect x="678.0" y="361.0" width="407.0" height="3.2" fill="url(#p1)"/><rect x="678.0" y="364.0" width="407.0" height="3.2" fill="url(#p1)"/><rect x="678.0" y="367.0" width="407.0" height="3.2" fill="url(#p1)"/><rect x="678.0" y="370.0" width="407.0" height="3.2" fill="url(#p1)"/><rect x="678.0" y="373.0" width="407.0" height="3.2" fill="url(#p1)"/><rect x="678.0" y="376.0" width="407.0" height="3.2" fill="url(#p1)"/><rect x="678.0" y="379.0" width="407.0" height="3.2" fill="url(#p1)"/><rect x="678.0" y="382.0" width="407.0" height="3.2" fill="url(#p1)"/><rect x="678.0" y="385.0" width="407.0" height="3.2" fill="url(#p1)"/><rect x="678.0" y="388.0" width="407.0" height="3.2" fill="url(#p1)"/><rect x="668.0" y="391.0" width="427.0" height="3.2" fill="url(#p1)" transform="translate(708.00,0) scale(1.0000,1) translate(-708.0,0)"/><rect x="668.0" y="394.0" width="427.0" height="3.2" fill="url(#p1)" transform="translate(707.99,0) scale(1.0000,1) translate(-708.0,0)"/><rect x="668.0" y="397.0" width="427.0" height="3.2" fill="url(#p1)" transform="translate(707.96,0) scale(1.0001,1) translate(-708.0,0)"/><rect x="668.0" y="400.0" width="427.0" height="3.2" fill="url(#p1)" transform="translate(707.93,0) scale(1.0002,1) translate(-708.0,0)"/><rect x="668.0" y="403.0" width="427.0" height="3.2" fill="url(#p1)" transform="translate(707.88,0) scale(1.0003,1) translate(-708.0,0)"/><rect x="668.0" y="406.0" width="427.0" height="3.2" fill="url(#p1)" transform="translate(707.83,0) scale(1.0004,1) translate(-708.0,0)"/><rect x="668.0" y="409.0" width="427.0" height="3.2" fill="url(#p1)" transform="translate(707.76,0) scale(1.0006,1) translate(-708.0,0)"/><rect x="668.0" y="412.0" width="427.0" height="3.2" fill="url(#p1)" transform="translate(707.68,0) scale(1.0008,1) translate(-708.0,0)"/><rect x="668.0" y="415.0" width="427.0" height="3.2" fill="url(#p1)" transform="translate(707.60,0) scale(1.0010,1) translate(-708.0,0)"/><rect x="668.0" y="418.0" width="427.0" height="3.2" fill="url(#p1)" transform="translate(707.50,0) scale(1.0013,1) translate(-708.0,0)"/><rect x="668.0" y="421.0" width="427.0" height="3.2" fill="url(#p1)" transform="translate(707.39,0) scale(1.0016,1) translate(-708.0,0)"/><rect x="668.0" y="424.0" width="427.0" height="3.2" fill="url(#p1)" transform="translate(707.27,0) scale(1.0019,1) translate(-708.0,0)"/><rect x="668.0" y="427.0" width="427.0" height="3.2" fill="url(#p1)" transform="translate(707.14,0) scale(1.0022,1) translate(-708.0,0)"/><rect x="668.0" y="430.0" width="427.0" height="3.2" fill="url(#p1)" transform="translate(707.00,0) scale(1.0026,1) translate(-708.0,0)"/><rect x="668.0" y="433.0" width="427.0" height="3.2" fill="url(#p1)" transform="translate(706.84,0) scale(1.0030,1) translate(-708.0,0)"/><rect x="668.0" y="436.0" width="427.0" height="3.2" fill="url(#p1)" transform="translate(706.68,0) scale(1.0034,1) translate(-708.0,0)"/><rect x="668.0" y="439.0" width="427.0" height="3.2" fill="url(#p1)" transform="translate(706.50,0) scale(1.0038,1) translate(-708.0,0)"/><rect x="668.0" y="442.0" width="427.0" height="3.2" fill="url(#p1)" transform="translate(706.32,0) scale(1.0043,1) translate(-708.0,0)"/><rect x="668.0" y="445.0" width="427.0" height="3.2" fill="url(#p1)" transform="translate(706.12,0) scale(1.0048,1) translate(-708.0,0)"/><rect x="668.0" y="448.0" width="427.0" height="3.2" fill="url(#p1)" transform="translate(705.92,0) scale(1.0053,1) translate(-708.0,0)"/><rect x="668.0" y="451.0" width="427.0" height="3.2" fill="url(#p1)" transform="translate(705.70,0) scale(1.0059,1) translate(-708.0,0)"/><rect x="668.0" y="454.0" width="427.0" height="3.2" fill="url(#p1)" transform="translate(705.47,0) scale(1.0065,1) translate(-708.0,0)"/><rect x="668.0" y="457.0" width="427.0" height="3.2" fill="url(#p1)" transform="translate(705.23,0) scale(1.0071,1) translate(-708.0,0)"/><rect x="668.0" y="460.0" width="427.0" height="3.2" fill="url(#p1)" transform="translate(704.97,0) scale(1.0078,1) translate(-708.0,0)"/><rect x="668.0" y="463.0" width="427.0" height="3.2" fill="url(#p1)" transform="translate(704.71,0) scale(1.0084,1) translate(-708.0,0)"/><rect x="668.0" y="466.0" width="427.0" height="3.2" fill="url(#p1)" transform="translate(704.44,0) scale(1.0091,1) translate(-708.0,0)"/><rect x="668.0" y="469.0" width="427.0" height="3.2" fill="url(#p1)" transform="translate(704.15,0) scale(1.0099,1) translate(-708.0,0)"/><rect x="668.0" y="472.0" width="427.0" height="3.2" fill="url(#p1)" transform="translate(703.85,0) scale(1.0106,1) translate(-708.0,0)"/><rect x="668.0" y="475.0" width="427.0" height="3.2" fill="url(#p1)" transform="translate(703.54,0) scale(1.0114,1) translate(-708.0,0)"/><rect x="668.0" y="478.0" width="427.0" height="3.2" fill="url(#p1)" transform="translate(703.22,0) scale(1.0122,1) translate(-708.0,0)"/><rect x="668.0" y="481.0" width="427.0" height="3.2" fill="url(#p1)" transform="translate(702.89,0) scale(1.0131,1) translate(-708.0,0)"/><rect x="668.0" y="484.0" width="427.0" height="3.2" fill="url(#p1)" transform="translate(702.55,0) scale(1.0140,1) translate(-708.0,0)"/><rect x="668.0" y="487.0" width="427.0" height="3.2" fill="url(#p1)" transform="translate(702.19,0) scale(1.0149,1) translate(-708.0,0)"/><rect x="668.0" y="490.0" width="427.0" height="3.2" fill="url(#p1)" transform="translate(701.83,0) scale(1.0158,1) translate(-708.0,0)"/><rect x="668.0" y="493.0" width="427.0" height="3.2" fill="url(#p1)" transform="translate(701.45,0) scale(1.0168,1) translate(-708.0,0)"/><rect x="668.0" y="496.0" width="427.0" height="3.2" fill="url(#p1)" transform="translate(701.06,0) scale(1.0178,1) translate(-708.0,0)"/><rect x="668.0" y="499.0" width="427.0" height="3.2" fill="url(#p1)" transform="translate(700.66,0) scale(1.0188,1) translate(-708.0,0)"/><rect x="668.0" y="502.0" width="427.0" height="3.2" fill="url(#p1)" transform="translate(700.24,0) scale(1.0199,1) translate(-708.0,0)"/><rect x="668.0" y="505.0" width="427.0" height="3.2" fill="url(#p1)" transform="translate(699.82,0) scale(1.0210,1) translate(-708.0,0)"/><rect x="668.0" y="508.0" width="427.0" height="3.2" fill="url(#p1)" transform="translate(699.38,0) scale(1.0221,1) translate(-708.0,0)"/><rect x="668.0" y="511.0" width="427.0" height="3.2" fill="url(#p1)" transform="translate(698.93,0) scale(1.0232,1) translate(-708.0,0)"/><rect x="668.0" y="514.0" width="427.0" height="3.2" fill="url(#p1)" transform="translate(698.46,0) scale(1.0244,1) translate(-708.0,0)"/><rect x="668.0" y="517.0" width="427.0" height="3.2" fill="url(#p1)" transform="translate(697.99,0) scale(1.0256,1) translate(-708.0,0)"/><rect x="668.0" y="520.0" width="427.0" height="3.2" fill="url(#p1)" transform="translate(697.50,0) scale(1.0269,1) translate(-708.0,0)"/><rect x="668.0" y="523.0" width="427.0" height="3.2" fill="url(#p1)" transform="translate(697.00,0) scale(1.0282,1) translate(-708.0,0)"/><rect x="668.0" y="526.0" width="427.0" height="3.2" fill="url(#p1)" transform="translate(696.49,0) scale(1.0295,1) translate(-708.0,0)"/><rect x="668.0" y="529.0" width="427.0" height="3.2" fill="url(#p1)" transform="translate(695.96,0) scale(1.0308,1) translate(-708.0,0)"/><rect x="668.0" y="532.0" width="427.0" height="3.2" fill="url(#p1)" transform="translate(695.42,0) scale(1.0322,1) translate(-708.0,0)"/><rect x="668.0" y="535.0" width="427.0" height="3.2" fill="url(#p1)" transform="translate(694.87,0) scale(1.0336,1) translate(-708.0,0)"/><rect x="668.0" y="538.0" width="427.0" height="3.2" fill="url(#p1)" transform="translate(694.31,0) scale(1.0351,1) translate(-708.0,0)"/><rect x="668.0" y="541.0" width="427.0" height="3.2" fill="url(#p1)" transform="translate(693.73,0) scale(1.0365,1) translate(-708.0,0)"/><rect x="668.0" y="544.0" width="427.0" height="3.2" fill="url(#p1)" transform="translate(693.14,0) scale(1.0381,1) translate(-708.0,0)"/><rect x="668.0" y="547.0" width="427.0" height="3.2" fill="url(#p1)" transform="translate(692.54,0) scale(1.0396,1) translate(-708.0,0)"/><rect x="668.0" y="550.0" width="427.0" height="3.2" fill="url(#p1)" transform="translate(691.92,0) scale(1.0412,1) translate(-708.0,0)"/><rect x="668.0" y="553.0" width="427.0" height="3.2" fill="url(#p1)" transform="translate(691.29,0) scale(1.0428,1) translate(-708.0,0)"/><rect x="668.0" y="556.0" width="427.0" height="3.2" fill="url(#p1)" transform="translate(690.65,0) scale(1.0444,1) translate(-708.0,0)"/><rect x="668.0" y="559.0" width="427.0" height="3.2" fill="url(#p1)" transform="translate(689.99,0) scale(1.0461,1) translate(-708.0,0)"/><rect x="668.0" y="562.0" width="427.0" height="3.2" fill="url(#p1)" transform="translate(689.32,0) scale(1.0479,1) translate(-708.0,0)"/><rect x="668.0" y="565.0" width="427.0" height="3.2" fill="url(#p1)" transform="translate(688.63,0) scale(1.0496,1) translate(-708.0,0)"/><rect x="668.0" y="568.0" width="427.0" height="3.2" fill="url(#p1)" transform="translate(687.93,0) scale(1.0514,1) translate(-708.0,0)"/><rect x="668.0" y="571.0" width="427.0" height="3.2" fill="url(#p1)" transform="translate(687.21,0) scale(1.0532,1) translate(-708.0,0)"/><rect x="668.0" y="574.0" width="427.0" height="3.2" fill="url(#p1)" transform="translate(686.49,0) scale(1.0551,1) translate(-708.0,0)"/></g></g>
<g clip-path="url(#clip1)" fill="#1f77b4">
<circle cx="834.4" cy="137.3" r="4.3"/>
<circle cx="860.7" cy="158.3" r="4.3"/>
<circle cx="842.4" cy="195.3" r="4.3"/>
<circle cx="845.4" cy="203.1" r="4.3"/>
<circle cx="848.4" cy="210.8" r="4.3"/>
<circle cx="781.4" cy="246.4" r="4.3"/>
<circle cx="804.3" cy="279.3" r="4.3"/>
<circle cx="785.3" cy="286.4" r="4.3"/>
<circle cx="844.3" cy="265.5" r="4.3"/>
<circle cx="860.2" cy="248.2" r="4.3"/>
<circle cx="766.5" cy="376.5" r="4.3"/>
<circle cx="856.4" cy="438.4" r="4.3"/>
<circle cx="780.3" cy="485.6" r="4.3"/>
<circle cx="755.4" cy="514.3" r="4.3"/>
<circle cx="840.4" cy="479.4" r="4.3"/>
<circle cx="853.5" cy="492.3" r="4.3"/>
<circle cx="846.3" cy="514.3" r="4.3"/>
<circle cx="850.5" cy="529.3" r="4.3"/>
<circle cx="846.5" cy="549.2" r="4.3"/>
<circle cx="873.5" cy="114.4" r="4.3"/>
<circle cx="901.6" cy="111.6" r="4.3"/>
<circle cx="901.3" cy="120.3" r="4.3"/>
<circle cx="902.7" cy="125.3" r="4.3"/>
<circle cx="906.7" cy="135.6" r="4.3"/>
<circle cx="906.2" cy="141.8" r="4.3"/>
<circle cx="907.4" cy="134.2" r="4.3"/>
<circle cx="907.5" cy="154.0" r="4.3"/>
<circle cx="882.7" cy="143.4" r="4.3"/>
<circle cx="882.7" cy="152.4" r="4.3"/>
<circle cx="884.4" cy="160.2" r="4.3"/>
<circle cx="861.4" cy="158.2" r="4.3"/>
<circle cx="932.6" cy="149.2" r="4.3"/>
<circle cx="882.2" cy="166.6" r="4.3"/>
<circle cx="888.4" cy="165.7" r="4.3"/>
<circle cx="887.1" cy="170.6" r="4.3"/>
<circle cx="888.4" cy="175.0" r="4.3"/>
<circle cx="897.3" cy="171.2" r="4.3"/>
<circle cx="898.2" cy="179.7" r="4.3"/>
<circle cx="890.7" cy="184.3" r="4.3"/>
<circle cx="885.3" cy="189.2" r="4.3"/>
<circle cx="884.4" cy="196.3" r="4.3"/>
<circle cx="896.4" cy="193.2" r="4.3"/>
<circle cx="897.8" cy="198.6" r="4.3"/>
<circle cx="892.4" cy="201.2" r="4.3"/>
<circle cx="896.0" cy="203.9" r="4.3"/>
<circle cx="892.9" cy="204.3" r="4.3"/>
<circle cx="867.6" cy="177.4" r="4.3"/>
<circle cx="870.7" cy="199.0" r="4.3"/>
<circle cx="869.3" cy="207.4" r="4.3"/>
<circle cx="893.3" cy="214.6" r="4.3"/>
<circle cx="908.3" cy="155.4" r="4.3"/>
<circle cx="914.6" cy="160.3" r="4.3"/>
<circle cx="920.3" cy="161.7" r="4.3"/>
<circle cx="921.2" cy="167.4" r="4.3"/>
<circle cx="920.8" cy="174.1" r="4.3"/>
<circle cx="911.4" cy="172.3" r="4.3"/>
<circle cx="917.7" cy="165.7" r="4.3"/>
<circle cx="922.0" cy="175.3" r="4.3"/>
<circle cx="935.0" cy="160.3" r="4.3"/>
<circle cx="935.4" cy="165.7" r="4.3"/>
<circle cx="934.4" cy="174.9" r="4.3"/>
<circle cx="937.1" cy="181.6" r="4.3"/>
<circle cx="939.8" cy="186.9" r="4.3"/>
<circle cx="940.7" cy="193.1" r="4.3"/>
<circle cx="936.2" cy="195.8" r="4.3"/>
<circle cx="937.1" cy="202.0" r="4.3"/>
<circle cx="942.4" cy="209.1" r="4.3"/>
<circle cx="938.9" cy="211.8" r="4.3"/>
<circle cx="939.8" cy="218.0" r="4.3"/>
<circle cx="939.8" cy="225.1" r="4.3"/>
<circle cx="868.4" cy="215.3" r="4.3"/>
<circle cx="893.5" cy="217.1" r="4.3"/>
<circle cx="876.4" cy="226.0" r="4.3"/>
<circle cx="873.3" cy="228.2" r="4.3"/>
<circle cx="873.5" cy="236.4" r="4.3"/>
<circle cx="872.7" cy="244.2" r="4.3"/>
<circle cx="873.5" cy="252.2" r="4.3"/>
<circle cx="869.8" cy="258.0" r="4.3"/>
<circle cx="870.2" cy="263.3" r="4.3"/>
<circle cx="865.8" cy="264.2" r="4.3"/>
<circle cx="888.4" cy="238.3" r="4.3"/>
<circle cx="887.6" cy="256.2" r="4.3"/>
<circle cx="904.0" cy="249.6" r="4.3"/>
<circle cx="905.8" cy="247.3" r="4.3"/>
<circle cx="903.6" cy="258.9" r="4.3"/>
<circle cx="905.8" cy="265.1" r="4.3"/>
<circle cx="913.2" cy="230.4" r="4.3"/>
<circle cx="919.4" cy="226.9" r="4.3"/>
<circle cx="919.4" cy="233.1" r="4.3"/>
<circle cx="918.6" cy="238.4" r="4.3"/>
<circle cx="919.0" cy="242.9" r="4.3"/>
<circle cx="916.3" cy="247.3" r="4.3"/>
<circle cx="915.9" cy="252.7" r="4.3"/>
<circle cx="915.0" cy="263.3" r="4.3"/>
<circle cx="907.4" cy="258.0" r="4.3"/>
<circle cx="915.8" cy="226.9" r="4.3"/>
<circle cx="935.0" cy="249.6" r="4.3"/>
<circle cx="874.4" cy="271.4" r="4.3"/>
<circle cx="865.3" cy="274.3" r="4.3"/>
<circle cx="871.6" cy="282.3" r="4.3"/>
<circle cx="872.4" cy="304.3" r="4.3"/>
<circle cx="894.2" cy="282.3" r="4.3"/>
<circle cx="892.4" cy="290.3" r="4.3"/>
<circle cx="893.3" cy="298.3" r="4.3"/>
<circle cx="903.1" cy="302.3" r="4.3"/>
<circle cx="893.8" cy="310.8" r="4.3"/>
<circle cx="899.6" cy="315.7" r="4.3"/>
<circle cx="904.9" cy="311.2" r="4.3"/>
<circle cx="903.6" cy="278.3" r="4.3"/>
<circle cx="904.9" cy="272.1" r="4.3"/>
<circle cx="906.7" cy="266.8" r="4.3"/>
<circle cx="911.9" cy="273.0" r="4.3"/>
<circle cx="916.3" cy="280.1" r="4.3"/>
<circle cx="912.8" cy="286.3" r="4.3"/>
<circle cx="917.2" cy="288.1" r="4.3"/>
<circle cx="916.3" cy="294.3" r="4.3"/>
<circle cx="918.1" cy="299.2" r="4.3"/>
<circle cx="918.1" cy="308.6" r="4.3"/>
<circle cx="936.8" cy="281.9" r="4.3"/>
<circle cx="933.2" cy="301.4" r="4.3"/>
<circle cx="938.6" cy="312.6" r="4.3"/>
<circle cx="940.3" cy="307.7" r="4.3"/>
<circle cx="897.6" cy="324.0" r="4.3"/>
<circle cx="887.6" cy="340.4" r="4.3"/>
<circle cx="891.6" cy="353.3" r="4.3"/>
<circle cx="864.4" cy="365.5" r="4.3"/>
<circle cx="899.6" cy="336.4" r="4.3"/>
<circle cx="902.2" cy="330.7" r="4.3"/>
<circle cx="903.1" cy="346.2" r="4.3"/>
<circle cx="906.2" cy="360.4" r="4.3"/>
<circle cx="906.1" cy="331.1" r="4.3"/>
<circle cx="905.7" cy="336.9" r="4.3"/>
<circle cx="905.7" cy="343.1" r="4.3"/>
<circle cx="907.4" cy="351.1" r="4.3"/>
<circle cx="905.7" cy="360.0" r="4.3"/>
<circle cx="915.4" cy="356.0" r="4.3"/>
<circle cx="913.7" cy="367.1" r="4.3"/>
<circle cx="914.6" cy="372.4" r="4.3"/>
<circle cx="911.0" cy="377.8" r="4.3"/>
<circle cx="928.8" cy="356.4" r="4.3"/>
<circle cx="929.2" cy="360.9" r="4.3"/>
<circle cx="929.7" cy="366.2" r="4.3"/>
<circle cx="930.1" cy="371.6" r="4.3"/>
<circle cx="926.1" cy="377.8" r="4.3"/>
<circle cx="882.5" cy="390.3" r="4.3"/>
<circle cx="904.9" cy="387.4" r="4.3"/>
<circle cx="906.7" cy="380.3" r="4.3"/>
<circle cx="900.4" cy="398.3" r="4.3"/>
<circle cx="904.0" cy="406.1" r="4.3"/>
<circle cx="899.6" cy="415.4" r="4.3"/>
<circle cx="904.9" cy="415.9" r="4.3"/>
<circle cx="901.3" cy="423.4" r="4.3"/>
<circle cx="902.2" cy="427.4" r="4.3"/>
<circle cx="911.9" cy="376.8" r="4.3"/>
<circle cx="908.3" cy="383.0" r="4.3"/>
<circle cx="906.6" cy="389.2" r="4.3"/>
<circle cx="914.1" cy="389.2" r="4.3"/>
<circle cx="912.8" cy="383.9" r="4.3"/>
<circle cx="905.7" cy="403.4" r="4.3"/>
<circle cx="913.2" cy="405.2" r="4.3"/>
<circle cx="913.7" cy="410.6" r="4.3"/>
<circle cx="906.6" cy="415.9" r="4.3"/>
<circle cx="914.6" cy="416.3" r="4.3"/>
<circle cx="927.9" cy="376.8" r="4.3"/>
<circle cx="926.1" cy="382.1" r="4.3"/>
<circle cx="929.7" cy="385.7" r="4.3"/>
<circle cx="925.7" cy="389.7" r="4.3"/>
<circle cx="929.7" cy="391.0" r="4.3"/>
<circle cx="927.9" cy="395.4" r="4.3"/>
<circle cx="927.0" cy="399.9" r="4.3"/>
<circle cx="929.7" cy="399.0" r="4.3"/>
<circle cx="928.8" cy="405.2" r="4.3"/>
<circle cx="929.7" cy="409.7" r="4.3"/>
<circle cx="929.7" cy="415.0" r="4.3"/>
<circle cx="930.6" cy="418.6" r="4.3"/>
<circle cx="931.4" cy="423.4" r="4.3"/>
<circle cx="902.0" cy="423.0" r="4.3"/>
<circle cx="902.5" cy="428.0" r="4.3"/>
<circle cx="902.0" cy="433.0" r="4.3"/>
<circle cx="902.5" cy="438.0" r="4.3"/>
<circle cx="903.5" cy="443.0" r="4.3"/>
<circle cx="906.0" cy="447.0" r="4.3"/>
<circle cx="904.0" cy="451.0" r="4.3"/>
<circle cx="907.0" cy="452.0" r="4.3"/>
<circle cx="903.0" cy="456.0" r="4.3"/>
<circle cx="907.0" cy="457.0" r="4.3"/>
<circle cx="904.0" cy="461.0" r="4.3"/>
<circle cx="908.0" cy="462.0" r="4.3"/>
<circle cx="905.0" cy="466.0" r="4.3"/>
<circle cx="908.0" cy="467.0" r="4.3"/>
<circle cx="906.0" cy="471.0" r="4.3"/>
<circle cx="909.0" cy="472.0" r="4.3"/>
<circle cx="907.0" cy="476.0" r="4.3"/>
<circle cx="909.0" cy="477.0" r="4.3"/>
<circle cx="879.6" cy="460.2" r="4.3"/>
<circle cx="889.3" cy="474.0" r="4.3"/>
<circle cx="895.6" cy="470.0" r="4.3"/>
<circle cx="931.6" cy="423.1" r="4.3"/>
<circle cx="929.0" cy="432.0" r="4.3"/>
<circle cx="931.5" cy="436.0" r="4.3"/>
<circle cx="926.0" cy="437.0" r="4.3"/>
<circle cx="922.0" cy="440.5" r="4.3"/>
<circle cx="926.5" cy="442.0" r="4.3"/>
<circle cx="931.5" cy="441.0" r="4.3"/>
<circle cx="927.0" cy="446.0" r="4.3"/>
<circle cx="931.5" cy="446.0" r="4.3"/>
<circle cx="927.5" cy="451.0" r="4.3"/>
<circle cx="931.0" cy="451.0" r="4.3"/>
<circle cx="927.5" cy="456.0" r="4.3"/>
<circle cx="931.0" cy="456.0" r="4.3"/>
<circle cx="927.5" cy="461.0" r="4.3"/>
<circle cx="932.0" cy="461.0" r="4.3"/>
<circle cx="928.0" cy="466.0" r="4.3"/>
<circle cx="932.0" cy="466.0" r="4.3"/>
<circle cx="928.5" cy="471.0" r="4.3"/>
<circle cx="932.5" cy="471.0" r="4.3"/>
<circle cx="929.0" cy="476.0" r="4.3"/>
<circle cx="933.0" cy="476.0" r="4.3"/>
<circle cx="906.7" cy="472.7" r="4.3"/>
<circle cx="909.3" cy="476.2" r="4.3"/>
<circle cx="905.8" cy="478.9" r="4.3"/>
<circle cx="901.3" cy="484.2" r="4.3"/>
<circle cx="909.3" cy="486.0" r="4.3"/>
<circle cx="897.8" cy="494.9" r="4.3"/>
<circle cx="904.0" cy="491.3" r="4.3"/>
<circle cx="909.3" cy="492.2" r="4.3"/>
<circle cx="902.2" cy="500.2" r="4.3"/>
<circle cx="910.2" cy="502.0" r="4.3"/>
<circle cx="907.6" cy="505.6" r="4.3"/>
<circle cx="899.1" cy="509.6" r="4.3"/>
<circle cx="897.3" cy="524.0" r="4.3"/>
<circle cx="908.0" cy="519.3" r="4.3"/>
<circle cx="908.0" cy="522.4" r="4.3"/>
<circle cx="898.7" cy="494.8" r="4.3"/>
<circle cx="901.3" cy="487.7" r="4.3"/>
<circle cx="899.6" cy="509.9" r="4.3"/>
<circle cx="901.3" cy="502.8" r="4.3"/>
<circle cx="904.9" cy="493.9" r="4.3"/>
<circle cx="905.8" cy="505.4" r="4.3"/>
<circle cx="910.1" cy="487.7" r="4.3"/>
<circle cx="909.2" cy="493.9" r="4.3"/>
<circle cx="911.0" cy="501.4" r="4.3"/>
<circle cx="908.3" cy="506.3" r="4.3"/>
<circle cx="903.9" cy="502.8" r="4.3"/>
<circle cx="931.0" cy="472.0" r="4.3"/>
<circle cx="934.0" cy="472.0" r="4.3"/>
<circle cx="931.0" cy="477.0" r="4.3"/>
<circle cx="934.5" cy="477.0" r="4.3"/>
<circle cx="931.0" cy="482.0" r="4.3"/>
<circle cx="935.0" cy="482.0" r="4.3"/>
<circle cx="931.5" cy="487.0" r="4.3"/>
<circle cx="934.5" cy="487.0" r="4.3"/>
<circle cx="931.5" cy="492.0" r="4.3"/>
<circle cx="935.0" cy="492.0" r="4.3"/>
<circle cx="932.0" cy="497.0" r="4.3"/>
<circle cx="934.5" cy="497.0" r="4.3"/>
<circle cx="929.5" cy="502.0" r="4.3"/>
<circle cx="934.0" cy="502.0" r="4.3"/>
<circle cx="930.0" cy="507.0" r="4.3"/>
<circle cx="933.5" cy="507.0" r="4.3"/>
<circle cx="930.0" cy="512.0" r="4.3"/>
<circle cx="933.0" cy="512.0" r="4.3"/>
<circle cx="929.5" cy="517.0" r="4.3"/>
<circle cx="932.0" cy="517.0" r="4.3"/>
<circle cx="928.5" cy="522.0" r="4.3"/>
<circle cx="930.5" cy="526.0" r="4.3"/>
<circle cx="923.6" cy="497.6" r="4.3"/>
<circle cx="929.3" cy="526.0" r="4.3"/>
<circle cx="881.6" cy="500.3" r="4.3"/>
<circle cx="870.5" cy="529.2" r="4.3"/>
<circle cx="895.6" cy="535.3" r="4.3"/>
<circle cx="896.4" cy="548.6" r="4.3"/>
<circle cx="891.6" cy="551.2" r="4.3"/>
<circle cx="894.7" cy="557.0" r="4.3"/>
<circle cx="890.7" cy="561.9" r="4.3"/>
<circle cx="890.5" cy="568.6" r="4.3"/>
<circle cx="879.6" cy="565.4" r="4.3"/>
<circle cx="913.0" cy="184.0" r="4.3"/>
<circle cx="917.5" cy="184.0" r="4.3"/>
<circle cx="921.5" cy="184.0" r="4.3"/>
<circle cx="913.0" cy="188.0" r="4.3"/>
<circle cx="917.5" cy="188.0" r="4.3"/>
<circle cx="921.5" cy="188.0" r="4.3"/>
<circle cx="913.0" cy="192.0" r="4.3"/>
<circle cx="917.5" cy="192.0" r="4.3"/>
<circle cx="921.5" cy="192.0" r="4.3"/>
<circle cx="913.0" cy="196.0" r="4.3"/>
<circle cx="917.5" cy="196.0" r="4.3"/>
<circle cx="921.5" cy="196.0" r="4.3"/>
<circle cx="913.0" cy="200.0" r="4.3"/>
<circle cx="917.5" cy="200.0" r="4.3"/>
<circle cx="921.5" cy="200.0" r="4.3"/>
<circle cx="913.0" cy="204.0" r="4.3"/>
<circle cx="917.5" cy="204.0" r="4.3"/>
<circle cx="921.5" cy="204.0" r="4.3"/>
<circle cx="914.0" cy="208.0" r="4.3"/>
<circle cx="918.0" cy="208.0" r="4.3"/>
<circle cx="921.0" cy="208.0" r="4.3"/>
<circle cx="915.0" cy="212.0" r="4.3"/>
<circle cx="919.5" cy="212.0" r="4.3"/>
<circle cx="917.5" cy="216.0" r="4.3"/>
<circle cx="918.0" cy="218.0" r="4.3"/>
<circle cx="939.5" cy="228.0" r="4.3"/>
<circle cx="939.5" cy="232.0" r="4.3"/>
<circle cx="939.5" cy="236.0" r="4.3"/>
<circle cx="939.5" cy="240.0" r="4.3"/>
<circle cx="939.5" cy="244.0" r="4.3"/>
<circle cx="939.5" cy="248.0" r="4.3"/>
<circle cx="939.5" cy="252.0" r="4.3"/>
<circle cx="939.5" cy="256.0" r="4.3"/>
<circle cx="939.5" cy="260.0" r="4.3"/>
<circle cx="939.5" cy="264.0" r="4.3"/>
<circle cx="939.5" cy="268.0" r="4.3"/>
<circle cx="939.5" cy="272.0" r="4.3"/>
<circle cx="939.5" cy="276.0" r="4.3"/>
<circle cx="939.5" cy="280.0" r="4.3"/>
<circle cx="939.5" cy="284.0" r="4.3"/>
<circle cx="939.5" cy="288.0" r="4.3"/>
<circle cx="939.5" cy="292.0" r="4.3"/>
<circle cx="939.5" cy="296.0" r="4.3"/>
<circle cx="939.5" cy="300.0" r="4.3"/>
<circle cx="939.5" cy="304.0" r="4.3"/>
<circle cx="939.5" cy="308.0" r="4.3"/>
<circle cx="939.5" cy="312.0" r="4.3"/>
<circle cx="939.5" cy="316.0" r="4.3"/>
<circle cx="941.5" cy="230.0" r="4.3"/>
<circle cx="941.5" cy="235.0" r="4.3"/>
<circle cx="941.5" cy="240.0" r="4.3"/>
<circle cx="941.5" cy="245.0" r="4.3"/>
<circle cx="941.5" cy="250.0" r="4.3"/>
<circle cx="941.5" cy="255.0" r="4.3"/>
<circle cx="941.5" cy="260.0" r="4.3"/>
<circle cx="941.5" cy="265.0" r="4.3"/>
<circle cx="941.5" cy="270.0" r="4.3"/>
<circle cx="941.5" cy="275.0" r="4.3"/>
<circle cx="941.5" cy="280.0" r="4.3"/>
<circle cx="941.5" cy="285.0" r="4.3"/>
<circle cx="941.5" cy="290.0" r="4.3"/>
<circle cx="941.5" cy="295.0" r="4.3"/>
<circle cx="936.3" cy="252.0" r="4.3"/>
<circle cx="936.3" cy="257.0" r="4.3"/>
<circle cx="936.3" cy="262.0" r="4.3"/>
<circle cx="936.3" cy="267.0" r="4.3"/>
<circle cx="936.3" cy="272.0" r="4.3"/>
<circle cx="936.3" cy="277.0" r="4.3"/>
<circle cx="936.3" cy="282.0" r="4.3"/>
<circle cx="936.3" cy="287.0" r="4.3"/>
<circle cx="936.3" cy="292.0" r="4.3"/>
<circle cx="936.3" cy="297.0" r="4.3"/>
<circle cx="936.3" cy="302.0" r="4.3"/>
<circle cx="936.3" cy="307.0" r="4.3"/>
<circle cx="910.0" cy="408.0" r="4.3"/>
<circle cx="909.0" cy="413.0" r="4.3"/>
<circle cx="911.0" cy="418.0" r="4.3"/>
<circle cx="925.0" cy="395.0" r="4.3"/>
<circle cx="925.5" cy="405.0" r="4.3"/>
<circle cx="926.0" cy="412.0" r="4.3"/>
<circle cx="900.5" cy="445.0" r="4.3"/>
<circle cx="900.5" cy="452.0" r="4.3"/>
<circle cx="901.0" cy="459.0" r="4.3"/>
<circle cx="901.5" cy="466.0" r="4.3"/>
</g>
<rect x="708.0" y="109.0" width="347.0" height="463.0" fill="none" stroke="#000" stroke-width="1.6"/>
<line x1="761.23" y1="572.0" x2="761.23" y2="579.0" stroke="#000" stroke-width="1.6"/>
<text x="761.23" y="603.5" font-size="22.2" text-anchor="middle">32.5</text>
<line x1="833.40" y1="572.0" x2="833.40" y2="579.0" stroke="#000" stroke-width="1.6"/>
<text x="833.40" y="603.5" font-size="22.2" text-anchor="middle">35.0</text>
<line x1="905.58" y1="572.0" x2="905.58" y2="579.0" stroke="#000" stroke-width="1.6"/>
<text x="905.58" y="603.5" font-size="22.2" text-anchor="middle">37.5</text>
<line x1="977.75" y1="572.0" x2="977.75" y2="579.0" stroke="#000" stroke-width="1.6"/>
<text x="977.75" y="603.5" font-size="22.2" text-anchor="middle">40.0</text>
<line x1="1049.92" y1="572.0" x2="1049.92" y2="579.0" stroke="#000" stroke-width="1.6"/>
<text x="1049.92" y="603.5" font-size="22.2" text-anchor="middle">42.5</text>
<line x1="701.0" y1="109.00" x2="708.0" y2="109.00" stroke="#000" stroke-width="1.6"/>
<text x="693.00" y="116.50" font-size="22.2" text-anchor="end">8</text>
<line x1="701.0" y1="166.88" x2="708.0" y2="166.88" stroke="#000" stroke-width="1.6"/>
<text x="693.00" y="174.38" font-size="22.2" text-anchor="end">6</text>
<line x1="701.0" y1="224.75" x2="708.0" y2="224.75" stroke="#000" stroke-width="1.6"/>
<text x="693.00" y="232.25" font-size="22.2" text-anchor="end">4</text>
<line x1="701.0" y1="282.62" x2="708.0" y2="282.62" stroke="#000" stroke-width="1.6"/>
<text x="693.00" y="290.12" font-size="22.2" text-anchor="end">2</text>
<line x1="701.0" y1="340.50" x2="708.0" y2="340.50" stroke="#000" stroke-width="1.6"/>
<text x="693.00" y="348.00" font-size="22.2" text-anchor="end">0</text>
<line x1="701.0" y1="398.38" x2="708.0" y2="398.38" stroke="#000" stroke-width="1.6"/>
<text x="693.00" y="405.88" font-size="22.2" text-anchor="end">-2</text>
<line x1="701.0" y1="456.25" x2="708.0" y2="456.25" stroke="#000" stroke-width="1.6"/>
<text x="693.00" y="463.75" font-size="22.2" text-anchor="end">-4</text>
<line x1="701.0" y1="514.12" x2="708.0" y2="514.12" stroke="#000" stroke-width="1.6"/>
<text x="693.00" y="521.62" font-size="22.2" text-anchor="end">-6</text>
<line x1="701.0" y1="572.00" x2="708.0" y2="572.00" stroke="#000" stroke-width="1.6"/>
<text x="693.00" y="579.50" font-size="22.2" text-anchor="end">-8</text>
<text x="881.50" y="636" font-size="26" text-anchor="middle">x [<tspan font-style="italic">μ</tspan>m]</text>
<text transform="translate(658.00,342) rotate(-90)" font-size="26" text-anchor="middle">y [<tspan font-style="italic">μ</tspan>m]</text>
<rect x="1063.0" y="109.0" width="17.0" height="463.0" fill="url(#seis)" stroke="#000" stroke-width="1.6"/>
<line x1="1080.0" y1="155.98" x2="1087.0" y2="155.98" stroke="#000" stroke-width="1.6"/>
<text x="1095.00" y="163.48" font-size="22.2">4</text>
<line x1="1080.0" y1="248.42" x2="1087.0" y2="248.42" stroke="#000" stroke-width="1.6"/>
<text x="1095.00" y="255.92" font-size="22.2">2</text>
<line x1="1080.0" y1="340.86" x2="1087.0" y2="340.86" stroke="#000" stroke-width="1.6"/>
<text x="1095.00" y="348.36" font-size="22.2">0</text>
<line x1="1080.0" y1="433.30" x2="1087.0" y2="433.30" stroke="#000" stroke-width="1.6"/>
<text x="1095.00" y="440.80" font-size="22.2">-2</text>
<line x1="1080.0" y1="525.74" x2="1087.0" y2="525.74" stroke="#000" stroke-width="1.6"/>
<text x="1095.00" y="533.24" font-size="22.2">-4</text>
<text x="1078.80" y="102.8" font-size="22.2" text-anchor="end">1e13</text>
<text transform="translate(1139.00,341) rotate(-90)" font-size="26" letter-spacing="-0.37" text-anchor="middle">Transverse Electric Field V/m</text>
</svg></body></html>
